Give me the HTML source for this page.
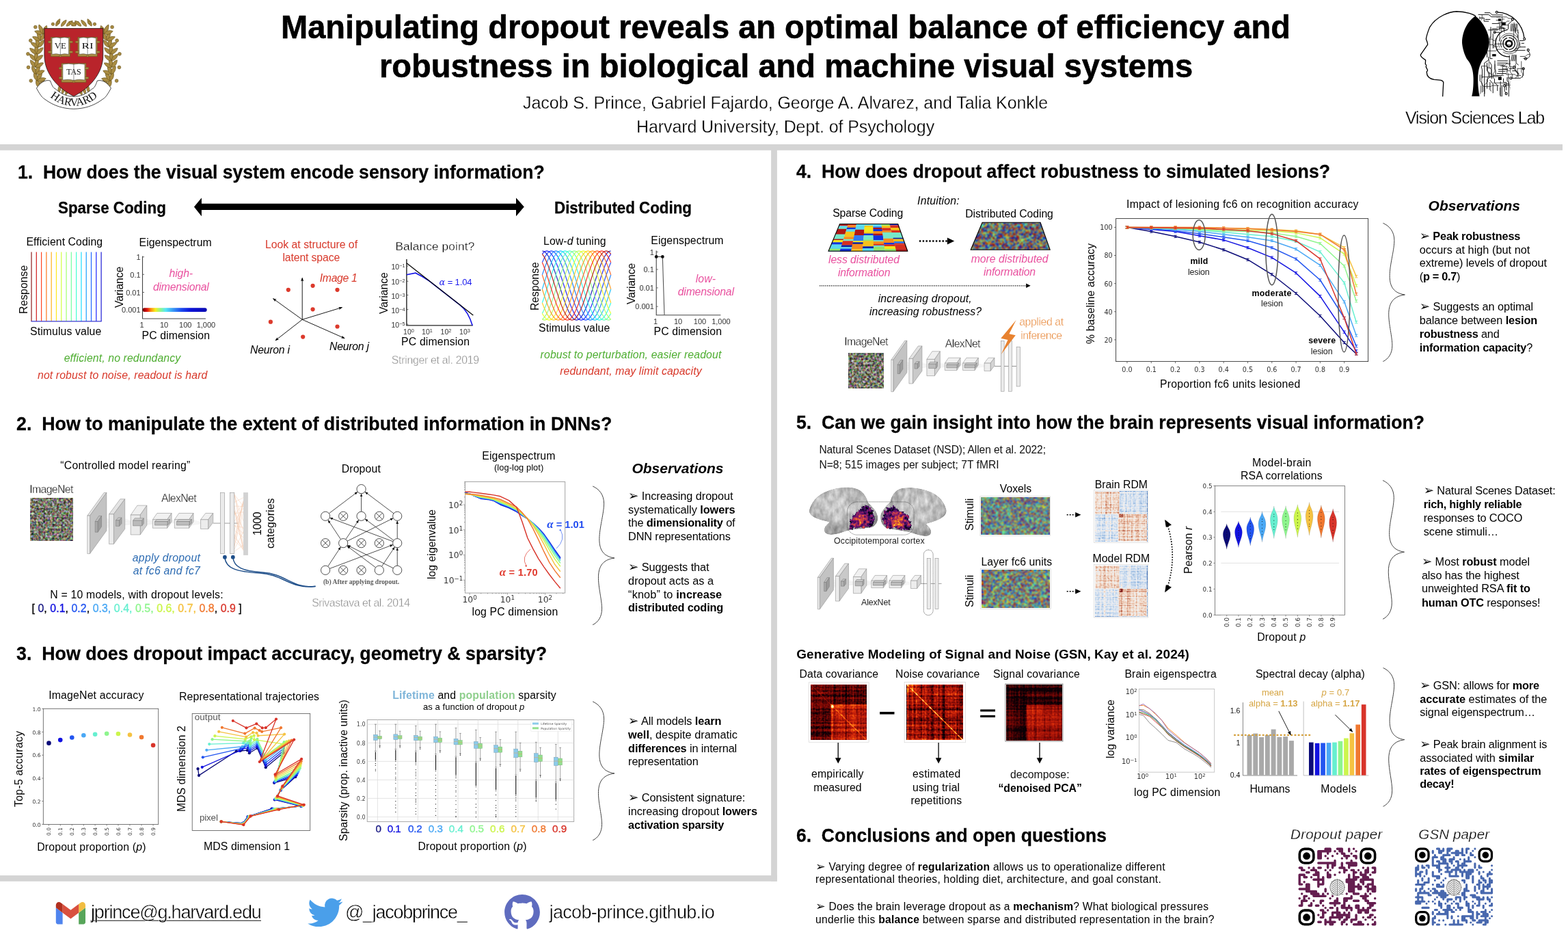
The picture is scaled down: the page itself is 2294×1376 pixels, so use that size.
<!DOCTYPE html>
<html lang="en"><head><meta charset="utf-8"><title>Manipulating dropout reveals an optimal balance of efficiency and robustness in biological and machine visual systems</title>
<style>
*{margin:0;padding:0;box-sizing:border-box}
html,body{width:2294px;height:1376px;background:#fff;overflow:hidden}
body{position:relative;font-family:"Liberation Sans",sans-serif;color:#000}
#gfx{position:absolute;left:0;top:0;width:2294px;height:1376px}
.t{position:absolute;white-space:nowrap;line-height:1em;transform-origin:0 0}
.d{font-family:"DejaVu Sans","Liberation Sans",sans-serif}
b{font-weight:700}
.lt{-webkit-text-stroke:0.45px #fff}
.lt2{-webkit-text-stroke:0.3px #fff}
.hv{-webkit-text-stroke:0.6px #000}
.hv2{-webkit-text-stroke:0.3px #000}
.md{-webkit-text-stroke:0.35px currentColor}
.md span{-webkit-text-stroke:0.35px currentColor}
.ar{font-family:"DejaVu Sans",sans-serif;font-size:1.12em;line-height:0}
sup{font-size:.7em;vertical-align:baseline;position:relative;top:-.45em}
</style></head><body>
<svg id="gfx" width="2294" height="1376" viewBox="0 0 2294 1376">
<defs><clipPath id="vslc"><path d="M905 170 L1000 125 L1190 112 L1400 170 L1520 300 L1570 480 L1585 600 L1640 690 L1580 770 L1560 880 L1540 1000 L1380 1012 L1362 1245 L962 1245 L940 1000 L1000 760 L1092 520 L1060 360 L1010 250Z"/></clipPath>
<linearGradient id="jetbar" x1="0" x2="1" y1="0" y2="0"><stop offset="0" stop-color="#6b0000"/><stop offset="0.07" stop-color="#e01010"/><stop offset="0.13" stop-color="#ff8a10"/><stop offset="0.2" stop-color="#f4f01c"/><stop offset="0.28" stop-color="#8ef58e"/><stop offset="0.36" stop-color="#55e6f5"/><stop offset="0.47" stop-color="#3a9bf5"/><stop offset="0.6" stop-color="#1c4cf0"/><stop offset="0.75" stop-color="#0c12d8"/><stop offset="1" stop-color="#0a0ab0"/></linearGradient>
<marker id="ah" viewBox="0 0 10 10" refX="9" refY="5" markerWidth="5.5" markerHeight="5.5" orient="auto-start-reverse" markerUnits="userSpaceOnUse"><path d="M0 1.2 L10 5 L0 8.8 L2 5 Z" fill="#000"/></marker>
<filter id="mos3" x="0" y="0" width="1" height="1" color-interpolation-filters="sRGB"><feTurbulence type="fractalNoise" baseFrequency="0.3" numOctaves="2" seed="3" result="n"/><feColorMatrix in="n" type="matrix" values="0.68 0 0 0.95 -0.34  0 0.68 0 0.95 -0.34  0 0 0.68 0.95 -0.39  0 0 0 0 1"/><feGaussianBlur stdDeviation="0.45"/><feComponentTransfer><feFuncA type="linear" slope="0" intercept="1"/></feComponentTransfer></filter>
<marker id="ah2" viewBox="0 0 10 10" refX="9.5" refY="5" markerWidth="4.6" markerHeight="4.6" orient="auto" markerUnits="userSpaceOnUse"><path d="M0 1 L10 5 L0 9 Z" fill="#111"/></marker>
<filter id="jn1" x="0" y="0" width="1" height="1" color-interpolation-filters="sRGB"><feTurbulence type="fractalNoise" baseFrequency="0.36" numOctaves="2" seed="4"/><feColorMatrix type="matrix" values="4.2 0 0 0 -1.6  4.2 0 0 0 -1.6  4.2 0 0 0 -1.6  0 0 0 0 1"/><feComponentTransfer><feFuncR type="table" tableValues="0.00 0.00 0.00 0.00 0.00 0.00 0.00 0.00 0.03 0.17 0.30 0.43 0.57 0.70 0.83 0.97 1.00 1.00 1.00 1.00 1.00 0.97 0.78 0.59"/><feFuncG type="table" tableValues="0.00 0.00 0.00 0.12 0.28 0.45 0.61 0.78 0.94 1.00 1.00 1.00 1.00 1.00 1.00 0.96 0.81 0.66 0.51 0.35 0.20 0.05 0.00 0.00"/><feFuncB type="table" tableValues="0.64 0.82 1.00 1.00 1.00 1.00 1.00 1.00 0.93 0.80 0.67 0.53 0.40 0.27 0.13 0.00 0.00 0.00 0.00 0.00 0.00 0.00 0.00 0.00"/></feComponentTransfer><feGaussianBlur stdDeviation="0.8"/><feComponentTransfer><feFuncA type="linear" slope="0" intercept="1"/></feComponentTransfer></filter>
<clipPath id="cpT2"><path d="M1437.1 325.2 L1522.1 325.2 L1536.2 365.3 L1420.2 365.3Z"/></clipPath>
<radialGradient id="brg" cx="0.42" cy="0.38" r="0.7"><stop offset="0" stop-color="#cfcfcf"/><stop offset="0.5" stop-color="#b9b9b9"/><stop offset="0.85" stop-color="#9a9a9a"/><stop offset="1" stop-color="#7a7a7a"/></radialGradient>
<radialGradient id="brg2" cx="0.58" cy="0.38" r="0.7"><stop offset="0" stop-color="#cfcfcf"/><stop offset="0.5" stop-color="#b9b9b9"/><stop offset="0.85" stop-color="#9a9a9a"/><stop offset="1" stop-color="#7a7a7a"/></radialGradient>
<filter id="brtex" x="-0.05" y="-0.05" width="1.1" height="1.1" color-interpolation-filters="sRGB"><feTurbulence type="fractalNoise" baseFrequency="0.022 0.012" numOctaves="3" seed="8" result="n"/><feColorMatrix in="n" type="matrix" values="1 0 0 0 0  1 0 0 0 0  1 0 0 0 0  0 0 0 0 1" result="g"/><feComposite in="SourceGraphic" in2="g" operator="arithmetic" k1="0" k2="1" k3="0.4" k4="-0.2" result="c"/><feGaussianBlur in="SourceAlpha" stdDeviation="6" result="sa"/><feComposite in="c" in2="SourceAlpha" operator="in"/></filter>
<radialGradient id="pgl" cx="0.42" cy="0.62" r="0.6"><stop offset="0" stop-color="#c8c8c8"/><stop offset="0.25" stop-color="#8a8a8a"/><stop offset="0.6" stop-color="#4a4a4a"/><stop offset="1" stop-color="#2c2c2c"/></radialGradient>
<radialGradient id="pgr" cx="0.5" cy="0.6" r="0.6"><stop offset="0" stop-color="#d4d4d4"/><stop offset="0.3" stop-color="#969696"/><stop offset="0.65" stop-color="#4c4c4c"/><stop offset="1" stop-color="#2c2c2c"/></radialGradient>
<filter id="infn" x="-0.15" y="-0.15" width="1.3" height="1.3" color-interpolation-filters="sRGB"><feTurbulence type="fractalNoise" baseFrequency="0.035" numOctaves="3" seed="5" result="n"/><feDisplacementMap in="SourceGraphic" in2="n" scale="55" xChannelSelector="R" yChannelSelector="G" result="d"/><feColorMatrix in="n" type="matrix" values="0 0 1 0 0  0 0 1 0 0  0 0 1 0 0  0 0 0 0 1" result="g"/><feComposite in="d" in2="g" operator="arithmetic" k1="0" k2="1" k3="1.1" k4="-0.55" result="c"/><feComponentTransfer in="c" result="m"><feFuncR type="table" tableValues="0 0.1 0.2 0.3 0.42 0.55 0.68 0.8 0.9 0.96 0.98 0.98"/><feFuncG type="table" tableValues="0 0.03 0.05 0.06 0.08 0.12 0.18 0.26 0.38 0.55 0.75 0.92"/><feFuncB type="table" tableValues="0.02 0.18 0.33 0.4 0.42 0.4 0.35 0.27 0.18 0.1 0.18 0.5"/></feComponentTransfer><feComposite in="m" in2="d" operator="in"/></filter>
<filter id="jn2" x="0" y="0" width="1" height="1" color-interpolation-filters="sRGB"><feTurbulence type="fractalNoise" baseFrequency="0.55" numOctaves="2" seed="7"/><feColorMatrix type="matrix" values="3.4 0 0 0 -1.25  3.4 0 0 0 -1.25  3.4 0 0 0 -1.25  0 0 0 0 1"/><feComponentTransfer><feFuncR type="table" tableValues="0.00 0.00 0.00 0.00 0.00 0.00 0.00 0.00 0.13 0.25 0.38 0.50 0.63 0.75 0.88 1.00 1.00 1.00 1.00 1.00 1.00 0.99 0.81 0.64"/><feFuncG type="table" tableValues="0.00 0.00 0.13 0.28 0.44 0.59 0.75 0.90 1.00 1.00 1.00 1.00 1.00 1.00 1.00 0.92 0.78 0.64 0.49 0.35 0.21 0.06 0.00 0.00"/><feFuncB type="table" tableValues="0.86 1.00 1.00 1.00 1.00 1.00 1.00 0.96 0.84 0.72 0.59 0.47 0.34 0.22 0.09 0.00 0.00 0.00 0.00 0.00 0.00 0.00 0.00 0.00"/></feComponentTransfer><feGaussianBlur stdDeviation="0.85"/><feComponentTransfer><feFuncA type="linear" slope="0" intercept="1"/></feComponentTransfer></filter>
<filter id="jn3" x="0" y="0" width="1" height="1" color-interpolation-filters="sRGB"><feTurbulence type="fractalNoise" baseFrequency="0.3 0.85" numOctaves="2" seed="9"/><feColorMatrix type="matrix" values="3.4 0 0 0 -1.22  3.4 0 0 0 -1.22  3.4 0 0 0 -1.22  0 0 0 0 1"/><feComponentTransfer><feFuncR type="table" tableValues="0.00 0.00 0.00 0.00 0.00 0.00 0.00 0.00 0.13 0.25 0.38 0.50 0.63 0.75 0.88 1.00 1.00 1.00 1.00 1.00 1.00 0.99 0.81 0.64"/><feFuncG type="table" tableValues="0.00 0.00 0.13 0.28 0.44 0.59 0.75 0.90 1.00 1.00 1.00 1.00 1.00 1.00 1.00 0.92 0.78 0.64 0.49 0.35 0.21 0.06 0.00 0.00"/><feFuncB type="table" tableValues="0.86 1.00 1.00 1.00 1.00 1.00 1.00 0.96 0.84 0.72 0.59 0.47 0.34 0.22 0.09 0.00 0.00 0.00 0.00 0.00 0.00 0.00 0.00 0.00"/></feComponentTransfer><feGaussianBlur stdDeviation="1.0 0.8"/><feComponentTransfer><feFuncA type="linear" slope="0" intercept="1"/></feComponentTransfer></filter>
<filter id="rdmf" x="0" y="0" width="1" height="1" color-interpolation-filters="sRGB"><feTurbulence type="fractalNoise" baseFrequency="0.45 0.003" numOctaves="2" seed="3"/><feColorMatrix type="matrix" values="1 0 0 0 0  1 0 0 0 0  1 0 0 0 0  0 0 0 0 1" result="nx"/><feTurbulence type="fractalNoise" baseFrequency="0.003 0.45" numOctaves="2" seed="8"/><feColorMatrix type="matrix" values="1 0 0 0 0  1 0 0 0 0  1 0 0 0 0  0 0 0 0 1" result="ny"/><feTurbulence type="fractalNoise" baseFrequency="0.4" numOctaves="1" seed="12"/><feColorMatrix type="matrix" values="1 0 0 0 0  1 0 0 0 0  1 0 0 0 0  0 0 0 0 1" result="nf"/><feComposite in="nx" in2="ny" operator="arithmetic" k1="0" k2="0.5" k3="0.5" k4="0" result="nxy"/><feComposite in="nxy" in2="nf" operator="arithmetic" k1="0" k2="0.85" k3="0.35" k4="-0.1" result="nn"/><feComposite in="SourceGraphic" in2="nn" operator="arithmetic" k1="0" k2="1" k3="1" k4="-0.5" result="sum"/><feGaussianBlur in="sum" stdDeviation="0.4" result="sum"/><feComponentTransfer in="sum"><feFuncR type="table" tableValues="0.25 0.42 0.6 0.76 0.88 0.95 0.95 0.9 0.8 0.66 0.5"/><feFuncG type="table" tableValues="0.42 0.58 0.73 0.84 0.91 0.94 0.86 0.72 0.52 0.3 0.12"/><feFuncB type="table" tableValues="0.7 0.8 0.88 0.93 0.95 0.93 0.8 0.62 0.42 0.24 0.12"/><feFuncA type="linear" slope="0" intercept="1"/></feComponentTransfer></filter>
<filter id="rdmf2" x="0" y="0" width="1" height="1" color-interpolation-filters="sRGB"><feTurbulence type="fractalNoise" baseFrequency="0.45 0.003" numOctaves="2" seed="6"/><feColorMatrix type="matrix" values="1 0 0 0 0  1 0 0 0 0  1 0 0 0 0  0 0 0 0 1" result="nx"/><feTurbulence type="fractalNoise" baseFrequency="0.003 0.45" numOctaves="2" seed="11"/><feColorMatrix type="matrix" values="1 0 0 0 0  1 0 0 0 0  1 0 0 0 0  0 0 0 0 1" result="ny"/><feTurbulence type="fractalNoise" baseFrequency="0.4" numOctaves="1" seed="15"/><feColorMatrix type="matrix" values="1 0 0 0 0  1 0 0 0 0  1 0 0 0 0  0 0 0 0 1" result="nf"/><feComposite in="nx" in2="ny" operator="arithmetic" k1="0" k2="0.5" k3="0.5" k4="0" result="nxy"/><feComposite in="nxy" in2="nf" operator="arithmetic" k1="0" k2="0.85" k3="0.35" k4="-0.1" result="nn"/><feComposite in="SourceGraphic" in2="nn" operator="arithmetic" k1="0" k2="1" k3="1" k4="-0.5" result="sum"/><feGaussianBlur in="sum" stdDeviation="0.4" result="sum"/><feComponentTransfer in="sum"><feFuncR type="table" tableValues="0.25 0.42 0.6 0.76 0.88 0.95 0.95 0.9 0.8 0.66 0.5"/><feFuncG type="table" tableValues="0.42 0.58 0.73 0.84 0.91 0.94 0.86 0.72 0.52 0.3 0.12"/><feFuncB type="table" tableValues="0.7 0.8 0.88 0.93 0.95 0.93 0.8 0.62 0.42 0.24 0.12"/><feFuncA type="linear" slope="0" intercept="1"/></feComponentTransfer></filter>
<filter id="hot1" x="0" y="0" width="1" height="1" color-interpolation-filters="sRGB"><feTurbulence type="fractalNoise" baseFrequency="0.3 0.003" numOctaves="2" seed="2"/><feColorMatrix type="matrix" values="1 0 0 0 0  1 0 0 0 0  1 0 0 0 0  0 0 0 0 1" result="nx"/><feTurbulence type="fractalNoise" baseFrequency="0.003 0.3" numOctaves="2" seed="7"/><feColorMatrix type="matrix" values="1 0 0 0 0  1 0 0 0 0  1 0 0 0 0  0 0 0 0 1" result="ny"/><feTurbulence type="fractalNoise" baseFrequency="0.4" numOctaves="1" seed="11"/><feColorMatrix type="matrix" values="1 0 0 0 0  1 0 0 0 0  1 0 0 0 0  0 0 0 0 1" result="nf"/><feComposite in="nx" in2="ny" operator="arithmetic" k1="0" k2="0.5" k3="0.5" k4="0" result="nxy"/><feComposite in="nxy" in2="nf" operator="arithmetic" k1="0" k2="1.05" k3="0.35" k4="-0.2" result="nn"/><feComposite in="SourceGraphic" in2="nn" operator="arithmetic" k1="0" k2="1" k3="1" k4="-0.5" result="sum"/><feGaussianBlur in="sum" stdDeviation="0.4" result="sum"/><feComponentTransfer in="sum"><feFuncR type="table" tableValues="0.04 0.25 0.45 0.62 0.78 0.9 0.98 1 1 1"/><feFuncG type="table" tableValues="0 0.01 0.03 0.07 0.13 0.25 0.45 0.7 0.88 1"/><feFuncB type="table" tableValues="0.02 0.02 0.02 0.03 0.04 0.05 0.08 0.15 0.4 0.8"/><feFuncA type="linear" slope="0" intercept="1"/></feComponentTransfer></filter>
<filter id="hot2" x="0" y="0" width="1" height="1" color-interpolation-filters="sRGB"><feTurbulence type="fractalNoise" baseFrequency="0.3 0.003" numOctaves="2" seed="12"/><feColorMatrix type="matrix" values="1 0 0 0 0  1 0 0 0 0  1 0 0 0 0  0 0 0 0 1" result="nx"/><feTurbulence type="fractalNoise" baseFrequency="0.003 0.3" numOctaves="2" seed="17"/><feColorMatrix type="matrix" values="1 0 0 0 0  1 0 0 0 0  1 0 0 0 0  0 0 0 0 1" result="ny"/><feTurbulence type="fractalNoise" baseFrequency="0.4" numOctaves="1" seed="21"/><feColorMatrix type="matrix" values="1 0 0 0 0  1 0 0 0 0  1 0 0 0 0  0 0 0 0 1" result="nf"/><feComposite in="nx" in2="ny" operator="arithmetic" k1="0" k2="0.5" k3="0.5" k4="0" result="nxy"/><feComposite in="nxy" in2="nf" operator="arithmetic" k1="0" k2="1.3" k3="0.45" k4="-0.38" result="nn"/><feComposite in="SourceGraphic" in2="nn" operator="arithmetic" k1="0" k2="1" k3="1" k4="-0.5" result="sum"/><feGaussianBlur in="sum" stdDeviation="0.4" result="sum"/><feComponentTransfer in="sum"><feFuncR type="table" tableValues="0.04 0.25 0.45 0.62 0.78 0.9 0.98 1 1 1"/><feFuncG type="table" tableValues="0 0.01 0.03 0.07 0.13 0.25 0.45 0.7 0.88 1"/><feFuncB type="table" tableValues="0.02 0.02 0.02 0.03 0.04 0.05 0.08 0.15 0.4 0.8"/><feFuncA type="linear" slope="0" intercept="1"/></feComponentTransfer></filter>
<filter id="hot3" x="0" y="0" width="1" height="1" color-interpolation-filters="sRGB"><feTurbulence type="fractalNoise" baseFrequency="0.3 0.003" numOctaves="2" seed="21"/><feColorMatrix type="matrix" values="1 0 0 0 0  1 0 0 0 0  1 0 0 0 0  0 0 0 0 1" result="nx"/><feTurbulence type="fractalNoise" baseFrequency="0.003 0.3" numOctaves="2" seed="26"/><feColorMatrix type="matrix" values="1 0 0 0 0  1 0 0 0 0  1 0 0 0 0  0 0 0 0 1" result="ny"/><feTurbulence type="fractalNoise" baseFrequency="0.4" numOctaves="1" seed="30"/><feColorMatrix type="matrix" values="1 0 0 0 0  1 0 0 0 0  1 0 0 0 0  0 0 0 0 1" result="nf"/><feComposite in="nx" in2="ny" operator="arithmetic" k1="0" k2="0.5" k3="0.5" k4="0" result="nxy"/><feComposite in="nxy" in2="nf" operator="arithmetic" k1="0" k2="0.7" k3="0.25" k4="0.03" result="nn"/><feComposite in="SourceGraphic" in2="nn" operator="arithmetic" k1="0" k2="1" k3="1" k4="-0.5" result="sum"/><feGaussianBlur in="sum" stdDeviation="0.4" result="sum"/><feComponentTransfer in="sum"><feFuncR type="table" tableValues="0.04 0.25 0.45 0.62 0.78 0.9 0.98 1 1 1"/><feFuncG type="table" tableValues="0 0.01 0.03 0.07 0.13 0.25 0.45 0.7 0.88 1"/><feFuncB type="table" tableValues="0.02 0.02 0.02 0.03 0.04 0.05 0.08 0.15 0.4 0.8"/><feFuncA type="linear" slope="0" intercept="1"/></feComponentTransfer></filter>
<marker id="ah3" viewBox="0 0 10 10" refX="9" refY="5" markerWidth="6" markerHeight="6" orient="auto" markerUnits="userSpaceOnUse"><path d="M0 1 L10 5 L0 9 Z" fill="#000"/></marker></defs>
<rect x="0" y="211" width="2286" height="8.8" fill="#d4d4d4"/>
<rect x="1128.1" y="219" width="8.8" height="1069.8" fill="#d4d4d4"/>
<rect x="0" y="1280.1" width="1136.9" height="8.7" fill="#d4d4d4"/>
<g transform="translate(30 20) scale(0.109)"><path transform="translate(245 990) rotate(-103)" d="M0 0 C36 -40 96 -24 120 0 C96 20 36 40 0 0Z" fill="#a98c42" stroke="#6b5620" stroke-width="6"/><path transform="translate(245 990) rotate(-55)" d="M0 0 C40.5 -40 108 -24 135 0 C108 20 40.5 40 0 0Z" fill="#a98c42" stroke="#6b5620" stroke-width="6"/><path transform="translate(245 990) rotate(-7)" d="M0 0 C36 -40 96 -24 120 0 C96 20 36 40 0 0Z" fill="#a98c42" stroke="#6b5620" stroke-width="6"/><circle cx="140" cy="900" r="22" fill="#a98c42" stroke="#6b5620" stroke-width="6"/><path transform="translate(225.71 900) rotate(-110.5)" d="M0 0 C36 -40 96 -24 120 0 C96 20 36 40 0 0Z" fill="#a98c42" stroke="#6b5620" stroke-width="6"/><path transform="translate(225.71 900) rotate(-62.5)" d="M0 0 C40.5 -40 108 -24 135 0 C108 20 40.5 40 0 0Z" fill="#a98c42" stroke="#6b5620" stroke-width="6"/><path transform="translate(225.71 900) rotate(-14.5)" d="M0 0 C36 -40 96 -24 120 0 C96 20 36 40 0 0Z" fill="#a98c42" stroke="#6b5620" stroke-width="6"/><path transform="translate(210.5 810) rotate(-118)" d="M0 0 C36 -40 96 -24 120 0 C96 20 36 40 0 0Z" fill="#a98c42" stroke="#6b5620" stroke-width="6"/><path transform="translate(210.5 810) rotate(-70)" d="M0 0 C40.5 -40 108 -24 135 0 C108 20 40.5 40 0 0Z" fill="#a98c42" stroke="#6b5620" stroke-width="6"/><path transform="translate(210.5 810) rotate(-22)" d="M0 0 C36 -40 96 -24 120 0 C96 20 36 40 0 0Z" fill="#a98c42" stroke="#6b5620" stroke-width="6"/><circle cx="105.5" cy="720" r="22" fill="#a98c42" stroke="#6b5620" stroke-width="6"/><path transform="translate(202.83 720) rotate(-125.5)" d="M0 0 C36 -40 96 -24 120 0 C96 20 36 40 0 0Z" fill="#a98c42" stroke="#6b5620" stroke-width="6"/><path transform="translate(202.83 720) rotate(-77.5)" d="M0 0 C40.5 -40 108 -24 135 0 C108 20 40.5 40 0 0Z" fill="#a98c42" stroke="#6b5620" stroke-width="6"/><path transform="translate(202.83 720) rotate(-29.5)" d="M0 0 C36 -40 96 -24 120 0 C96 20 36 40 0 0Z" fill="#a98c42" stroke="#6b5620" stroke-width="6"/><path transform="translate(205 630) rotate(-133)" d="M0 0 C36 -40 96 -24 120 0 C96 20 36 40 0 0Z" fill="#a98c42" stroke="#6b5620" stroke-width="6"/><path transform="translate(205 630) rotate(-85)" d="M0 0 C40.5 -40 108 -24 135 0 C108 20 40.5 40 0 0Z" fill="#a98c42" stroke="#6b5620" stroke-width="6"/><path transform="translate(205 630) rotate(-37)" d="M0 0 C36 -40 96 -24 120 0 C96 20 36 40 0 0Z" fill="#a98c42" stroke="#6b5620" stroke-width="6"/><circle cx="100" cy="540" r="22" fill="#a98c42" stroke="#6b5620" stroke-width="6"/><path transform="translate(217.83 540) rotate(-140.5)" d="M0 0 C36 -40 96 -24 120 0 C96 20 36 40 0 0Z" fill="#a98c42" stroke="#6b5620" stroke-width="6"/><path transform="translate(217.83 540) rotate(-92.5)" d="M0 0 C40.5 -40 108 -24 135 0 C108 20 40.5 40 0 0Z" fill="#a98c42" stroke="#6b5620" stroke-width="6"/><path transform="translate(217.83 540) rotate(-44.5)" d="M0 0 C36 -40 96 -24 120 0 C96 20 36 40 0 0Z" fill="#a98c42" stroke="#6b5620" stroke-width="6"/><path transform="translate(240.5 450) rotate(-148)" d="M0 0 C36 -40 96 -24 120 0 C96 20 36 40 0 0Z" fill="#a98c42" stroke="#6b5620" stroke-width="6"/><path transform="translate(240.5 450) rotate(-100)" d="M0 0 C40.5 -40 108 -24 135 0 C108 20 40.5 40 0 0Z" fill="#a98c42" stroke="#6b5620" stroke-width="6"/><path transform="translate(240.5 450) rotate(-52)" d="M0 0 C36 -40 96 -24 120 0 C96 20 36 40 0 0Z" fill="#a98c42" stroke="#6b5620" stroke-width="6"/><circle cx="135.5" cy="360" r="22" fill="#a98c42" stroke="#6b5620" stroke-width="6"/><path transform="translate(270.71 360) rotate(-155.5)" d="M0 0 C36 -40 96 -24 120 0 C96 20 36 40 0 0Z" fill="#a98c42" stroke="#6b5620" stroke-width="6"/><path transform="translate(270.71 360) rotate(-107.5)" d="M0 0 C40.5 -40 108 -24 135 0 C108 20 40.5 40 0 0Z" fill="#a98c42" stroke="#6b5620" stroke-width="6"/><path transform="translate(270.71 360) rotate(-59.5)" d="M0 0 C36 -40 96 -24 120 0 C96 20 36 40 0 0Z" fill="#a98c42" stroke="#6b5620" stroke-width="6"/><path transform="translate(305 270) rotate(-163)" d="M0 0 C36 -40 96 -24 120 0 C96 20 36 40 0 0Z" fill="#a98c42" stroke="#6b5620" stroke-width="6"/><path transform="translate(305 270) rotate(-115)" d="M0 0 C40.5 -40 108 -24 135 0 C108 20 40.5 40 0 0Z" fill="#a98c42" stroke="#6b5620" stroke-width="6"/><path transform="translate(305 270) rotate(-67)" d="M0 0 C36 -40 96 -24 120 0 C96 20 36 40 0 0Z" fill="#a98c42" stroke="#6b5620" stroke-width="6"/><circle cx="200" cy="180" r="22" fill="#a98c42" stroke="#6b5620" stroke-width="6"/><path transform="translate(1185 990) rotate(-173)" d="M0 0 C36 -40 96 -24 120 0 C96 20 36 40 0 0Z" fill="#a98c42" stroke="#6b5620" stroke-width="6"/><path transform="translate(1185 990) rotate(-125)" d="M0 0 C40.5 -40 108 -24 135 0 C108 20 40.5 40 0 0Z" fill="#a98c42" stroke="#6b5620" stroke-width="6"/><path transform="translate(1185 990) rotate(-77)" d="M0 0 C36 -40 96 -24 120 0 C96 20 36 40 0 0Z" fill="#a98c42" stroke="#6b5620" stroke-width="6"/><circle cx="1290" cy="900" r="22" fill="#a98c42" stroke="#6b5620" stroke-width="6"/><path transform="translate(1204.29 900) rotate(-165.5)" d="M0 0 C36 -40 96 -24 120 0 C96 20 36 40 0 0Z" fill="#a98c42" stroke="#6b5620" stroke-width="6"/><path transform="translate(1204.29 900) rotate(-117.5)" d="M0 0 C40.5 -40 108 -24 135 0 C108 20 40.5 40 0 0Z" fill="#a98c42" stroke="#6b5620" stroke-width="6"/><path transform="translate(1204.29 900) rotate(-69.5)" d="M0 0 C36 -40 96 -24 120 0 C96 20 36 40 0 0Z" fill="#a98c42" stroke="#6b5620" stroke-width="6"/><path transform="translate(1219.5 810) rotate(-158)" d="M0 0 C36 -40 96 -24 120 0 C96 20 36 40 0 0Z" fill="#a98c42" stroke="#6b5620" stroke-width="6"/><path transform="translate(1219.5 810) rotate(-110)" d="M0 0 C40.5 -40 108 -24 135 0 C108 20 40.5 40 0 0Z" fill="#a98c42" stroke="#6b5620" stroke-width="6"/><path transform="translate(1219.5 810) rotate(-62)" d="M0 0 C36 -40 96 -24 120 0 C96 20 36 40 0 0Z" fill="#a98c42" stroke="#6b5620" stroke-width="6"/><circle cx="1324.5" cy="720" r="22" fill="#a98c42" stroke="#6b5620" stroke-width="6"/><path transform="translate(1227.17 720) rotate(-150.5)" d="M0 0 C36 -40 96 -24 120 0 C96 20 36 40 0 0Z" fill="#a98c42" stroke="#6b5620" stroke-width="6"/><path transform="translate(1227.17 720) rotate(-102.5)" d="M0 0 C40.5 -40 108 -24 135 0 C108 20 40.5 40 0 0Z" fill="#a98c42" stroke="#6b5620" stroke-width="6"/><path transform="translate(1227.17 720) rotate(-54.5)" d="M0 0 C36 -40 96 -24 120 0 C96 20 36 40 0 0Z" fill="#a98c42" stroke="#6b5620" stroke-width="6"/><path transform="translate(1225 630) rotate(-143)" d="M0 0 C36 -40 96 -24 120 0 C96 20 36 40 0 0Z" fill="#a98c42" stroke="#6b5620" stroke-width="6"/><path transform="translate(1225 630) rotate(-95)" d="M0 0 C40.5 -40 108 -24 135 0 C108 20 40.5 40 0 0Z" fill="#a98c42" stroke="#6b5620" stroke-width="6"/><path transform="translate(1225 630) rotate(-47)" d="M0 0 C36 -40 96 -24 120 0 C96 20 36 40 0 0Z" fill="#a98c42" stroke="#6b5620" stroke-width="6"/><circle cx="1330" cy="540" r="22" fill="#a98c42" stroke="#6b5620" stroke-width="6"/><path transform="translate(1212.17 540) rotate(-135.5)" d="M0 0 C36 -40 96 -24 120 0 C96 20 36 40 0 0Z" fill="#a98c42" stroke="#6b5620" stroke-width="6"/><path transform="translate(1212.17 540) rotate(-87.5)" d="M0 0 C40.5 -40 108 -24 135 0 C108 20 40.5 40 0 0Z" fill="#a98c42" stroke="#6b5620" stroke-width="6"/><path transform="translate(1212.17 540) rotate(-39.5)" d="M0 0 C36 -40 96 -24 120 0 C96 20 36 40 0 0Z" fill="#a98c42" stroke="#6b5620" stroke-width="6"/><path transform="translate(1189.5 450) rotate(-128)" d="M0 0 C36 -40 96 -24 120 0 C96 20 36 40 0 0Z" fill="#a98c42" stroke="#6b5620" stroke-width="6"/><path transform="translate(1189.5 450) rotate(-80)" d="M0 0 C40.5 -40 108 -24 135 0 C108 20 40.5 40 0 0Z" fill="#a98c42" stroke="#6b5620" stroke-width="6"/><path transform="translate(1189.5 450) rotate(-32)" d="M0 0 C36 -40 96 -24 120 0 C96 20 36 40 0 0Z" fill="#a98c42" stroke="#6b5620" stroke-width="6"/><circle cx="1294.5" cy="360" r="22" fill="#a98c42" stroke="#6b5620" stroke-width="6"/><path transform="translate(1159.29 360) rotate(-120.5)" d="M0 0 C36 -40 96 -24 120 0 C96 20 36 40 0 0Z" fill="#a98c42" stroke="#6b5620" stroke-width="6"/><path transform="translate(1159.29 360) rotate(-72.5)" d="M0 0 C40.5 -40 108 -24 135 0 C108 20 40.5 40 0 0Z" fill="#a98c42" stroke="#6b5620" stroke-width="6"/><path transform="translate(1159.29 360) rotate(-24.5)" d="M0 0 C36 -40 96 -24 120 0 C96 20 36 40 0 0Z" fill="#a98c42" stroke="#6b5620" stroke-width="6"/><path transform="translate(1125 270) rotate(-113)" d="M0 0 C36 -40 96 -24 120 0 C96 20 36 40 0 0Z" fill="#a98c42" stroke="#6b5620" stroke-width="6"/><path transform="translate(1125 270) rotate(-65)" d="M0 0 C40.5 -40 108 -24 135 0 C108 20 40.5 40 0 0Z" fill="#a98c42" stroke="#6b5620" stroke-width="6"/><path transform="translate(1125 270) rotate(-17)" d="M0 0 C36 -40 96 -24 120 0 C96 20 36 40 0 0Z" fill="#a98c42" stroke="#6b5620" stroke-width="6"/><circle cx="1230" cy="180" r="22" fill="#a98c42" stroke="#6b5620" stroke-width="6"/><path transform="translate(685 162) rotate(-30)" d="M0 0 C33 -34 88 -20.4 110 0 C88 17 33 34 0 0Z" fill="#a98c42" stroke="#6b5620" stroke-width="6"/><path transform="translate(615 166) rotate(-40)" d="M0 0 C33 -34 88 -20.4 110 0 C88 17 33 34 0 0Z" fill="#a98c42" stroke="#6b5620" stroke-width="6"/><path transform="translate(545 170) rotate(-50)" d="M0 0 C33 -34 88 -20.4 110 0 C88 17 33 34 0 0Z" fill="#a98c42" stroke="#6b5620" stroke-width="6"/><path transform="translate(475 166) rotate(-60)" d="M0 0 C33 -34 88 -20.4 110 0 C88 17 33 34 0 0Z" fill="#a98c42" stroke="#6b5620" stroke-width="6"/><circle cx="435" cy="140" r="20" fill="#a98c42" stroke="#6b5620" stroke-width="6"/><circle cx="510" cy="118" r="18" fill="#a98c42" stroke="#6b5620" stroke-width="6"/><path transform="translate(745 162) rotate(-150)" d="M0 0 C33 -34 88 -20.4 110 0 C88 17 33 34 0 0Z" fill="#a98c42" stroke="#6b5620" stroke-width="6"/><path transform="translate(815 166) rotate(-140)" d="M0 0 C33 -34 88 -20.4 110 0 C88 17 33 34 0 0Z" fill="#a98c42" stroke="#6b5620" stroke-width="6"/><path transform="translate(885 170) rotate(-130)" d="M0 0 C33 -34 88 -20.4 110 0 C88 17 33 34 0 0Z" fill="#a98c42" stroke="#6b5620" stroke-width="6"/><path transform="translate(955 166) rotate(-120)" d="M0 0 C33 -34 88 -20.4 110 0 C88 17 33 34 0 0Z" fill="#a98c42" stroke="#6b5620" stroke-width="6"/><circle cx="995" cy="140" r="20" fill="#a98c42" stroke="#6b5620" stroke-width="6"/><circle cx="920" cy="118" r="18" fill="#a98c42" stroke="#6b5620" stroke-width="6"/><path transform="translate(605 1090) rotate(-65)" d="M0 0 C33 -30 88 -18 110 0 C88 15 33 30 0 0Z" fill="#a98c42" stroke="#6b5620" stroke-width="6"/><path transform="translate(560 1075) rotate(-73)" d="M0 0 C33 -30 88 -18 110 0 C88 15 33 30 0 0Z" fill="#a98c42" stroke="#6b5620" stroke-width="6"/><path transform="translate(515 1060) rotate(-81)" d="M0 0 C33 -30 88 -18 110 0 C88 15 33 30 0 0Z" fill="#a98c42" stroke="#6b5620" stroke-width="6"/><path transform="translate(825 1090) rotate(-115)" d="M0 0 C33 -30 88 -18 110 0 C88 15 33 30 0 0Z" fill="#a98c42" stroke="#6b5620" stroke-width="6"/><path transform="translate(870 1075) rotate(-107)" d="M0 0 C33 -30 88 -18 110 0 C88 15 33 30 0 0Z" fill="#a98c42" stroke="#6b5620" stroke-width="6"/><path transform="translate(915 1060) rotate(-99)" d="M0 0 C33 -30 88 -18 110 0 C88 15 33 30 0 0Z" fill="#a98c42" stroke="#6b5620" stroke-width="6"/><path d="M320 198 H1108 V560 C1108 800 930 1000 714 1108 C498 1000 320 800 320 560 Z" fill="#b9242b" stroke="#111" stroke-width="7"/><rect x="405" y="315" width="260" height="260" fill="#a98c42" stroke="#6b5620" stroke-width="6"/><rect x="371" y="367" width="328" height="26" fill="#a98c42" stroke="#6b5620" stroke-width="5"/><rect x="371" y="502.2" width="328" height="26" fill="#a98c42" stroke="#6b5620" stroke-width="5"/><path d="M423 327 Q483 309 535 327 Q587 309 647 327 V545 Q587 529 535 549 Q483 529 423 545 Z" fill="#fff" stroke="#444" stroke-width="5"/><line x1="535" y1="325" x2="535" y2="549" stroke="#333" stroke-width="5"/><circle cx="535" cy="567" r="14" fill="#a98c42" stroke="#6b5620" stroke-width="5"/><text x="535" y="471" font-family="'Liberation Serif',serif" font-size="118" text-anchor="middle" textLength="156" lengthAdjust="spacingAndGlyphs" fill="#111">VE</text><rect x="770" y="315" width="260" height="260" fill="#a98c42" stroke="#6b5620" stroke-width="6"/><rect x="736" y="367" width="328" height="26" fill="#a98c42" stroke="#6b5620" stroke-width="5"/><rect x="736" y="502.2" width="328" height="26" fill="#a98c42" stroke="#6b5620" stroke-width="5"/><path d="M788 327 Q848 309 900 327 Q952 309 1012 327 V545 Q952 529 900 549 Q848 529 788 545 Z" fill="#fff" stroke="#444" stroke-width="5"/><line x1="900" y1="325" x2="900" y2="549" stroke="#333" stroke-width="5"/><circle cx="900" cy="567" r="14" fill="#a98c42" stroke="#6b5620" stroke-width="5"/><text x="900" y="471" font-family="'Liberation Serif',serif" font-size="118" text-anchor="middle" textLength="156" lengthAdjust="spacingAndGlyphs" fill="#111">RI</text><rect x="550" y="668" width="330" height="252" fill="#a98c42" stroke="#6b5620" stroke-width="6"/><rect x="516" y="718.4" width="398" height="26" fill="#a98c42" stroke="#6b5620" stroke-width="5"/><rect x="516" y="849.44" width="398" height="26" fill="#a98c42" stroke="#6b5620" stroke-width="5"/><path d="M568 680 Q649 662 715 680 Q781 662 862 680 V890 Q781 874 715 894 Q649 874 568 890 Z" fill="#fff" stroke="#444" stroke-width="5"/><line x1="715" y1="678" x2="715" y2="894" stroke="#333" stroke-width="5"/><circle cx="715" cy="912" r="14" fill="#a98c42" stroke="#6b5620" stroke-width="5"/><text x="715" y="819.2" font-family="'Liberation Serif',serif" font-size="118" text-anchor="middle" textLength="198" lengthAdjust="spacingAndGlyphs" fill="#111">TAS</text><path d="M215 1000 C260 930 330 880 400 900 C420 960 440 1000 470 1010 C560 1090 640 1110 714 1112 C790 1110 870 1090 960 1010 C990 1000 1010 960 1030 900 C1100 880 1170 930 1215 1000 C1150 1120 1130 1130 1100 1150 C980 1240 850 1275 714 1278 C580 1275 450 1240 330 1150 C300 1130 280 1120 215 1000Z" fill="#fff" stroke="#111" stroke-width="7"/><path id="hvarc" d="M385 1105 C500 1210 620 1236 716 1236 C812 1236 930 1210 1048 1105" fill="none"/><text font-family="'Liberation Serif',serif" font-size="150" fill="#111"><textPath href="#hvarc" startOffset="50%" text-anchor="middle" textLength="700" lengthAdjust="spacing">HARVARD</textPath></text></g>
<g transform="translate(2060 5) scale(0.109)" fill="none" stroke="#000" stroke-linecap="round" stroke-linejoin="round"><path d="M465 1245 L475 1060 C470 1030 430 1025 350 1022 C270 1010 250 960 250 920 C250 910 265 905 262 895 L240 850 C250 835 250 830 232 812 L235 760 C170 720 165 705 168 690 L262 555 C268 540 250 500 242 478 C250 420 270 370 290 320 C380 170 560 110 650 108 C790 110 880 150 905 170" stroke-width="12"/><path d="M905 170 C1010 250 1090 400 1090 520 C1085 650 1000 760 1000 760 C960 830 940 900 938 1000 C935 1100 950 1200 960 1245 L855 1245 C870 1200 880 1100 877 1000 C875 900 850 820 800 760 C730 650 725 520 725 520 C730 350 820 220 905 170Z" fill="#000" stroke="none"/><circle cx="1355" cy="540" r="40" stroke-width="24"/><circle cx="1355" cy="540" r="80" stroke-width="12" stroke-dasharray="120 26 200 30"/><circle cx="1355" cy="540" r="112" stroke-width="10" stroke-dasharray="260 40 100 30" stroke="#333"/><circle cx="1355" cy="540" r="138" stroke-width="9" stroke-dasharray="300 80 60 30" stroke="#555"/><path d="M1330 355 C1230 370 1175 450 1175 540 C1175 650 1260 720 1360 715" stroke-width="12"/><path d="M1460 430 C1500 480 1500 600 1440 660" stroke-width="6" stroke="#333"/><path d="M1190 118 C1400 120 1540 280 1562 478" stroke-width="11"/><circle cx="1190" cy="118" r="14" stroke-width="10" fill="#fff"/><circle cx="1562" cy="478" r="14" stroke-width="10" fill="#fff"/><circle cx="1402" cy="215" r="14" stroke-width="10" fill="#fff"/><circle cx="1162" cy="388" r="14" stroke-width="10" fill="#fff"/><circle cx="1612" cy="625" r="14" stroke-width="10" fill="#fff"/><circle cx="1578" cy="742" r="14" stroke-width="10" fill="#fff"/><circle cx="1548" cy="875" r="14" stroke-width="10" fill="#fff"/><circle cx="1380" cy="1003" r="14" stroke-width="10" fill="#fff"/><circle cx="1295" cy="1105" r="14" stroke-width="10" fill="#fff"/><circle cx="1318" cy="1210" r="14" stroke-width="10" fill="#fff"/><circle cx="1425" cy="855" r="14" stroke-width="10" fill="#fff"/><path d="M945 150 H1080 L1120 180 H1240" stroke-width="9" stroke="#111"/><path d="M1030 125 H1100 L1130 155 H1270" stroke-width="9" stroke="#111"/><path d="M960 195 H1020 V240 H1080" stroke-width="9" stroke="#111"/><path d="M1040 215 H1100" stroke-width="9" stroke="#111"/><path d="M1402 228 L1345 280 V340 L1330 355" stroke-width="9" stroke="#111"/><path d="M1162 388 H1230" stroke-width="9" stroke="#111"/><path d="M1110 320 V460" stroke-width="9" stroke="#111"/><path d="M1140 410 V600" stroke-width="9" stroke="#111"/><path d="M1100 450 V740 H1130" stroke-width="9" stroke="#111"/><path d="M1060 640 V720" stroke-width="9" stroke="#111"/><path d="M1612 638 C1660 690 1630 730 1590 742" stroke-width="9" stroke="#111"/><path d="M1440 605 H1480 L1500 585 H1575" stroke-width="9" stroke="#111"/><path d="M1420 630 H1570" stroke-width="9" stroke="#111"/><path d="M1548 888 V965 L1510 1003 H1393" stroke-width="9" stroke="#111"/><path d="M1360 700 V830 C1360 850 1400 855 1412 855" stroke-width="9" stroke="#111"/><path d="M1450 700 V800 L1480 825" stroke-width="9" stroke="#111"/><path d="M1025 1245 V800 L1080 760 V720" stroke-width="9" stroke="#111"/><path d="M1060 800 V900 L1090 930 V980" stroke-width="9" stroke="#111"/><path d="M1100 790 L1120 830 V1010" stroke-width="9" stroke="#111"/><path d="M1165 770 V880 L1175 900 V950" stroke-width="9" stroke="#111"/><path d="M1195 940 H1320" stroke-width="9" stroke="#111"/><path d="M1110 980 L1060 1020 V1140" stroke-width="9" stroke="#111"/><path d="M965 960 V1040 L995 1070 V1190" stroke-width="9" stroke="#111"/><path d="M985 850 L995 890 V1000" stroke-width="9" stroke="#111"/><path d="M1100 1030 L1140 1080 V1200" stroke-width="9" stroke="#111"/><path d="M1160 1010 V1060 L1200 1100 V1170" stroke-width="9" stroke="#111"/><path d="M1100 1060 V1160 L1115 1175" stroke-width="9" stroke="#111"/><path d="M1240 1050 V1245" stroke-width="9" stroke="#111"/><path d="M1260 1245 V1100" stroke-width="9" stroke="#111"/><path d="M1295 1118 V1180 L1318 1200" stroke-width="9" stroke="#111"/><path d="M1330 995 V1040 L1352 1060 V1245" stroke-width="9" stroke="#111"/><path d="M1280 1010 V1060 H1320 V1160" stroke-width="9" stroke="#111"/><path d="M1200 770 H1335" stroke-width="9" stroke="#111"/><path d="M1200 800 H1335" stroke-width="9" stroke="#111"/><path d="M1200 825 H1290" stroke-width="9" stroke="#111"/><path d="M1215 885 H1330" stroke-width="9" stroke="#111"/><path d="M1215 910 H1300" stroke-width="9" stroke="#111"/><path d="M1280 845 H1330" stroke-width="9" stroke="#111"/><path d="M1360 875 H1420 L1480 950" stroke-width="9" stroke="#111"/><path d="M1400 905 H1440 L1490 950" stroke-width="9" stroke="#111"/><path d="M1130 270 H1220" stroke-width="9" stroke="#111"/><path d="M1130 340 H1200" stroke-width="9" stroke="#111"/><path d="M1230 260 V360" stroke-width="9" stroke="#111"/><path d="M1240 310 L1290 350" stroke-width="9" stroke="#111"/><path d="M1500 500 H1550" stroke-width="9" stroke="#111"/><path d="M1525 535 H1555" stroke-width="9" stroke="#111"/><path d="M1475 355 V395" stroke-width="9" stroke="#111"/><rect x="1210" y="205" width="38" height="32" fill="#000" stroke="none"/><rect x="1258" y="255" width="52" height="38" fill="#000" stroke="none"/><rect x="1210" y="985" width="45" height="42" fill="#000" stroke="none"/><rect x="1130" y="680" width="50" height="30" fill="#000" stroke="none"/><line x1="1385" y1="275" x2="1375" y2="370" stroke="#333" stroke-width="8"/><line x1="1399" y1="275" x2="1389" y2="370" stroke="#333" stroke-width="8"/><line x1="1413" y1="275" x2="1403" y2="370" stroke="#333" stroke-width="8"/><line x1="1427" y1="275" x2="1417" y2="370" stroke="#333" stroke-width="8"/><line x1="1441" y1="275" x2="1431" y2="370" stroke="#333" stroke-width="8"/><line x1="1455" y1="275" x2="1445" y2="370" stroke="#333" stroke-width="8"/><line x1="1469" y1="275" x2="1459" y2="370" stroke="#333" stroke-width="8"/><line x1="1395" y1="690" x2="1385" y2="770" stroke="#333" stroke-width="8"/><line x1="1409" y1="690" x2="1399" y2="770" stroke="#333" stroke-width="8"/><line x1="1423" y1="690" x2="1413" y2="770" stroke="#333" stroke-width="8"/><line x1="1437" y1="690" x2="1427" y2="770" stroke="#333" stroke-width="8"/><line x1="1451" y1="690" x2="1441" y2="770" stroke="#333" stroke-width="8"/><g clip-path="url(#vslc)"><path d="M1244 840 h45 l31 -31 h53 M1478 389 v114 l24 24 v60 M1086 755 v101 l32 32 v101 M1012 1114 h102 l13 -13 h89 M1528 268 v56 l37 37 v80 M1545 1079 v100 l-25 25 v67 M1190 182 h136 l19 19 h45 M1374 857 v68 l24 24 v81 M1419 338 v143 l-27 27 v49 M1423 257 v61 l15 15 v54 M1166 818 v95 l-23 23 v71 M1378 1048 v158 l38 38 v62 M1073 935 h30 l30 30 h76 M1067 984 v69 l-39 39 v119 M1262 175 v134 l30 30 v50 M1528 1089 v74 l-21 21 v114 M1269 880 h53 l22 22 h21 M962 178 v71 l-21 21 v69 M1547 737 h131 l27 27 h49 M1313 1096 h93 l31 31 h64 M1191 318 h47 l27 -27 h82 M1506 711 h71 l26 -26 h33 M1122 982 h84 l16 -16 h61 M1367 759 v82 l-32 32 v42 M1014 478 h113 l19 19 h22 M1067 850 v68 l17 17 v50 M1469 872 v101 l-27 27 v92 M1057 637 h122 l21 -21 h74 M989 960 v123 l28 28 v69 M991 261 v77 l-23 23 v74 M1176 472 v67 l-21 21 v34 M1521 778 v144 l18 18 v53 M979 841 h71 l24 24 h38 M1444 328 v70 l28 28 v34 M1461 1067 h69 l27 27 h80 M1146 1066 h124 l12 12 h76 M1077 356 h131 l27 -27 h58 M973 1106 v99 l-26 26 v77 M1350 990 v116 l23 23 v105 M1471 1087 v141 l-38 38 v74 M1473 874 h105 l22 22 h87 M1184 225 h68 l14 -14 h25 M993 158 v53 l-29 29 v82 M1442 810 v80 l35 35 v65 M995 986 h138 l17 -17 h84 M1320 852 v67 l25 25 v60 M1316 953 h119 l15 15 h63 M1098 554 h43 l26 26 h37 M1211 257 h99 l19 -19 h30 M1161 543 h130 l13 13 h63 M1493 1137 h97 l17 -17 h43 M1269 829 v120 l-36 36 v44 M1251 245 v135 l-22 22 v105 M1099 356 h100 l21 -21 h87 M1235 1133 v95 l21 21 v111" stroke="#1a1a1a" stroke-width="7"/></g></g>
<path d="M283.9 302.4 L294.9 289.3 L294.9 297.7 L755 297.7 L755 289.3 L766.8 302.4 L755 316.3 L755 307.1 L294.9 307.1 L294.9 316.3 Z" fill="#000"/>
<line x1="46" y1="368.6" x2="46" y2="469.9" stroke="#912424" stroke-width="1.25"/>
<line x1="53.29" y1="368.6" x2="53.29" y2="469.9" stroke="#d42424" stroke-width="1.25"/>
<line x1="60.59" y1="368.6" x2="60.59" y2="469.9" stroke="#ff4724" stroke-width="1.25"/>
<line x1="67.88" y1="368.6" x2="67.88" y2="469.9" stroke="#ff7c24" stroke-width="1.25"/>
<line x1="75.17" y1="368.6" x2="75.17" y2="469.9" stroke="#ffb224" stroke-width="1.25"/>
<line x1="82.46" y1="368.6" x2="82.46" y2="469.9" stroke="#ffe824" stroke-width="1.25"/>
<line x1="89.76" y1="368.6" x2="89.76" y2="469.9" stroke="#d6ff46" stroke-width="1.25"/>
<line x1="97.05" y1="368.6" x2="97.05" y2="469.9" stroke="#a7ff75" stroke-width="1.25"/>
<line x1="104.34" y1="368.6" x2="104.34" y2="469.9" stroke="#78ffa4" stroke-width="1.25"/>
<line x1="111.64" y1="368.6" x2="111.64" y2="469.9" stroke="#49ffd3" stroke-width="1.25"/>
<line x1="118.93" y1="368.6" x2="118.93" y2="469.9" stroke="#24ddff" stroke-width="1.25"/>
<line x1="126.22" y1="368.6" x2="126.22" y2="469.9" stroke="#24a2ff" stroke-width="1.25"/>
<line x1="133.51" y1="368.6" x2="133.51" y2="469.9" stroke="#2468ff" stroke-width="1.25"/>
<line x1="140.81" y1="368.6" x2="140.81" y2="469.9" stroke="#242eff" stroke-width="1.25"/>
<line x1="148.1" y1="368.6" x2="148.1" y2="469.9" stroke="#2424d7" stroke-width="1.25"/>
<line x1="45.5" y1="469.9" x2="148.6" y2="469.9" stroke="#3a3ad0" stroke-width="1.1"/>
<path d="M208.5 374.4 V466 H300.9" fill="none" stroke="#444" stroke-width="1.1"/>
<line x1="208.5" y1="375.7" x2="211" y2="375.7" stroke="#444" stroke-width="0.8"/>
<line x1="208.5" y1="401.3" x2="211" y2="401.3" stroke="#444" stroke-width="0.8"/>
<line x1="208.5" y1="427.5" x2="211" y2="427.5" stroke="#444" stroke-width="0.8"/>
<line x1="208.5" y1="452.9" x2="211" y2="452.9" stroke="#444" stroke-width="0.8"/>
<rect x="208.5" y="450.2" width="94.2" height="5.8" rx="2.9" fill="url(#jetbar)"/>
<line x1="442.2" y1="467.3" x2="442.2" y2="406.3" stroke="#000" stroke-width="0.9" marker-end="url(#ah)"/>
<line x1="442.2" y1="467.3" x2="399.5" y2="436.6" stroke="#000" stroke-width="0.9" marker-end="url(#ah)"/>
<line x1="442.2" y1="467.3" x2="500.5" y2="449.5" stroke="#000" stroke-width="0.9" marker-end="url(#ah)"/>
<line x1="442.2" y1="467.3" x2="402.9" y2="497.9" stroke="#000" stroke-width="0.9" marker-end="url(#ah)"/>
<line x1="442.2" y1="467.3" x2="504.2" y2="494.7" stroke="#000" stroke-width="0.9" marker-end="url(#ah)"/>
<circle cx="421.8" cy="423.8" r="3.1" fill="#dc3a2c"/>
<circle cx="457.6" cy="417.8" r="3.1" fill="#dc3a2c"/>
<circle cx="493.5" cy="423.8" r="3.1" fill="#dc3a2c"/>
<circle cx="457.6" cy="452.3" r="3.1" fill="#dc3a2c"/>
<circle cx="395.9" cy="470.7" r="3.1" fill="#dc3a2c"/>
<circle cx="493.5" cy="477.5" r="3.1" fill="#dc3a2c"/>
<circle cx="443.2" cy="492.6" r="3.1" fill="#dc3a2c"/>
<path d="M594.9 379.1 V475.9 H691.7" fill="none" stroke="#222" stroke-width="1.4"/>
<path d="M594.9 401.8 L608 399.2 L618 404.5 L626.3 409.7 L673.4 446.3 C682 453 687 462 691.2 475.9" fill="none" stroke="#1414e8" stroke-width="1.6"/>
<line x1="594.9" y1="384.8" x2="692.3" y2="461" stroke="#000" stroke-width="1.2"/>
<line x1="594.9" y1="389" x2="597.4" y2="389" stroke="#444" stroke-width="0.8"/>
<line x1="594.9" y1="411.3" x2="597.4" y2="411.3" stroke="#444" stroke-width="0.8"/>
<line x1="594.9" y1="431.5" x2="597.4" y2="431.5" stroke="#444" stroke-width="0.8"/>
<line x1="594.9" y1="452.6" x2="597.4" y2="452.6" stroke="#444" stroke-width="0.8"/>
<line x1="594.9" y1="474.1" x2="597.4" y2="474.1" stroke="#444" stroke-width="0.8"/>
<polyline points="793.3,367 794.97,367.28 796.65,368.1 798.32,369.47 799.99,371.37 801.67,373.77 803.34,376.64 805.01,379.97 806.69,383.71 808.36,387.82 810.03,392.25 811.71,396.96 813.38,401.89 815.05,407 816.73,412.22 818.4,417.5 820.07,422.78 821.75,428 823.42,433.11 825.09,438.04 826.77,442.75 828.44,447.18 830.11,451.29 831.79,455.03 833.46,458.36 835.13,461.23 836.81,463.63 838.48,465.53 840.15,466.9 841.83,467.72 843.5,468 845.17,467.72 846.85,466.9 848.52,465.53 850.19,463.63 851.87,461.23 853.54,458.36 855.21,455.03 856.89,451.29 858.56,447.18 860.23,442.75 861.91,438.04 863.58,433.11 865.25,428 866.93,422.78 868.6,417.5 870.27,412.22 871.95,407 873.62,401.89 875.29,396.96 876.97,392.25 878.64,387.82 880.31,383.71 881.99,379.97 883.66,376.64 885.33,373.77 887.01,371.37 888.68,369.47 890.35,368.1 892.03,367.28 893.7,367" fill="none" stroke="#1a1ab6" stroke-width="1.25" stroke-opacity="0.9"/>
<polyline points="793.3,371.37 794.97,369.47 796.65,368.1 798.32,367.28 799.99,367 801.67,367.28 803.34,368.1 805.01,369.47 806.69,371.37 808.36,373.77 810.03,376.64 811.71,379.97 813.38,383.71 815.05,387.82 816.73,392.25 818.4,396.96 820.07,401.89 821.75,407 823.42,412.22 825.09,417.5 826.77,422.78 828.44,428 830.11,433.11 831.79,438.04 833.46,442.75 835.13,447.18 836.81,451.29 838.48,455.03 840.15,458.36 841.83,461.23 843.5,463.63 845.17,465.53 846.85,466.9 848.52,467.72 850.19,468 851.87,467.72 853.54,466.9 855.21,465.53 856.89,463.63 858.56,461.23 860.23,458.36 861.91,455.03 863.58,451.29 865.25,447.18 866.93,442.75 868.6,438.04 870.27,433.11 871.95,428 873.62,422.78 875.29,417.5 876.97,412.22 878.64,407 880.31,401.89 881.99,396.96 883.66,392.25 885.33,387.82 887.01,383.71 888.68,379.97 890.35,376.64 892.03,373.77 893.7,371.37" fill="none" stroke="#1a1afb" stroke-width="1.25" stroke-opacity="0.9"/>
<polyline points="793.3,383.71 794.97,379.97 796.65,376.64 798.32,373.77 799.99,371.37 801.67,369.47 803.34,368.1 805.01,367.28 806.69,367 808.36,367.28 810.03,368.1 811.71,369.47 813.38,371.37 815.05,373.77 816.73,376.64 818.4,379.97 820.07,383.71 821.75,387.82 823.42,392.25 825.09,396.96 826.77,401.89 828.44,407 830.11,412.22 831.79,417.5 833.46,422.78 835.13,428 836.81,433.11 838.48,438.04 840.15,442.75 841.83,447.18 843.5,451.29 845.17,455.03 846.85,458.36 848.52,461.23 850.19,463.63 851.87,465.53 853.54,466.9 855.21,467.72 856.89,468 858.56,467.72 860.23,466.9 861.91,465.53 863.58,463.63 865.25,461.23 866.93,458.36 868.6,455.03 870.27,451.29 871.95,447.18 873.62,442.75 875.29,438.04 876.97,433.11 878.64,428 880.31,422.78 881.99,417.5 883.66,412.22 885.33,407 887.01,401.89 888.68,396.96 890.35,392.25 892.03,387.82 893.7,383.71" fill="none" stroke="#1a44ff" stroke-width="1.25" stroke-opacity="0.9"/>
<polyline points="793.3,401.89 794.97,396.96 796.65,392.25 798.32,387.82 799.99,383.71 801.67,379.97 803.34,376.64 805.01,373.77 806.69,371.37 808.36,369.47 810.03,368.1 811.71,367.28 813.38,367 815.05,367.28 816.73,368.1 818.4,369.47 820.07,371.37 821.75,373.77 823.42,376.64 825.09,379.97 826.77,383.71 828.44,387.82 830.11,392.25 831.79,396.96 833.46,401.89 835.13,407 836.81,412.22 838.48,417.5 840.15,422.78 841.83,428 843.5,433.11 845.17,438.04 846.85,442.75 848.52,447.18 850.19,451.29 851.87,455.03 853.54,458.36 855.21,461.23 856.89,463.63 858.56,465.53 860.23,466.9 861.91,467.72 863.58,468 865.25,467.72 866.93,466.9 868.6,465.53 870.27,463.63 871.95,461.23 873.62,458.36 875.29,455.03 876.97,451.29 878.64,447.18 880.31,442.75 881.99,438.04 883.66,433.11 885.33,428 887.01,422.78 888.68,417.5 890.35,412.22 892.03,407 893.7,401.89" fill="none" stroke="#1a80ff" stroke-width="1.25" stroke-opacity="0.9"/>
<polyline points="793.3,422.78 794.97,417.5 796.65,412.22 798.32,407 799.99,401.89 801.67,396.96 803.34,392.25 805.01,387.82 806.69,383.71 808.36,379.97 810.03,376.64 811.71,373.77 813.38,371.37 815.05,369.47 816.73,368.1 818.4,367.28 820.07,367 821.75,367.28 823.42,368.1 825.09,369.47 826.77,371.37 828.44,373.77 830.11,376.64 831.79,379.97 833.46,383.71 835.13,387.82 836.81,392.25 838.48,396.96 840.15,401.89 841.83,407 843.5,412.22 845.17,417.5 846.85,422.78 848.52,428 850.19,433.11 851.87,438.04 853.54,442.75 855.21,447.18 856.89,451.29 858.56,455.03 860.23,458.36 861.91,461.23 863.58,463.63 865.25,465.53 866.93,466.9 868.6,467.72 870.27,468 871.95,467.72 873.62,466.9 875.29,465.53 876.97,463.63 878.64,461.23 880.31,458.36 881.99,455.03 883.66,451.29 885.33,447.18 887.01,442.75 888.68,438.04 890.35,433.11 892.03,428 893.7,422.78" fill="none" stroke="#1abdff" stroke-width="1.25" stroke-opacity="0.9"/>
<polyline points="793.3,442.75 794.97,438.04 796.65,433.11 798.32,428 799.99,422.78 801.67,417.5 803.34,412.22 805.01,407 806.69,401.89 808.36,396.96 810.03,392.25 811.71,387.82 813.38,383.71 815.05,379.97 816.73,376.64 818.4,373.77 820.07,371.37 821.75,369.47 823.42,368.1 825.09,367.28 826.77,367 828.44,367.28 830.11,368.1 831.79,369.47 833.46,371.37 835.13,373.77 836.81,376.64 838.48,379.97 840.15,383.71 841.83,387.82 843.5,392.25 845.17,396.96 846.85,401.89 848.52,407 850.19,412.22 851.87,417.5 853.54,422.78 855.21,428 856.89,433.11 858.56,438.04 860.23,442.75 861.91,447.18 863.58,451.29 865.25,455.03 866.93,458.36 868.6,461.23 870.27,463.63 871.95,465.53 873.62,466.9 875.29,467.72 876.97,468 878.64,467.72 880.31,466.9 881.99,465.53 883.66,463.63 885.33,461.23 887.01,458.36 888.68,455.03 890.35,451.29 892.03,447.18 893.7,442.75" fill="none" stroke="#27f9ea" stroke-width="1.25" stroke-opacity="0.9"/>
<polyline points="793.3,458.36 794.97,455.03 796.65,451.29 798.32,447.18 799.99,442.75 801.67,438.04 803.34,433.11 805.01,428 806.69,422.78 808.36,417.5 810.03,412.22 811.71,407 813.38,401.89 815.05,396.96 816.73,392.25 818.4,387.82 820.07,383.71 821.75,379.97 823.42,376.64 825.09,373.77 826.77,371.37 828.44,369.47 830.11,368.1 831.79,367.28 833.46,367 835.13,367.28 836.81,368.1 838.48,369.47 840.15,371.37 841.83,373.77 843.5,376.64 845.17,379.97 846.85,383.71 848.52,387.82 850.19,392.25 851.87,396.96 853.54,401.89 855.21,407 856.89,412.22 858.56,417.5 860.23,422.78 861.91,428 863.58,433.11 865.25,438.04 866.93,442.75 868.6,447.18 870.27,451.29 871.95,455.03 873.62,458.36 875.29,461.23 876.97,463.63 878.64,465.53 880.31,466.9 881.99,467.72 883.66,468 885.33,467.72 887.01,466.9 888.68,465.53 890.35,463.63 892.03,461.23 893.7,458.36" fill="none" stroke="#58ffb9" stroke-width="1.25" stroke-opacity="0.9"/>
<polyline points="793.3,466.9 794.97,465.53 796.65,463.63 798.32,461.23 799.99,458.36 801.67,455.03 803.34,451.29 805.01,447.18 806.69,442.75 808.36,438.04 810.03,433.11 811.71,428 813.38,422.78 815.05,417.5 816.73,412.22 818.4,407 820.07,401.89 821.75,396.96 823.42,392.25 825.09,387.82 826.77,383.71 828.44,379.97 830.11,376.64 831.79,373.77 833.46,371.37 835.13,369.47 836.81,368.1 838.48,367.28 840.15,367 841.83,367.28 843.5,368.1 845.17,369.47 846.85,371.37 848.52,373.77 850.19,376.64 851.87,379.97 853.54,383.71 855.21,387.82 856.89,392.25 858.56,396.96 860.23,401.89 861.91,407 863.58,412.22 865.25,417.5 866.93,422.78 868.6,428 870.27,433.11 871.95,438.04 873.62,442.75 875.29,447.18 876.97,451.29 878.64,455.03 880.31,458.36 881.99,461.23 883.66,463.63 885.33,465.53 887.01,466.9 888.68,467.72 890.35,468 892.03,467.72 893.7,466.9" fill="none" stroke="#89ff89" stroke-width="1.25" stroke-opacity="0.9"/>
<polyline points="793.3,466.9 794.97,467.72 796.65,468 798.32,467.72 799.99,466.9 801.67,465.53 803.34,463.63 805.01,461.23 806.69,458.36 808.36,455.03 810.03,451.29 811.71,447.18 813.38,442.75 815.05,438.04 816.73,433.11 818.4,428 820.07,422.78 821.75,417.5 823.42,412.22 825.09,407 826.77,401.89 828.44,396.96 830.11,392.25 831.79,387.82 833.46,383.71 835.13,379.97 836.81,376.64 838.48,373.77 840.15,371.37 841.83,369.47 843.5,368.1 845.17,367.28 846.85,367 848.52,367.28 850.19,368.1 851.87,369.47 853.54,371.37 855.21,373.77 856.89,376.64 858.56,379.97 860.23,383.71 861.91,387.82 863.58,392.25 865.25,396.96 866.93,401.89 868.6,407 870.27,412.22 871.95,417.5 873.62,422.78 875.29,428 876.97,433.11 878.64,438.04 880.31,442.75 881.99,447.18 883.66,451.29 885.33,455.03 887.01,458.36 888.68,461.23 890.35,463.63 892.03,465.53 893.7,466.9" fill="none" stroke="#b9ff58" stroke-width="1.25" stroke-opacity="0.9"/>
<polyline points="793.3,458.36 794.97,461.23 796.65,463.63 798.32,465.53 799.99,466.9 801.67,467.72 803.34,468 805.01,467.72 806.69,466.9 808.36,465.53 810.03,463.63 811.71,461.23 813.38,458.36 815.05,455.03 816.73,451.29 818.4,447.18 820.07,442.75 821.75,438.04 823.42,433.11 825.09,428 826.77,422.78 828.44,417.5 830.11,412.22 831.79,407 833.46,401.89 835.13,396.96 836.81,392.25 838.48,387.82 840.15,383.71 841.83,379.97 843.5,376.64 845.17,373.77 846.85,371.37 848.52,369.47 850.19,368.1 851.87,367.28 853.54,367 855.21,367.28 856.89,368.1 858.56,369.47 860.23,371.37 861.91,373.77 863.58,376.64 865.25,379.97 866.93,383.71 868.6,387.82 870.27,392.25 871.95,396.96 873.62,401.89 875.29,407 876.97,412.22 878.64,417.5 880.31,422.78 881.99,428 883.66,433.11 885.33,438.04 887.01,442.75 888.68,447.18 890.35,451.29 892.03,455.03 893.7,458.36" fill="none" stroke="#eaff27" stroke-width="1.25" stroke-opacity="0.9"/>
<polyline points="793.3,442.75 794.97,447.18 796.65,451.29 798.32,455.03 799.99,458.36 801.67,461.23 803.34,463.63 805.01,465.53 806.69,466.9 808.36,467.72 810.03,468 811.71,467.72 813.38,466.9 815.05,465.53 816.73,463.63 818.4,461.23 820.07,458.36 821.75,455.03 823.42,451.29 825.09,447.18 826.77,442.75 828.44,438.04 830.11,433.11 831.79,428 833.46,422.78 835.13,417.5 836.81,412.22 838.48,407 840.15,401.89 841.83,396.96 843.5,392.25 845.17,387.82 846.85,383.71 848.52,379.97 850.19,376.64 851.87,373.77 853.54,371.37 855.21,369.47 856.89,368.1 858.56,367.28 860.23,367 861.91,367.28 863.58,368.1 865.25,369.47 866.93,371.37 868.6,373.77 870.27,376.64 871.95,379.97 873.62,383.71 875.29,387.82 876.97,392.25 878.64,396.96 880.31,401.89 881.99,407 883.66,412.22 885.33,417.5 887.01,422.78 888.68,428 890.35,433.11 892.03,438.04 893.7,442.75" fill="none" stroke="#ffce1a" stroke-width="1.25" stroke-opacity="0.9"/>
<polyline points="793.3,422.78 794.97,428 796.65,433.11 798.32,438.04 799.99,442.75 801.67,447.18 803.34,451.29 805.01,455.03 806.69,458.36 808.36,461.23 810.03,463.63 811.71,465.53 813.38,466.9 815.05,467.72 816.73,468 818.4,467.72 820.07,466.9 821.75,465.53 823.42,463.63 825.09,461.23 826.77,458.36 828.44,455.03 830.11,451.29 831.79,447.18 833.46,442.75 835.13,438.04 836.81,433.11 838.48,428 840.15,422.78 841.83,417.5 843.5,412.22 845.17,407 846.85,401.89 848.52,396.96 850.19,392.25 851.87,387.82 853.54,383.71 855.21,379.97 856.89,376.64 858.56,373.77 860.23,371.37 861.91,369.47 863.58,368.1 865.25,367.28 866.93,367 868.6,367.28 870.27,368.1 871.95,369.47 873.62,371.37 875.29,373.77 876.97,376.64 878.64,379.97 880.31,383.71 881.99,387.82 883.66,392.25 885.33,396.96 887.01,401.89 888.68,407 890.35,412.22 892.03,417.5 893.7,422.78" fill="none" stroke="#ff971a" stroke-width="1.25" stroke-opacity="0.9"/>
<polyline points="793.3,401.89 794.97,407 796.65,412.22 798.32,417.5 799.99,422.78 801.67,428 803.34,433.11 805.01,438.04 806.69,442.75 808.36,447.18 810.03,451.29 811.71,455.03 813.38,458.36 815.05,461.23 816.73,463.63 818.4,465.53 820.07,466.9 821.75,467.72 823.42,468 825.09,467.72 826.77,466.9 828.44,465.53 830.11,463.63 831.79,461.23 833.46,458.36 835.13,455.03 836.81,451.29 838.48,447.18 840.15,442.75 841.83,438.04 843.5,433.11 845.17,428 846.85,422.78 848.52,417.5 850.19,412.22 851.87,407 853.54,401.89 855.21,396.96 856.89,392.25 858.56,387.82 860.23,383.71 861.91,379.97 863.58,376.64 865.25,373.77 866.93,371.37 868.6,369.47 870.27,368.1 871.95,367.28 873.62,367 875.29,367.28 876.97,368.1 878.64,369.47 880.31,371.37 881.99,373.77 883.66,376.64 885.33,379.97 887.01,383.71 888.68,387.82 890.35,392.25 892.03,396.96 893.7,401.89" fill="none" stroke="#ff5f1a" stroke-width="1.25" stroke-opacity="0.9"/>
<polyline points="793.3,383.71 794.97,387.82 796.65,392.25 798.32,396.96 799.99,401.89 801.67,407 803.34,412.22 805.01,417.5 806.69,422.78 808.36,428 810.03,433.11 811.71,438.04 813.38,442.75 815.05,447.18 816.73,451.29 818.4,455.03 820.07,458.36 821.75,461.23 823.42,463.63 825.09,465.53 826.77,466.9 828.44,467.72 830.11,468 831.79,467.72 833.46,466.9 835.13,465.53 836.81,463.63 838.48,461.23 840.15,458.36 841.83,455.03 843.5,451.29 845.17,447.18 846.85,442.75 848.52,438.04 850.19,433.11 851.87,428 853.54,422.78 855.21,417.5 856.89,412.22 858.56,407 860.23,401.89 861.91,396.96 863.58,392.25 865.25,387.82 866.93,383.71 868.6,379.97 870.27,376.64 871.95,373.77 873.62,371.37 875.29,369.47 876.97,368.1 878.64,367.28 880.31,367 881.99,367.28 883.66,368.1 885.33,369.47 887.01,371.37 888.68,373.77 890.35,376.64 892.03,379.97 893.7,383.71" fill="none" stroke="#fb271a" stroke-width="1.25" stroke-opacity="0.9"/>
<polyline points="793.3,371.37 794.97,373.77 796.65,376.64 798.32,379.97 799.99,383.71 801.67,387.82 803.34,392.25 805.01,396.96 806.69,401.89 808.36,407 810.03,412.22 811.71,417.5 813.38,422.78 815.05,428 816.73,433.11 818.4,438.04 820.07,442.75 821.75,447.18 823.42,451.29 825.09,455.03 826.77,458.36 828.44,461.23 830.11,463.63 831.79,465.53 833.46,466.9 835.13,467.72 836.81,468 838.48,467.72 840.15,466.9 841.83,465.53 843.5,463.63 845.17,461.23 846.85,458.36 848.52,455.03 850.19,451.29 851.87,447.18 853.54,442.75 855.21,438.04 856.89,433.11 858.56,428 860.23,422.78 861.91,417.5 863.58,412.22 865.25,407 866.93,401.89 868.6,396.96 870.27,392.25 871.95,387.82 873.62,383.71 875.29,379.97 876.97,376.64 878.64,373.77 880.31,371.37 881.99,369.47 883.66,368.1 885.33,367.28 887.01,367 888.68,367.28 890.35,368.1 892.03,369.47 893.7,371.37" fill="none" stroke="#b61a1a" stroke-width="1.25" stroke-opacity="0.9"/>
<path d="M960.2 366.5 V460.7 H1054.4" fill="none" stroke="#444" stroke-width="1.1"/>
<path d="M960.2 375.4 H969.3 L972 460.7" fill="none" stroke="#555" stroke-width="1.1"/>
<circle cx="960.2" cy="375.4" r="2.4" fill="#111"/><circle cx="969.3" cy="375.4" r="2.4" fill="#111"/>
<line x1="960.2" y1="368.4" x2="962.7" y2="368.4" stroke="#444" stroke-width="0.8"/>
<line x1="960.2" y1="394" x2="962.7" y2="394" stroke="#444" stroke-width="0.8"/>
<line x1="960.2" y1="420.9" x2="962.7" y2="420.9" stroke="#444" stroke-width="0.8"/>
<line x1="960.2" y1="448.2" x2="962.7" y2="448.2" stroke="#444" stroke-width="0.8"/>
<rect x="44" y="728.1" width="62.9" height="62.9" fill="#777" filter="url(#mos3)"/>
<g transform="translate(127.8 765.1) scale(0.17001 0.17001) translate(-575 -383)"><g fill="#000" fill-opacity="0.035" stroke="#000" stroke-opacity="0.06" stroke-width="2.59"><path d="M697 320 L835 383 L697 410Z M665 368 L835 383 L665 460Z"/><path d="M870 335 L1010 383 L870 395Z M850 358 L1010 383 L850 408Z"/><path d="M1060 340 L1200 383 L1060 385Z M1045 360 L1200 383 L1045 405Z"/><path d="M1285 350 L1390 383 L1285 382Z"/><path d="M1470 350 L1585 383 L1470 400Z"/></g><path d="M575 318 L718 120 L740 120 L597 318Z" fill="#e2e2e2" stroke="#8c8c8c" stroke-width="3.2351" stroke-linejoin="round"/><path d="M597 318 L740 120 L740 447 L597 645Z" fill="#c3c3c3" stroke="#8c8c8c" stroke-width="3.2351" stroke-linejoin="round"/><rect x="575" y="318" width="22" height="327" fill="#ececec" stroke="#8c8c8c" stroke-width="3.2351" stroke-linejoin="round"/><path d="M642 368 L674 320 L697 320 L665 368Z" fill="#bdbdbd" stroke="#7a7a7a" stroke-width="3.2351" stroke-linejoin="round"/><path d="M665 368 L697 320 L697 412 L665 460Z" fill="#9c9c9c" stroke="#7a7a7a" stroke-width="3.2351" stroke-linejoin="round"/><rect x="642" y="368" width="23" height="92" fill="#a9a9a9" stroke="#7a7a7a" stroke-width="3.2351" stroke-linejoin="round"/><path d="M762 305 L858 175 L898 175 L802 305Z" fill="#e4e4e4" stroke="#8c8c8c" stroke-width="3.2351" stroke-linejoin="round"/><path d="M802 305 L898 175 L898 432 L802 562Z" fill="#c9c9c9" stroke="#8c8c8c" stroke-width="3.2351" stroke-linejoin="round"/><rect x="762" y="305" width="40" height="257" fill="#ececec" stroke="#8c8c8c" stroke-width="3.2351" stroke-linejoin="round"/><path d="M820 358 L840 335 L870 335 L850 358Z" fill="#c4c4c4" stroke="#7a7a7a" stroke-width="3.2351" stroke-linejoin="round"/><path d="M850 358 L870 335 L870 385 L850 408Z" fill="#a4a4a4" stroke="#7a7a7a" stroke-width="3.2351" stroke-linejoin="round"/><rect x="820" y="358" width="30" height="50" fill="#b0b0b0" stroke="#7a7a7a" stroke-width="3.2351" stroke-linejoin="round"/><path d="M948 312 L1005 230 L1087 230 L1030 312Z" fill="#f0f0f0" stroke="#8c8c8c" stroke-width="3.2351" stroke-linejoin="round"/><path d="M1030 312 L1087 230 L1087 400 L1030 482Z" fill="#d2d2d2" stroke="#8c8c8c" stroke-width="3.2351" stroke-linejoin="round"/><rect x="948" y="312" width="82" height="170" fill="#ebebeb" stroke="#8c8c8c" stroke-width="3.2351" stroke-linejoin="round"/><path d="M968 360 L983 340 L1060 340 L1045 360Z" fill="#cdcdcd" stroke="#7a7a7a" stroke-width="3.2351" stroke-linejoin="round"/><path d="M1045 360 L1060 340 L1060 385 L1045 405Z" fill="#adadad" stroke="#7a7a7a" stroke-width="3.2351" stroke-linejoin="round"/><rect x="968" y="360" width="77" height="45" fill="#bababa" stroke="#7a7a7a" stroke-width="3.2351" stroke-linejoin="round"/><path d="M1137 352 L1175 297 L1300 297 L1262 352Z" fill="#f1f1f1" stroke="#8c8c8c" stroke-width="3.2351" stroke-linejoin="round"/><path d="M1262 352 L1300 297 L1300 370 L1262 425Z" fill="#d6d6d6" stroke="#8c8c8c" stroke-width="3.2351" stroke-linejoin="round"/><rect x="1137" y="352" width="125" height="73" fill="#ededed" stroke="#8c8c8c" stroke-width="3.2351" stroke-linejoin="round"/><path d="M1155 368 L1175 350 L1285 350 L1265 368Z" fill="#cfcfcf" stroke="#7a7a7a" stroke-width="3.2351" stroke-linejoin="round"/><path d="M1265 368 L1285 350 L1285 382 L1265 400Z" fill="#b0b0b0" stroke="#7a7a7a" stroke-width="3.2351" stroke-linejoin="round"/><rect x="1155" y="368" width="110" height="32" fill="#bdbdbd" stroke="#7a7a7a" stroke-width="3.2351" stroke-linejoin="round"/><path d="M1325 352 L1363 297 L1488 297 L1450 352Z" fill="#f1f1f1" stroke="#8c8c8c" stroke-width="3.2351" stroke-linejoin="round"/><path d="M1450 352 L1488 297 L1488 370 L1450 425Z" fill="#d6d6d6" stroke="#8c8c8c" stroke-width="3.2351" stroke-linejoin="round"/><rect x="1325" y="352" width="125" height="73" fill="#ededed" stroke="#8c8c8c" stroke-width="3.2351" stroke-linejoin="round"/><path d="M1343 368 L1363 350 L1473 350 L1453 368Z" fill="#cfcfcf" stroke="#7a7a7a" stroke-width="3.2351" stroke-linejoin="round"/><path d="M1453 368 L1473 350 L1473 382 L1453 400Z" fill="#b0b0b0" stroke="#7a7a7a" stroke-width="3.2351" stroke-linejoin="round"/><rect x="1343" y="368" width="110" height="32" fill="#bdbdbd" stroke="#7a7a7a" stroke-width="3.2351" stroke-linejoin="round"/><path d="M1550 352 L1592 297 L1657 297 L1615 352Z" fill="#f1f1f1" stroke="#8c8c8c" stroke-width="3.2351" stroke-linejoin="round"/><path d="M1615 352 L1657 297 L1657 377 L1615 432Z" fill="#d4d4d4" stroke="#8c8c8c" stroke-width="3.2351" stroke-linejoin="round"/><rect x="1550" y="352" width="65" height="80" fill="#ededed" stroke="#8c8c8c" stroke-width="3.2351" stroke-linejoin="round"/></g>
<line x1="311.7" y1="765.1" x2="347.9" y2="765.1" stroke="#777" stroke-width="0.7"/>
<path d="M342.8 775.57 L356.1 785.79 M342.8 790.39 L356.1 803.05 M342.8 785.63 L356.1 801.32 M342.8 724.49 L356.1 762.04 M342.8 803.13 L356.1 777.81 M342.8 799.48 L356.1 731.74 M342.8 762.34 L356.1 743.21 M342.8 768.76 L356.1 771.36 M342.8 723.13 L356.1 740.64 M342.8 746.04 L356.1 800.81 M342.8 787.85 L356.1 735.73 M342.8 790.55 L356.1 733.93 M342.8 775.1 L356.1 732.9 M342.8 722.15 L356.1 796.94 M342.8 740.01 L356.1 740.53 M342.8 806.49 L356.1 797.03 M342.8 746.88 L356.1 804.69 M342.8 768.37 L356.1 780.29 M342.8 739.61 L356.1 802.92 M342.8 781.4 L356.1 805.12 M342.8 798.86 L356.1 747.7 M342.8 753.06 L356.1 736.27 M342.8 734.53 L356.1 727.6 M342.8 747.92 L356.1 773.87 M342.8 722.29 L356.1 780.3 M342.8 751.06 L356.1 748.66" fill="none" stroke="#f3c3a6" stroke-width="0.5" stroke-opacity="0.8"/>
<rect x="322.4" y="720.4" width="6.3" height="89.3" fill="#ebebeb" stroke="#8c8c8c" stroke-width="0.55"/>
<rect x="336.5" y="720.4" width="6.3" height="89.3" fill="#ebebeb" stroke="#8c8c8c" stroke-width="0.55"/>
<rect x="356.1" y="720.1" width="6.8" height="91.8" fill="#d2d2d2"/>
<circle cx="328.9" cy="814.7" r="2.9" fill="#1f4f8a"/><circle cx="340.8" cy="814.7" r="2.9" fill="#1f4f8a"/>
<path d="M328.9 814.7 C330 832 348 836 380 838 C415 840 425 862 461.6 857.2" fill="none" stroke="#1f4f8a" stroke-width="1.5"/>
<path d="M340.8 814.7 C342 830 356 835 384 837 C418 839 428 861 461.6 857.6" fill="none" stroke="#1f4f8a" stroke-width="1.5"/>
<line x1="481.37" y1="750.76" x2="523.08" y2="719.28" stroke="#222" stroke-width="0.8" marker-end="url(#ah2)"/>
<line x1="528.58" y1="748.14" x2="528.58" y2="722.03" stroke="#222" stroke-width="0.8" marker-end="url(#ah2)"/>
<line x1="575.96" y1="750.77" x2="534.1" y2="719.28" stroke="#222" stroke-width="0.8" marker-end="url(#ah2)"/>
<line x1="498.54" y1="788.68" x2="479.91" y2="760.5" stroke="#222" stroke-width="0.8" marker-end="url(#ah2)"/>
<line x1="505.85" y1="788.7" x2="524.75" y2="760.47" stroke="#222" stroke-width="0.8" marker-end="url(#ah2)"/>
<line x1="508.08" y1="791.24" x2="575.06" y2="757.82" stroke="#222" stroke-width="0.8" marker-end="url(#ah2)"/>
<line x1="575.05" y1="791.87" x2="482.56" y2="757.16" stroke="#222" stroke-width="0.8" marker-end="url(#ah2)"/>
<line x1="575.95" y1="790.23" x2="534.11" y2="758.88" stroke="#222" stroke-width="0.8" marker-end="url(#ah2)"/>
<line x1="581.23" y1="787.59" x2="581.23" y2="761.64" stroke="#222" stroke-width="0.8" marker-end="url(#ah2)"/>
<line x1="479.73" y1="828.28" x2="498.38" y2="799.95" stroke="#222" stroke-width="0.8" marker-end="url(#ah2)"/>
<line x1="482.28" y1="831.47" x2="574.78" y2="796.62" stroke="#222" stroke-width="0.8" marker-end="url(#ah2)"/>
<line x1="549.55" y1="829.83" x2="507.69" y2="798.33" stroke="#222" stroke-width="0.8" marker-end="url(#ah2)"/>
<line x1="558.49" y1="828.31" x2="577.41" y2="799.93" stroke="#222" stroke-width="0.8" marker-end="url(#ah2)"/>
<line x1="575.33" y1="830.84" x2="508.35" y2="797.28" stroke="#222" stroke-width="0.8" marker-end="url(#ah2)"/>
<line x1="581.23" y1="827.2" x2="581.23" y2="801.09" stroke="#222" stroke-width="0.8" marker-end="url(#ah2)"/>
<circle cx="528.58" cy="715.13" r="6.6" fill="#fff" stroke="#222" stroke-width="0.8"/>
<circle cx="476.1" cy="754.74" r="6.6" fill="#fff" stroke="#222" stroke-width="0.8"/>
<circle cx="502.18" cy="754.74" r="6.6" fill="#fff" stroke="#222" stroke-width="0.8"/>
<path d="M497.56 750.12 L506.8 759.36 M497.56 759.36 L506.8 750.12" stroke="#222" stroke-width="0.8"/>
<circle cx="528.58" cy="754.74" r="6.6" fill="#fff" stroke="#222" stroke-width="0.8"/>
<circle cx="554.83" cy="754.74" r="6.6" fill="#fff" stroke="#222" stroke-width="0.8"/>
<path d="M550.21 750.12 L559.45 759.36 M550.21 759.36 L559.45 750.12" stroke="#222" stroke-width="0.8"/>
<circle cx="581.23" cy="754.74" r="6.6" fill="#fff" stroke="#222" stroke-width="0.8"/>
<circle cx="476.1" cy="794.19" r="6.6" fill="#fff" stroke="#222" stroke-width="0.8"/>
<path d="M471.48 789.57 L480.72 798.81 M471.48 798.81 L480.72 789.57" stroke="#222" stroke-width="0.8"/>
<circle cx="502.18" cy="794.19" r="6.6" fill="#fff" stroke="#222" stroke-width="0.8"/>
<circle cx="528.58" cy="794.19" r="6.6" fill="#fff" stroke="#222" stroke-width="0.8"/>
<path d="M523.96 789.57 L533.2 798.81 M523.96 798.81 L533.2 789.57" stroke="#222" stroke-width="0.8"/>
<circle cx="554.83" cy="794.19" r="6.6" fill="#fff" stroke="#222" stroke-width="0.8"/>
<path d="M550.21 789.57 L559.45 798.81 M550.21 798.81 L559.45 789.57" stroke="#222" stroke-width="0.8"/>
<circle cx="581.23" cy="794.19" r="6.6" fill="#fff" stroke="#222" stroke-width="0.8"/>
<circle cx="476.1" cy="833.8" r="6.6" fill="#fff" stroke="#222" stroke-width="0.8"/>
<circle cx="502.18" cy="833.8" r="6.6" fill="#fff" stroke="#222" stroke-width="0.8"/>
<path d="M497.56 829.18 L506.8 838.42 M497.56 838.42 L506.8 829.18" stroke="#222" stroke-width="0.8"/>
<circle cx="528.58" cy="833.8" r="6.6" fill="#fff" stroke="#222" stroke-width="0.8"/>
<path d="M523.96 829.18 L533.2 838.42 M523.96 838.42 L533.2 829.18" stroke="#222" stroke-width="0.8"/>
<circle cx="554.83" cy="833.8" r="6.6" fill="#fff" stroke="#222" stroke-width="0.8"/>
<circle cx="581.23" cy="833.8" r="6.6" fill="#fff" stroke="#222" stroke-width="0.8"/>
<rect x="680.4" y="704.4" width="146.3" height="162.7" fill="#fff" stroke="#999" stroke-width="0.9"/>
<path d="M687.14 867.1 v2.6 M703.74 867.1 v1.4 M713.45 867.1 v1.4 M720.34 867.1 v1.4 M725.68 867.1 v1.4 M730.05 867.1 v1.4 M733.74 867.1 v1.4 M736.94 867.1 v1.4 M739.76 867.1 v1.4 M742.28 867.1 v2.6 M758.88 867.1 v1.4 M768.59 867.1 v1.4 M775.48 867.1 v1.4 M780.83 867.1 v1.4 M785.2 867.1 v1.4 M788.89 867.1 v1.4 M792.09 867.1 v1.4 M794.91 867.1 v1.4 M797.43 867.1 v2.6 M814.03 867.1 v1.4 M823.74 867.1 v1.4 M680.4 862.88 h-1.4 M680.4 859.32 h-1.4 M680.4 856.4 h-1.4 M680.4 853.94 h-1.4 M680.4 851.81 h-1.4 M680.4 849.93 h-1.4 M680.4 848.25 h-2.6 M680.4 837.18 h-1.4 M680.4 830.71 h-1.4 M680.4 826.11 h-1.4 M680.4 822.55 h-1.4 M680.4 819.64 h-1.4 M680.4 817.18 h-1.4 M680.4 815.05 h-1.4 M680.4 813.17 h-1.4 M680.4 811.48 h-2.6 M680.4 800.42 h-1.4 M680.4 793.94 h-1.4 M680.4 789.35 h-1.4 M680.4 785.79 h-1.4 M680.4 782.87 h-1.4 M680.4 780.41 h-1.4 M680.4 778.28 h-1.4 M680.4 776.4 h-1.4 M680.4 774.72 h-2.6 M680.4 763.65 h-1.4 M680.4 757.18 h-1.4 M680.4 752.58 h-1.4 M680.4 749.02 h-1.4 M680.4 746.11 h-1.4 M680.4 743.65 h-1.4 M680.4 741.52 h-1.4 M680.4 739.64 h-1.4 M680.4 737.95 h-2.6 M680.4 726.89 h-1.4 M680.4 720.41 h-1.4 M680.4 715.82 h-1.4 M680.4 712.26 h-1.4 M680.4 709.35 h-1.4 M680.4 706.88 h-1.4 M680.4 704.75 h-1.4" stroke="#666" stroke-width="0.6" fill="none"/>
<polyline points="680.42,720.37 687.14,721.97 691.93,724.37 703.12,729.16 715.91,730.76 722.3,732.36 731.89,737.95 744.68,742.75 755.87,748.34 763.86,753.94 771.85,758.73 779.85,765.13 787.84,772.32 795.83,781.11 803.82,792.3 811.82,804.29 819.81,815.48" fill="none" stroke="#1a3ae0" stroke-width="1.45" stroke-linejoin="round"/>
<polyline points="680.42,720.65 687.14,722.09 691.93,724.27 703.12,728.7 715.91,730.38 722.3,731.96 731.89,737.23 744.68,742.11 755.87,747.74 763.86,753.5 771.85,758.71 779.85,765.27 787.84,772.68 795.83,781.69 803.82,793.06 811.82,805.13 819.81,816.28" fill="none" stroke="#1212e0" stroke-width="1.45" stroke-linejoin="round"/>
<polyline points="680.42,720.93 687.14,722.21 691.93,724.17 703.12,728.24 715.91,730 722.3,731.56 731.89,736.52 744.68,741.47 755.87,747.15 763.86,753.06 771.85,758.68 779.85,765.43 787.84,773.11 795.83,782.39 803.82,793.96 811.82,806.13 819.81,817.24" fill="none" stroke="#2255f0" stroke-width="1.45" stroke-linejoin="round"/>
<polyline points="680.42,721.21 687.14,722.33 691.93,724.07 703.12,727.78 715.91,729.62 722.3,731.16 731.89,735.8 744.68,740.83 755.87,746.55 763.86,752.62 771.85,758.64 779.85,765.63 787.84,773.61 795.83,783.2 803.82,795.02 811.82,807.3 819.81,818.36" fill="none" stroke="#4aa8f5" stroke-width="1.45" stroke-linejoin="round"/>
<polyline points="680.42,721.49 687.14,722.45 691.93,723.97 703.12,727.32 715.91,729.24 722.3,730.76 731.89,735.08 744.68,740.19 755.87,745.95 763.86,752.18 771.85,758.58 779.85,765.96 787.84,774.47 795.83,784.59 803.82,796.83 811.82,809.31 819.81,820.27" fill="none" stroke="#66efd0" stroke-width="1.45" stroke-linejoin="round"/>
<polyline points="680.42,721.77 687.14,722.57 691.93,723.87 703.12,726.86 715.91,728.86 722.3,730.36 731.89,734.36 744.68,739.55 755.87,745.35 763.86,751.74 771.85,758.48 779.85,766.51 787.84,775.91 795.83,786.9 803.82,799.85 811.82,812.66 819.81,823.47" fill="none" stroke="#8ef58e" stroke-width="1.45" stroke-linejoin="round"/>
<polyline points="680.42,722.05 687.14,722.69 691.93,723.77 703.12,726.41 715.91,728.48 722.3,729.96 731.89,733.64 744.68,738.91 755.87,744.75 763.86,751.3 771.85,758.33 779.85,767.34 787.84,778.06 795.83,790.38 803.82,804.38 811.82,817.68 819.81,828.27" fill="none" stroke="#ccf54d" stroke-width="1.45" stroke-linejoin="round"/>
<polyline points="680.42,722.61 687.14,722.93 691.93,723.57 703.12,725.49 715.91,727.72 722.3,729.16 731.89,732.2 744.68,737.63 755.87,743.55 763.86,750.42 771.85,758.09 779.85,768.64 787.84,781.43 795.83,795.82 803.82,811.48 811.82,825.55 819.81,835.78" fill="none" stroke="#f5c242" stroke-width="1.45" stroke-linejoin="round"/>
<polyline points="680.42,721.97 687.14,722.45 691.93,722.77 703.12,724.21 715.91,726.45 722.3,727.72 731.89,730.28 744.68,736.04 755.87,741.47 763.86,749.46 771.85,759.05 779.85,773.12 787.84,789.42 795.83,806.69 803.82,822.67 811.82,834.66 819.81,844.73" fill="none" stroke="#f07830" stroke-width="1.45" stroke-linejoin="round"/>
<polyline points="680.42,719.25 687.14,719.25 691.93,719.89 703.12,721.17 715.91,722.93 722.3,723.89 731.89,725.81 744.68,731.88 755.87,741.95 763.86,762.73 771.85,786.71 779.85,802.69 787.84,817.08 795.83,829.07 803.82,840.26 811.82,850.65 819.81,860.24" fill="none" stroke="#d8342a" stroke-width="1.45" stroke-linejoin="round"/>
<path d="M814.21 801.89 Q827.8 789.1 820.13 775.04" fill="none" stroke="#3a66f0" stroke-width="0.7"/>
<path d="M819.81 773.44 l-1.8 2.2 l3 0.2Z" fill="#3a66f0"/>
<path d="M775.85 803.17 Q762.26 814.68 769.94 827.47" fill="none" stroke="#e0392d" stroke-width="0.7"/>
<path d="M770.58 829.07 l-2.6 -1.2 l2.4 -1.8Z" fill="#e0392d"/>
<path d="M867.2 711 C876.74 715.2 883.58 723.6 883.58 736.2 C883.58 763.5 860.84 810.75 899 816 C860.84 820.88 880.56 864.85 880.56 890.25 C880.56 901.98 875.15 909.79 867.2 913.7" fill="none" stroke="#444" stroke-width="1"/>
<rect x="63.3" y="1036.3" width="168.4" height="169.1" fill="#fff" stroke="#555" stroke-width="0.8"/>
<circle cx="71.46" cy="1086.66" r="3.3" fill="#0b0b78"/>
<circle cx="88.25" cy="1082.09" r="3.3" fill="#1212e0"/>
<circle cx="105.29" cy="1078.52" r="3.3" fill="#2255f0"/>
<circle cx="122.33" cy="1075.22" r="3.3" fill="#4aa8f5"/>
<circle cx="139.11" cy="1073.69" r="3.3" fill="#66efd0"/>
<circle cx="156.15" cy="1072.68" r="3.3" fill="#8ef58e"/>
<circle cx="172.94" cy="1072.93" r="3.3" fill="#ccf54d"/>
<circle cx="189.98" cy="1074.46" r="3.3" fill="#f5c242"/>
<circle cx="207.02" cy="1078.02" r="3.3" fill="#f07830"/>
<circle cx="224.06" cy="1089.72" r="3.3" fill="#d8342a"/>
<path d="M63.3 1036.31 h-2.2 M63.3 1070.39 h-2.2 M63.3 1104.21 h-2.2 M63.3 1138.04 h-2.2 M63.3 1171.61 h-2.2 M63.3 1205.43 h-2.2 M71.46 1205.4 v2.2 M88.25 1205.4 v2.2 M105.29 1205.4 v2.2 M122.33 1205.4 v2.2 M139.11 1205.4 v2.2 M156.15 1205.4 v2.2 M172.94 1205.4 v2.2 M189.98 1205.4 v2.2 M207.02 1205.4 v2.2 M224.06 1205.4 v2.2" stroke="#444" stroke-width="0.6" fill="none"/>
<rect x="281.2" y="1043.4" width="172.5" height="171.1" fill="#fff" stroke="#555" stroke-width="0.8"/>
<polyline points="323.67,1201.46 355.35,1203.64 362.61,1194.2 397.49,1182.57 440.35,1178.94 401.85,1169.49 410.56,1155.69 432.36,1136.07 401.12,1144.79 414.2,1101.2 388.77,1122.27 376.42,1093.93 364.79,1101.2 361.89,1097.13 351.71,1098 345.9,1098.29 290.98,1133.89 289.52,1124.16" fill="none" stroke="#0b0b78" stroke-width="1.3" stroke-linejoin="round"/>
<g fill="#0b0b78"><circle cx="323.67" cy="1201.46" r="2.1"/><circle cx="355.35" cy="1203.64" r="2.1"/><circle cx="362.61" cy="1194.2" r="2.1"/><circle cx="397.49" cy="1182.57" r="2.1"/><circle cx="440.35" cy="1178.94" r="2.1"/><circle cx="401.85" cy="1169.49" r="2.1"/><circle cx="410.56" cy="1155.69" r="2.1"/><circle cx="432.36" cy="1136.07" r="2.1"/><circle cx="401.12" cy="1144.79" r="2.1"/><circle cx="414.2" cy="1101.2" r="2.1"/><circle cx="388.77" cy="1122.27" r="2.1"/><circle cx="376.42" cy="1093.93" r="2.1"/><circle cx="364.79" cy="1101.2" r="2.1"/><circle cx="361.89" cy="1097.13" r="2.1"/><circle cx="351.71" cy="1098" r="2.1"/><circle cx="345.9" cy="1098.29" r="2.1"/><circle cx="290.98" cy="1133.89" r="2.1"/><circle cx="289.52" cy="1124.16" r="2.1"/></g>
<polyline points="323.67,1201.46 355.43,1203.87 363.05,1194.14 398.5,1182.69 440.93,1178.74 402.28,1169.06 410.85,1155.11 433.67,1133.46 401.7,1143.92 414.49,1098 388.62,1118.93 376.42,1091.32 365.08,1098.44 363.05,1093.59 354.33,1095.16 350.26,1098 295.77,1121.83" fill="none" stroke="#1212e0" stroke-width="1.3" stroke-linejoin="round"/>
<g fill="#1212e0"><circle cx="323.67" cy="1201.46" r="2.1"/><circle cx="355.43" cy="1203.87" r="2.1"/><circle cx="363.05" cy="1194.14" r="2.1"/><circle cx="398.5" cy="1182.69" r="2.1"/><circle cx="440.93" cy="1178.74" r="2.1"/><circle cx="402.28" cy="1169.06" r="2.1"/><circle cx="410.85" cy="1155.11" r="2.1"/><circle cx="433.67" cy="1133.46" r="2.1"/><circle cx="401.7" cy="1143.92" r="2.1"/><circle cx="414.49" cy="1098" r="2.1"/><circle cx="388.62" cy="1118.93" r="2.1"/><circle cx="376.42" cy="1091.32" r="2.1"/><circle cx="365.08" cy="1098.44" r="2.1"/><circle cx="363.05" cy="1093.59" r="2.1"/><circle cx="354.33" cy="1095.16" r="2.1"/><circle cx="350.26" cy="1098" r="2.1"/><circle cx="295.77" cy="1121.83" r="2.1"/></g>
<polyline points="323.67,1201.46 355.52,1204.11 363.48,1194.08 399.52,1182.8 441.51,1178.53 402.72,1168.62 411.15,1154.53 434.98,1130.84 402.28,1143.05 414.78,1094.81 388.48,1115.59 376.42,1088.7 365.37,1095.68 364.21,1090.04 356.95,1092.31 352.44,1094.66 296.79,1107.3" fill="none" stroke="#2255f0" stroke-width="1.3" stroke-linejoin="round"/>
<g fill="#2255f0"><circle cx="323.67" cy="1201.46" r="2.1"/><circle cx="355.52" cy="1204.11" r="2.1"/><circle cx="363.48" cy="1194.08" r="2.1"/><circle cx="399.52" cy="1182.8" r="2.1"/><circle cx="441.51" cy="1178.53" r="2.1"/><circle cx="402.72" cy="1168.62" r="2.1"/><circle cx="411.15" cy="1154.53" r="2.1"/><circle cx="434.98" cy="1130.84" r="2.1"/><circle cx="402.28" cy="1143.05" r="2.1"/><circle cx="414.78" cy="1094.81" r="2.1"/><circle cx="388.48" cy="1115.59" r="2.1"/><circle cx="376.42" cy="1088.7" r="2.1"/><circle cx="365.37" cy="1095.68" r="2.1"/><circle cx="364.21" cy="1090.04" r="2.1"/><circle cx="356.95" cy="1092.31" r="2.1"/><circle cx="352.44" cy="1094.66" r="2.1"/><circle cx="296.79" cy="1107.3" r="2.1"/></g>
<polyline points="323.67,1201.46 355.61,1204.34 363.92,1194.02 400.54,1182.92 442.1,1178.33 403.15,1168.19 411.44,1153.95 436.28,1128.23 402.86,1142.18 415.07,1091.61 388.33,1112.24 376.42,1086.09 365.66,1092.92 365.37,1086.5 359.56,1089.46 354.62,1091.76 302.31,1096.84" fill="none" stroke="#4aa8f5" stroke-width="1.3" stroke-linejoin="round"/>
<g fill="#4aa8f5"><circle cx="323.67" cy="1201.46" r="2.1"/><circle cx="355.61" cy="1204.34" r="2.1"/><circle cx="363.92" cy="1194.02" r="2.1"/><circle cx="400.54" cy="1182.92" r="2.1"/><circle cx="442.1" cy="1178.33" r="2.1"/><circle cx="403.15" cy="1168.19" r="2.1"/><circle cx="411.44" cy="1153.95" r="2.1"/><circle cx="436.28" cy="1128.23" r="2.1"/><circle cx="402.86" cy="1142.18" r="2.1"/><circle cx="415.07" cy="1091.61" r="2.1"/><circle cx="388.33" cy="1112.24" r="2.1"/><circle cx="376.42" cy="1086.09" r="2.1"/><circle cx="365.66" cy="1092.92" r="2.1"/><circle cx="365.37" cy="1086.5" r="2.1"/><circle cx="359.56" cy="1089.46" r="2.1"/><circle cx="354.62" cy="1091.76" r="2.1"/><circle cx="302.31" cy="1096.84" r="2.1"/></g>
<polyline points="323.67,1201.46 355.7,1204.57 364.36,1193.96 401.55,1183.04 442.68,1178.13 403.59,1167.75 411.73,1153.37 437.59,1125.61 403.44,1141.3 415.36,1088.41 388.19,1108.9 376.42,1083.47 365.95,1090.16 366.54,1082.95 362.18,1086.61 356.07,1086.67 306.23,1088.12" fill="none" stroke="#66efd0" stroke-width="1.3" stroke-linejoin="round"/>
<g fill="#66efd0"><circle cx="323.67" cy="1201.46" r="2.1"/><circle cx="355.7" cy="1204.57" r="2.1"/><circle cx="364.36" cy="1193.96" r="2.1"/><circle cx="401.55" cy="1183.04" r="2.1"/><circle cx="442.68" cy="1178.13" r="2.1"/><circle cx="403.59" cy="1167.75" r="2.1"/><circle cx="411.73" cy="1153.37" r="2.1"/><circle cx="437.59" cy="1125.61" r="2.1"/><circle cx="403.44" cy="1141.3" r="2.1"/><circle cx="415.36" cy="1088.41" r="2.1"/><circle cx="388.19" cy="1108.9" r="2.1"/><circle cx="376.42" cy="1083.47" r="2.1"/><circle cx="365.95" cy="1090.16" r="2.1"/><circle cx="366.54" cy="1082.95" r="2.1"/><circle cx="362.18" cy="1086.61" r="2.1"/><circle cx="356.07" cy="1086.67" r="2.1"/><circle cx="306.23" cy="1088.12" r="2.1"/></g>
<polyline points="323.67,1201.46 355.78,1204.8 364.79,1193.91 402.57,1183.15 443.26,1177.92 404.02,1167.31 412.02,1152.78 438.9,1123 404.02,1140.43 415.65,1085.22 388.04,1105.56 376.42,1080.86 366.25,1087.4 367.7,1079.4 364.79,1083.76 358.25,1083.76 310.59,1081.15" fill="none" stroke="#8ef58e" stroke-width="1.3" stroke-linejoin="round"/>
<g fill="#8ef58e"><circle cx="323.67" cy="1201.46" r="2.1"/><circle cx="355.78" cy="1204.8" r="2.1"/><circle cx="364.79" cy="1193.91" r="2.1"/><circle cx="402.57" cy="1183.15" r="2.1"/><circle cx="443.26" cy="1177.92" r="2.1"/><circle cx="404.02" cy="1167.31" r="2.1"/><circle cx="412.02" cy="1152.78" r="2.1"/><circle cx="438.9" cy="1123" r="2.1"/><circle cx="404.02" cy="1140.43" r="2.1"/><circle cx="415.65" cy="1085.22" r="2.1"/><circle cx="388.04" cy="1105.56" r="2.1"/><circle cx="376.42" cy="1080.86" r="2.1"/><circle cx="366.25" cy="1087.4" r="2.1"/><circle cx="367.7" cy="1079.4" r="2.1"/><circle cx="364.79" cy="1083.76" r="2.1"/><circle cx="358.25" cy="1083.76" r="2.1"/><circle cx="310.59" cy="1081.15" r="2.1"/></g>
<polyline points="323.67,1201.46 355.93,1205.13 365.26,1193.8 404.02,1183.3 443.62,1177.63 404.57,1166.48 412.38,1151.95 439.44,1119.73 403.66,1138.44 419.28,1084.31 385.97,1107.67 416.09,1088.12 371.88,1081.58 371.69,1075.66 367.41,1077.41 358.98,1080.86 314.37,1076.21" fill="none" stroke="#ccf54d" stroke-width="1.3" stroke-linejoin="round"/>
<g fill="#ccf54d"><circle cx="323.67" cy="1201.46" r="2.1"/><circle cx="355.93" cy="1205.13" r="2.1"/><circle cx="365.26" cy="1193.8" r="2.1"/><circle cx="404.02" cy="1183.3" r="2.1"/><circle cx="443.62" cy="1177.63" r="2.1"/><circle cx="404.57" cy="1166.48" r="2.1"/><circle cx="412.38" cy="1151.95" r="2.1"/><circle cx="439.44" cy="1119.73" r="2.1"/><circle cx="403.66" cy="1138.44" r="2.1"/><circle cx="419.28" cy="1084.31" r="2.1"/><circle cx="385.97" cy="1107.67" r="2.1"/><circle cx="416.09" cy="1088.12" r="2.1"/><circle cx="371.88" cy="1081.58" r="2.1"/><circle cx="371.69" cy="1075.66" r="2.1"/><circle cx="367.41" cy="1077.41" r="2.1"/><circle cx="358.98" cy="1080.86" r="2.1"/><circle cx="314.37" cy="1076.21" r="2.1"/></g>
<polyline points="323.67,1201.46 356.07,1205.46 365.74,1193.69 405.48,1183.44 443.98,1177.34 405.11,1165.64 412.74,1151.11 439.99,1116.46 403.3,1136.44 422.91,1083.4 383.9,1109.77 416.09,1073.59 377.51,1075.77 375.69,1071.92 370.02,1071.05 360.14,1077.66 320.18,1069.96" fill="none" stroke="#f5c242" stroke-width="1.3" stroke-linejoin="round"/>
<g fill="#f5c242"><circle cx="323.67" cy="1201.46" r="2.1"/><circle cx="356.07" cy="1205.46" r="2.1"/><circle cx="365.74" cy="1193.69" r="2.1"/><circle cx="405.48" cy="1183.44" r="2.1"/><circle cx="443.98" cy="1177.34" r="2.1"/><circle cx="405.11" cy="1165.64" r="2.1"/><circle cx="412.74" cy="1151.11" r="2.1"/><circle cx="439.99" cy="1116.46" r="2.1"/><circle cx="403.3" cy="1136.44" r="2.1"/><circle cx="422.91" cy="1083.4" r="2.1"/><circle cx="383.9" cy="1109.77" r="2.1"/><circle cx="416.09" cy="1073.59" r="2.1"/><circle cx="377.51" cy="1075.77" r="2.1"/><circle cx="375.69" cy="1071.92" r="2.1"/><circle cx="370.02" cy="1071.05" r="2.1"/><circle cx="360.14" cy="1077.66" r="2.1"/><circle cx="320.18" cy="1069.96" r="2.1"/></g>
<polyline points="323.67,1201.46 356.22,1205.78 366.21,1193.58 406.93,1183.59 444.35,1177.05 405.66,1164.81 413.11,1150.28 440.53,1113.19 402.94,1134.44 426.55,1082.49 381.83,1111.88 411,1064.15 383.14,1069.96 379.69,1068.18 372.64,1064.69 358.25,1072.57 324.83,1063.86" fill="none" stroke="#f07830" stroke-width="1.3" stroke-linejoin="round"/>
<g fill="#f07830"><circle cx="323.67" cy="1201.46" r="2.1"/><circle cx="356.22" cy="1205.78" r="2.1"/><circle cx="366.21" cy="1193.58" r="2.1"/><circle cx="406.93" cy="1183.59" r="2.1"/><circle cx="444.35" cy="1177.05" r="2.1"/><circle cx="405.66" cy="1164.81" r="2.1"/><circle cx="413.11" cy="1150.28" r="2.1"/><circle cx="440.53" cy="1113.19" r="2.1"/><circle cx="402.94" cy="1134.44" r="2.1"/><circle cx="426.55" cy="1082.49" r="2.1"/><circle cx="381.83" cy="1111.88" r="2.1"/><circle cx="411" cy="1064.15" r="2.1"/><circle cx="383.14" cy="1069.96" r="2.1"/><circle cx="379.69" cy="1068.18" r="2.1"/><circle cx="372.64" cy="1064.69" r="2.1"/><circle cx="358.25" cy="1072.57" r="2.1"/><circle cx="324.83" cy="1063.86" r="2.1"/></g>
<polyline points="323.67,1201.46 356.36,1206.11 366.68,1193.47 408.38,1183.73 444.71,1176.76 406.2,1163.97 413.47,1149.44 441.08,1109.92 402.57,1132.44 430.18,1081.58 379.76,1113.99 404.02,1051.51 388.77,1064.15 383.68,1064.44 375.25,1058.33 360.43,1064.44 340.82,1053.98" fill="none" stroke="#d8342a" stroke-width="1.3" stroke-linejoin="round"/>
<g fill="#d8342a"><circle cx="323.67" cy="1201.46" r="2.1"/><circle cx="356.36" cy="1206.11" r="2.1"/><circle cx="366.68" cy="1193.47" r="2.1"/><circle cx="408.38" cy="1183.73" r="2.1"/><circle cx="444.71" cy="1176.76" r="2.1"/><circle cx="406.2" cy="1163.97" r="2.1"/><circle cx="413.47" cy="1149.44" r="2.1"/><circle cx="441.08" cy="1109.92" r="2.1"/><circle cx="402.57" cy="1132.44" r="2.1"/><circle cx="430.18" cy="1081.58" r="2.1"/><circle cx="379.76" cy="1113.99" r="2.1"/><circle cx="404.02" cy="1051.51" r="2.1"/><circle cx="388.77" cy="1064.15" r="2.1"/><circle cx="383.68" cy="1064.44" r="2.1"/><circle cx="375.25" cy="1058.33" r="2.1"/><circle cx="360.43" cy="1064.44" r="2.1"/><circle cx="340.82" cy="1053.98" r="2.1"/></g>
<rect x="537.26" y="1052.51" width="302.36" height="149.02" fill="#fff" stroke="#aaa" stroke-width="1"/>
<path d="M537.26 1059.13 H839.62 M537.26 1086.32 H839.62 M537.26 1113.36 H839.62 M537.26 1140.4 H839.62 M537.26 1167.45 H839.62 M537.26 1194.63 H839.62 M552.36 1052.51 V1202.83 M581.85 1052.51 V1202.83 M611.34 1052.51 V1202.83 M640.54 1052.51 V1202.83 M670.03 1052.51 V1202.83 M699.37 1052.51 V1202.83 M728.57 1052.51 V1202.83 M757.77 1052.51 V1202.83 M787.26 1052.51 V1202.83 M816.32 1052.51 V1202.83" stroke="#d9d9d9" stroke-width="0.7" fill="none"/>
<path d="M549.34 1059.13 V1098.26 M555.67 1068.77 V1090.35 M547.91 1059.13 h2.88 M547.91 1098.26 h2.88 M554.23 1068.77 h2.88 M554.23 1090.35 h2.88" stroke="#666" stroke-width="0.6" fill="none"/><line x1="549.34" y1="1099.41" x2="549.34" y2="1111.2" stroke="#111" stroke-width="1.1"/><path d="M549.34 1112.64 h0.01 M549.34 1116.46 h0.01 M549.34 1119.17 h0.01 M549.34 1125.11 h0.01 M549.34 1127.03 h0.01 M555.67 1091.21 h0.01 M555.67 1092.93 h0.01" stroke="#111" stroke-width="1.2" stroke-linecap="round" fill="none"/><rect x="546.32" y="1074.23" width="6.04" height="8.2" fill="#8ccbea" stroke="#7a9aa8" stroke-width="0.4"/><rect x="552.8" y="1076.25" width="5.75" height="4.32" fill="#93e08f" stroke="#7aa87a" stroke-width="0.4"/><path d="M546.32 1077.9 h6.04 M552.8 1078.41 h5.75" stroke="#e8a05a" stroke-width="0.5"/>
<path d="M578.83 1059.13 V1095.38 M585.16 1069.2 V1090.35 M577.39 1059.13 h2.88 M577.39 1095.38 h2.88 M583.72 1069.2 h2.88 M583.72 1090.35 h2.88" stroke="#666" stroke-width="0.6" fill="none"/><line x1="578.83" y1="1096.53" x2="578.83" y2="1111.92" stroke="#111" stroke-width="1.1"/><path d="M578.83 1113.36 h0.01 M578.83 1118.56 h0.01 M578.83 1122.65 h0.01 M578.83 1124.75 h0.01 M578.83 1129.76 h0.01 M578.83 1131.73 h0.01 M578.83 1136.26 h0.01 M578.83 1138.44 h0.01 M578.83 1140.75 h0.01 M578.83 1145.23 h0.01 M578.83 1152.31 h0.01 M578.83 1154.83 h0.01 M578.83 1158 h0.01 M578.83 1163.79 h0.01 M578.83 1171.65 h0.01 M578.83 1177.11 h0.01 M578.83 1181.41 h0.01 M578.83 1187.44 h0.01 M585.16 1091.21 h0.01 M585.16 1092.93 h0.01" stroke="#111" stroke-width="1.2" stroke-linecap="round" fill="none"/><rect x="575.81" y="1073.8" width="6.04" height="7.91" fill="#8ccbea" stroke="#7a9aa8" stroke-width="0.4"/><rect x="582.28" y="1075.53" width="5.75" height="5.03" fill="#93e08f" stroke="#7aa87a" stroke-width="0.4"/><path d="M575.81 1077.33 h6.04 M582.28 1078.05 h5.75" stroke="#e8a05a" stroke-width="0.5"/>
<path d="M608.32 1061.29 V1098.26 M614.65 1069.2 V1092.93 M606.88 1061.29 h2.88 M606.88 1098.26 h2.88 M613.21 1069.2 h2.88 M613.21 1092.93 h2.88" stroke="#666" stroke-width="0.6" fill="none"/><line x1="608.32" y1="1099.41" x2="608.32" y2="1114.8" stroke="#111" stroke-width="1.1"/><path d="M608.32 1116.24 h0.01 M608.32 1118.26 h0.01 M608.32 1125.55 h0.01 M608.32 1129.15 h0.01 M608.32 1131.81 h0.01 M608.32 1134.3 h0.01 M608.32 1138.02 h0.01 M608.32 1145.03 h0.01 M608.32 1147.92 h0.01 M608.32 1153.42 h0.01 M608.32 1159.28 h0.01 M608.32 1163.41 h0.01 M608.32 1168.69 h0.01 M608.32 1170.82 h0.01 M608.32 1172.93 h0.01 M608.32 1175.99 h0.01 M608.32 1182.12 h0.01 M608.32 1186.61 h0.01 M608.32 1190.32 h0.01 M614.65 1093.8 h0.01 M614.65 1095.52 h0.01" stroke="#111" stroke-width="1.2" stroke-linecap="round" fill="none"/><rect x="605.3" y="1075.24" width="6.04" height="7.48" fill="#8ccbea" stroke="#7a9aa8" stroke-width="0.4"/><rect x="611.77" y="1077.11" width="5.75" height="5.32" fill="#93e08f" stroke="#7aa87a" stroke-width="0.4"/><path d="M605.3 1078.55 h6.04 M611.77 1079.77 h5.75" stroke="#e8a05a" stroke-width="0.5"/>
<path d="M637.52 1059.13 V1102.57 M643.85 1069.92 V1097.54 M636.08 1059.13 h2.88 M636.08 1102.57 h2.88 M642.41 1069.92 h2.88 M642.41 1097.54 h2.88" stroke="#666" stroke-width="0.6" fill="none"/><line x1="637.52" y1="1103.72" x2="637.52" y2="1126.31" stroke="#111" stroke-width="1.1"/><path d="M637.52 1127.74 h0.01 M637.52 1133.26 h0.01 M637.52 1137.92 h0.01 M637.52 1141.59 h0.01 M637.52 1148.46 h0.01 M637.52 1154.71 h0.01 M637.52 1158.01 h0.01 M637.52 1163.46 h0.01 M637.52 1168.58 h0.01 M637.52 1175.97 h0.01 M637.52 1182.42 h0.01 M637.52 1186.01 h0.01 M637.52 1192.47 h0.01 M643.85 1098.4 h0.01 M643.85 1100.13 h0.01" stroke="#111" stroke-width="1.2" stroke-linecap="round" fill="none"/><rect x="634.5" y="1077.11" width="6.04" height="8.63" fill="#8ccbea" stroke="#7a9aa8" stroke-width="0.4"/><rect x="640.97" y="1079.13" width="5.75" height="6.19" fill="#93e08f" stroke="#7aa87a" stroke-width="0.4"/><path d="M634.5 1081 h6.04 M640.97 1082.22 h5.75" stroke="#e8a05a" stroke-width="0.5"/>
<path d="M667.01 1064.45 V1106.17 M673.34 1072.36 V1101.85 M665.57 1064.45 h2.88 M665.57 1106.17 h2.88 M671.9 1072.36 h2.88 M671.9 1101.85 h2.88" stroke="#666" stroke-width="0.6" fill="none"/><line x1="667.01" y1="1107.32" x2="667.01" y2="1133.5" stroke="#111" stroke-width="1.1"/><path d="M667.01 1134.94 h0.01 M667.01 1137.43 h0.01 M667.01 1141.86 h0.01 M667.01 1148.49 h0.01 M667.01 1151.2 h0.01 M667.01 1156.09 h0.01 M667.01 1158.07 h0.01 M667.01 1164.12 h0.01 M667.01 1170.79 h0.01 M667.01 1176.23 h0.01 M667.01 1183.62 h0.01 M667.01 1187.38 h0.01 M667.01 1193.61 h0.01 M667.01 1194.63 h0.01 M673.34 1102.72 h0.01 M673.34 1104.44 h0.01" stroke="#111" stroke-width="1.2" stroke-linecap="round" fill="none"/><rect x="663.99" y="1080.28" width="6.04" height="8.63" fill="#8ccbea" stroke="#7a9aa8" stroke-width="0.4"/><rect x="670.46" y="1082.43" width="5.75" height="6.47" fill="#93e08f" stroke="#7aa87a" stroke-width="0.4"/><path d="M663.99 1084.16 h6.04 M670.46 1085.67 h5.75" stroke="#e8a05a" stroke-width="0.5"/>
<path d="M696.35 1067.33 V1114.08 M702.68 1078.55 V1109.04 M694.91 1067.33 h2.88 M694.91 1114.08 h2.88 M701.24 1078.55 h2.88 M701.24 1109.04 h2.88" stroke="#666" stroke-width="0.6" fill="none"/><line x1="696.35" y1="1115.23" x2="696.35" y2="1149.32" stroke="#111" stroke-width="1.1"/><path d="M696.35 1150.76 h0.01 M696.35 1156.24 h0.01 M696.35 1160.92 h0.01 M696.35 1168.08 h0.01 M696.35 1175.92 h0.01 M696.35 1180.72 h0.01 M696.35 1186.74 h0.01 M696.35 1188.86 h0.01 M696.35 1194.63 h0.01 M702.68 1109.91 h0.01 M702.68 1111.63 h0.01" stroke="#111" stroke-width="1.2" stroke-linecap="round" fill="none"/><rect x="693.33" y="1084.3" width="6.04" height="10.07" fill="#8ccbea" stroke="#7a9aa8" stroke-width="0.4"/><rect x="699.8" y="1087.18" width="5.75" height="7.19" fill="#93e08f" stroke="#7aa87a" stroke-width="0.4"/><path d="M693.33 1088.91 h6.04 M699.8 1090.78 h5.75" stroke="#e8a05a" stroke-width="0.5"/>
<path d="M725.55 1070.21 V1121.99 M731.88 1081.43 V1117.68 M724.11 1070.21 h2.88 M724.11 1121.99 h2.88 M730.44 1081.43 h2.88 M730.44 1117.68 h2.88" stroke="#666" stroke-width="0.6" fill="none"/><line x1="725.55" y1="1123.14" x2="725.55" y2="1155.07" stroke="#111" stroke-width="1.1"/><path d="M725.55 1156.51 h0.01 M725.55 1162.43 h0.01 M725.55 1170.58 h0.01 M725.55 1177.63 h0.01 M725.55 1181.2 h0.01 M725.55 1185.42 h0.01 M725.55 1191.47 h0.01 M725.55 1193.35 h0.01 M725.55 1194.63 h0.01 M731.88 1118.54 h0.01 M731.88 1120.26 h0.01" stroke="#111" stroke-width="1.2" stroke-linecap="round" fill="none"/><rect x="722.53" y="1089.63" width="6.04" height="10.79" fill="#8ccbea" stroke="#7a9aa8" stroke-width="0.4"/><rect x="729" y="1092.07" width="5.75" height="8.06" fill="#93e08f" stroke="#7aa87a" stroke-width="0.4"/><path d="M722.53 1094.59 h6.04 M729 1096.1 h5.75" stroke="#e8a05a" stroke-width="0.5"/>
<path d="M754.75 1070.21 V1132.78 M761.08 1086.32 V1124.87 M753.31 1070.21 h2.88 M753.31 1132.78 h2.88 M759.64 1086.32 h2.88 M759.64 1124.87 h2.88" stroke="#666" stroke-width="0.6" fill="none"/><line x1="754.75" y1="1133.93" x2="754.75" y2="1162.27" stroke="#111" stroke-width="1.1"/><path d="M754.75 1163.71 h0.01 M754.75 1166.52 h0.01 M754.75 1169 h0.01 M754.75 1171.11 h0.01 M754.75 1177.81 h0.01 M754.75 1180.37 h0.01 M754.75 1183.7 h0.01 M754.75 1187.96 h0.01 M754.75 1193.91 h0.01 M761.08 1125.73 h0.01 M761.08 1127.46 h0.01" stroke="#111" stroke-width="1.2" stroke-linecap="round" fill="none"/><rect x="751.73" y="1095.09" width="6.04" height="12.8" fill="#8ccbea" stroke="#7a9aa8" stroke-width="0.4"/><rect x="758.2" y="1098.26" width="5.75" height="8.63" fill="#93e08f" stroke="#7aa87a" stroke-width="0.4"/><path d="M751.73 1101.06 h6.04 M758.2 1102.57 h5.75" stroke="#e8a05a" stroke-width="0.5"/>
<path d="M784.24 1085.31 V1140.69 M790.57 1093.22 V1133.5 M782.8 1085.31 h2.88 M782.8 1140.69 h2.88 M789.13 1093.22 h2.88 M789.13 1133.5 h2.88" stroke="#666" stroke-width="0.6" fill="none"/><line x1="784.24" y1="1141.84" x2="784.24" y2="1166.58" stroke="#111" stroke-width="1.1"/><path d="M784.24 1168.02 h0.01 M784.24 1170.27 h0.01 M784.24 1171.62 h0.01 M790.57 1134.36 h0.01 M790.57 1136.09 h0.01" stroke="#111" stroke-width="1.2" stroke-linecap="round" fill="none"/><rect x="781.22" y="1101.57" width="6.04" height="12.95" fill="#8ccbea" stroke="#7a9aa8" stroke-width="0.4"/><rect x="787.69" y="1104.01" width="5.75" height="9.35" fill="#93e08f" stroke="#7aa87a" stroke-width="0.4"/><path d="M781.22 1107.61 h6.04 M787.69 1108.69 h5.75" stroke="#e8a05a" stroke-width="0.5"/>
<path d="M813.3 1088.48 V1143.57 M819.63 1093.22 V1138.82 M811.86 1088.48 h2.88 M811.86 1143.57 h2.88 M818.19 1093.22 h2.88 M818.19 1138.82 h2.88" stroke="#666" stroke-width="0.6" fill="none"/><line x1="813.3" y1="1144.72" x2="813.3" y2="1169.46" stroke="#111" stroke-width="1.1"/><path d="M813.3 1170.9 h0.01 M813.3 1176.18 h0.01 M813.3 1183.12 h0.01 M819.63 1139.68 h0.01 M819.63 1141.41 h0.01" stroke="#111" stroke-width="1.2" stroke-linecap="round" fill="none"/><rect x="810.28" y="1107.17" width="6.04" height="12.37" fill="#8ccbea" stroke="#7a9aa8" stroke-width="0.4"/><rect x="816.75" y="1109.04" width="5.75" height="9.78" fill="#93e08f" stroke="#7aa87a" stroke-width="0.4"/><path d="M810.28 1112.93 h6.04 M816.75 1113.94 h5.75" stroke="#e8a05a" stroke-width="0.5"/>
<rect x="776.76" y="1054.38" width="59.7" height="15.1" fill="#fff" fill-opacity="0.85" stroke="#ddd" stroke-width="0.4" rx="0.6"/>
<rect x="778.92" y="1056.54" width="9" height="3" fill="#8ccbea"/><rect x="778.92" y="1063.3" width="9" height="3" fill="#93e08f"/>
<path d="M867.2 1025.9 C876.74 1030.1 883.58 1038.5 883.58 1051.1 C883.58 1078.4 860.84 1125.65 899 1130.9 C860.84 1135.8 880.56 1179.85 880.56 1205.3 C880.56 1217.05 875.15 1224.88 867.2 1228.8" fill="none" stroke="#444" stroke-width="1"/>
<g><path d="M1228.6 327.5 L1241.06 327.5 L1240.24 330.45 L1227.49 330.45Z" fill="#b01515"/><path d="M1227.49 330.15 L1240.24 330.15 L1239.43 333.11 L1226.39 333.11Z" fill="#58d8ee"/><path d="M1226.39 332.81 L1239.43 332.81 L1238.84 335.01 L1225.59 335.01Z" fill="#77e8c9"/><path d="M1225.59 334.71 L1238.84 334.71 L1236.43 342.89 L1222.31 342.89Z" fill="#b01515"/><path d="M1222.31 342.59 L1236.43 342.59 L1234.27 349.91 L1219.38 349.91Z" fill="#77e8c9"/><path d="M1219.38 349.61 L1234.27 349.61 L1233.81 351.42 L1218.75 351.42Z" fill="#b01515"/><path d="M1218.75 351.12 L1233.81 351.12 L1232.82 354.63 L1217.41 354.63Z" fill="#f4e51c"/><path d="M1217.41 354.33 L1232.82 354.33 L1231.86 357.76 L1216.1 357.76Z" fill="#1133dd"/><path d="M1216.1 357.46 L1231.86 357.46 L1229.92 364.09 L1213.46 364.09Z" fill="#58d8ee"/><path d="M1213.46 363.79 L1229.92 363.79 L1228.98 367.16 L1212.18 367.16Z" fill="#8fe36b"/><path d="M1212.18 366.86 L1228.98 366.86 L1228.84 367.6 L1212 367.6Z" fill="#2f7bf0"/><path d="M1240.76 327.5 L1253.21 327.5 L1252.81 329.84 L1240.13 329.84Z" fill="#d7301f"/><path d="M1240.13 329.54 L1252.81 329.54 L1252.18 333.08 L1239.14 333.08Z" fill="#f58b1e"/><path d="M1239.14 332.78 L1252.18 332.78 L1251.68 335.61 L1238.36 335.61Z" fill="#1133dd"/><path d="M1238.36 335.31 L1251.68 335.31 L1251.02 338.97 L1237.33 338.97Z" fill="#58d8ee"/><path d="M1237.33 338.67 L1251.02 338.67 L1249.52 346.57 L1235 346.57Z" fill="#f6c21a"/><path d="M1235 346.27 L1249.52 346.27 L1248.83 350.1 L1233.91 350.1Z" fill="#f58b1e"/><path d="M1233.91 349.8 L1248.83 349.8 L1248.34 352.57 L1233.16 352.57Z" fill="#77e8c9"/><path d="M1233.16 352.27 L1248.34 352.27 L1247.13 358.74 L1231.26 358.74Z" fill="#d7301f"/><path d="M1231.26 358.44 L1247.13 358.44 L1246.6 361.44 L1230.43 361.44Z" fill="#0a1fa0"/><path d="M1230.43 361.14 L1246.6 361.14 L1246.09 364 L1229.65 364Z" fill="#58d8ee"/><path d="M1229.65 363.7 L1246.09 363.7 L1245.39 367.57 L1228.55 367.57Z" fill="#1133dd"/><path d="M1228.55 367.27 L1245.39 367.27 L1245.39 367.6 L1228.54 367.6Z" fill="#0a1fa0"/><path d="M1252.91 327.5 L1265.37 327.5 L1264.66 336.08 L1251.29 336.08Z" fill="#58d8ee"/><path d="M1251.29 335.78 L1264.66 335.78 L1263.95 344.22 L1249.68 344.22Z" fill="#b01515"/><path d="M1249.68 343.92 L1263.95 343.92 L1263.23 352.61 L1248.03 352.61Z" fill="#2f7bf0"/><path d="M1248.03 352.31 L1263.23 352.31 L1263.06 354.53 L1247.66 354.53Z" fill="#f4e51c"/><path d="M1247.66 354.23 L1263.06 354.23 L1262.84 357.09 L1247.15 357.09Z" fill="#0a1fa0"/><path d="M1247.15 356.79 L1262.84 356.79 L1262.2 364.43 L1245.71 364.43Z" fill="#f58b1e"/><path d="M1245.71 364.13 L1262.2 364.13 L1261.93 367.6 L1245.09 367.6Z" fill="#f6c21a"/><path d="M1265.07 327.5 L1277.53 327.5 L1277.58 330.04 L1264.88 330.04Z" fill="#58d8ee"/><path d="M1264.88 329.74 L1277.58 329.74 L1277.63 331.96 L1264.71 331.96Z" fill="#f6c21a"/><path d="M1264.71 331.66 L1277.63 331.66 L1277.82 339.91 L1264.02 339.91Z" fill="#f4e51c"/><path d="M1264.02 339.61 L1277.82 339.61 L1277.86 341.9 L1263.85 341.9Z" fill="#f6c21a"/><path d="M1263.85 341.6 L1277.86 341.6 L1277.92 344.21 L1263.65 344.21Z" fill="#1133dd"/><path d="M1263.65 343.91 L1277.92 343.91 L1278.07 350.58 L1263.1 350.58Z" fill="#77e8c9"/><path d="M1263.1 350.28 L1278.07 350.28 L1278.12 352.65 L1262.92 352.65Z" fill="#8fe36b"/><path d="M1262.92 352.35 L1278.12 352.35 L1278.3 360.56 L1262.24 360.56Z" fill="#f6c21a"/><path d="M1262.24 360.26 L1278.3 360.26 L1278.37 363.3 L1262 363.3Z" fill="#0a1fa0"/><path d="M1262 363 L1278.37 363 L1278.47 367.6 L1261.63 367.6Z" fill="#58d8ee"/><path d="M1277.23 327.5 L1289.69 327.5 L1290.18 331.47 L1277.32 331.47Z" fill="#58d8ee"/><path d="M1277.32 331.17 L1290.18 331.17 L1290.42 333.31 L1277.36 333.31Z" fill="#2f7bf0"/><path d="M1277.36 333.01 L1290.42 333.01 L1290.68 335.25 L1277.4 335.25Z" fill="#b01515"/><path d="M1277.4 334.95 L1290.68 334.95 L1291.09 338.32 L1277.48 338.32Z" fill="#1133dd"/><path d="M1277.48 338.02 L1291.09 338.02 L1291.32 340.02 L1277.52 340.02Z" fill="#f58b1e"/><path d="M1277.52 339.72 L1291.32 339.72 L1291.6 342.08 L1277.57 342.08Z" fill="#f58b1e"/><path d="M1277.57 341.78 L1291.6 341.78 L1291.94 344.64 L1277.63 344.64Z" fill="#b01515"/><path d="M1277.63 344.34 L1291.94 344.34 L1292.88 351.63 L1277.79 351.63Z" fill="#1133dd"/><path d="M1277.79 351.33 L1292.88 351.33 L1293.11 353.37 L1277.83 353.37Z" fill="#77e8c9"/><path d="M1277.83 353.07 L1293.11 353.07 L1293.61 357.14 L1277.92 357.14Z" fill="#f58b1e"/><path d="M1277.92 356.84 L1293.61 356.84 L1293.88 359.12 L1277.97 359.12Z" fill="#d7301f"/><path d="M1277.97 358.82 L1293.88 358.82 L1294.09 360.71 L1278.01 360.71Z" fill="#58d8ee"/><path d="M1278.01 360.41 L1294.09 360.41 L1294.94 367.05 L1278.16 367.05Z" fill="#8fe36b"/><path d="M1278.16 366.75 L1294.94 366.75 L1295.01 367.6 L1278.17 367.6Z" fill="#1133dd"/><path d="M1289.39 327.5 L1301.84 327.5 L1302.43 330.2 L1289.71 330.2Z" fill="#8fe36b"/><path d="M1289.71 329.9 L1302.43 329.9 L1303.22 333.43 L1290.14 333.43Z" fill="#f6c21a"/><path d="M1290.14 333.13 L1303.22 333.13 L1304.2 337.46 L1290.68 337.46Z" fill="#d7301f"/><path d="M1290.68 337.16 L1304.2 337.16 L1304.86 340.17 L1291.04 340.17Z" fill="#f58b1e"/><path d="M1291.04 339.87 L1304.86 339.87 L1307.02 349.02 L1292.23 349.02Z" fill="#77e8c9"/><path d="M1292.23 348.72 L1307.02 348.72 L1308.58 355.4 L1293.08 355.4Z" fill="#f58b1e"/><path d="M1293.08 355.1 L1308.58 355.1 L1309.14 357.68 L1293.39 357.68Z" fill="#1133dd"/><path d="M1293.39 357.38 L1309.14 357.38 L1309.78 360.34 L1293.74 360.34Z" fill="#d7301f"/><path d="M1293.74 360.04 L1309.78 360.04 L1310.74 364.24 L1294.26 364.24Z" fill="#f4e51c"/><path d="M1294.26 363.94 L1310.74 363.94 L1311.56 367.6 L1294.71 367.6Z" fill="#8fe36b"/><path d="M1301.54 327.5 L1314 327.5 L1314.58 329.43 L1301.94 329.43Z" fill="#1133dd"/><path d="M1301.94 329.13 L1314.58 329.13 L1315.93 333.25 L1302.87 333.25Z" fill="#d7301f"/><path d="M1302.87 332.95 L1315.93 332.95 L1317.28 337.05 L1303.8 337.05Z" fill="#f6c21a"/><path d="M1303.8 336.75 L1317.28 336.75 L1318.42 340.29 L1304.59 340.29Z" fill="#d7301f"/><path d="M1304.59 339.99 L1318.42 339.99 L1321.21 348.15 L1306.51 348.15Z" fill="#77e8c9"/><path d="M1306.51 347.85 L1321.21 347.85 L1321.82 349.87 L1306.93 349.87Z" fill="#0a1fa0"/><path d="M1306.93 349.57 L1321.82 349.57 L1323.03 353.29 L1307.76 353.29Z" fill="#f6c21a"/><path d="M1307.76 352.99 L1323.03 352.99 L1323.98 355.96 L1308.42 355.96Z" fill="#2f7bf0"/><path d="M1308.42 355.66 L1323.98 355.66 L1324.55 357.58 L1308.81 357.58Z" fill="#d7301f"/><path d="M1308.81 357.28 L1324.55 357.28 L1327.04 364.62 L1310.53 364.62Z" fill="#d7301f"/><path d="M1310.53 364.32 L1327.04 364.32 L1327.76 366.65 L1311.03 366.65Z" fill="#b01515"/><path d="M1311.03 366.35 L1327.76 366.35 L1328.1 367.6 L1311.26 367.6Z" fill="#b01515"/></g>
<path d="M1228.6 327.5 L1313.7 327.5 L1327.8 367.3 L1212 367.3Z" fill="none" stroke="#000" stroke-width="1.1" stroke-linejoin="miter"/>
<g clip-path="url(#cpT2)"><rect x="1419" y="324" width="119" height="43" filter="url(#jn1)"/></g>
<path d="M1437.1 325.2 L1522.1 325.2 L1536.2 365.3 L1420.2 365.3Z" fill="none" stroke="#000" stroke-width="1.1"/>
<line x1="1344.9" y1="352.4" x2="1385.9" y2="352.4" stroke="#000" stroke-width="2.5" stroke-dasharray="2.4 2.4"/>
<path d="M1396.2 352.4 L1385.9 357.4 L1385.9 347.4Z" fill="#000"/>
<line x1="1199.1" y1="417.8" x2="1501.1" y2="417.8" stroke="#000" stroke-width="1.2" stroke-dasharray="1.3 1.45"/>
<path d="M1507.7 417.8 L1501.1 421.1 L1501.1 414.5Z" fill="#000"/>
<rect x="1241.1" y="516.3" width="51.9" height="51.4" fill="#777" filter="url(#mos3)"/>
<g transform="translate(1303.8 535.5) scale(0.13970 0.14213) translate(-575 -383)"><g fill="#000" fill-opacity="0.035" stroke="#000" stroke-opacity="0.06" stroke-width="3.15"><path d="M697 320 L835 383 L697 410Z M665 368 L835 383 L665 460Z"/><path d="M870 335 L1010 383 L870 395Z M850 358 L1010 383 L850 408Z"/><path d="M1060 340 L1200 383 L1060 385Z M1045 360 L1200 383 L1045 405Z"/><path d="M1285 350 L1390 383 L1285 382Z"/><path d="M1470 350 L1585 383 L1470 400Z"/></g><path d="M575 318 L718 120 L740 120 L597 318Z" fill="#e2e2e2" stroke="#8c8c8c" stroke-width="3.9370816599732263" stroke-linejoin="round"/><path d="M597 318 L740 120 L740 447 L597 645Z" fill="#c3c3c3" stroke="#8c8c8c" stroke-width="3.9370816599732263" stroke-linejoin="round"/><rect x="575" y="318" width="22" height="327" fill="#ececec" stroke="#8c8c8c" stroke-width="3.9370816599732263" stroke-linejoin="round"/><path d="M642 368 L674 320 L697 320 L665 368Z" fill="#bdbdbd" stroke="#7a7a7a" stroke-width="3.9370816599732263" stroke-linejoin="round"/><path d="M665 368 L697 320 L697 412 L665 460Z" fill="#9c9c9c" stroke="#7a7a7a" stroke-width="3.9370816599732263" stroke-linejoin="round"/><rect x="642" y="368" width="23" height="92" fill="#a9a9a9" stroke="#7a7a7a" stroke-width="3.9370816599732263" stroke-linejoin="round"/><path d="M762 305 L858 175 L898 175 L802 305Z" fill="#e4e4e4" stroke="#8c8c8c" stroke-width="3.9370816599732263" stroke-linejoin="round"/><path d="M802 305 L898 175 L898 432 L802 562Z" fill="#c9c9c9" stroke="#8c8c8c" stroke-width="3.9370816599732263" stroke-linejoin="round"/><rect x="762" y="305" width="40" height="257" fill="#ececec" stroke="#8c8c8c" stroke-width="3.9370816599732263" stroke-linejoin="round"/><path d="M820 358 L840 335 L870 335 L850 358Z" fill="#c4c4c4" stroke="#7a7a7a" stroke-width="3.9370816599732263" stroke-linejoin="round"/><path d="M850 358 L870 335 L870 385 L850 408Z" fill="#a4a4a4" stroke="#7a7a7a" stroke-width="3.9370816599732263" stroke-linejoin="round"/><rect x="820" y="358" width="30" height="50" fill="#b0b0b0" stroke="#7a7a7a" stroke-width="3.9370816599732263" stroke-linejoin="round"/><path d="M948 312 L1005 230 L1087 230 L1030 312Z" fill="#f0f0f0" stroke="#8c8c8c" stroke-width="3.9370816599732263" stroke-linejoin="round"/><path d="M1030 312 L1087 230 L1087 400 L1030 482Z" fill="#d2d2d2" stroke="#8c8c8c" stroke-width="3.9370816599732263" stroke-linejoin="round"/><rect x="948" y="312" width="82" height="170" fill="#ebebeb" stroke="#8c8c8c" stroke-width="3.9370816599732263" stroke-linejoin="round"/><path d="M968 360 L983 340 L1060 340 L1045 360Z" fill="#cdcdcd" stroke="#7a7a7a" stroke-width="3.9370816599732263" stroke-linejoin="round"/><path d="M1045 360 L1060 340 L1060 385 L1045 405Z" fill="#adadad" stroke="#7a7a7a" stroke-width="3.9370816599732263" stroke-linejoin="round"/><rect x="968" y="360" width="77" height="45" fill="#bababa" stroke="#7a7a7a" stroke-width="3.9370816599732263" stroke-linejoin="round"/><path d="M1137 352 L1175 297 L1300 297 L1262 352Z" fill="#f1f1f1" stroke="#8c8c8c" stroke-width="3.9370816599732263" stroke-linejoin="round"/><path d="M1262 352 L1300 297 L1300 370 L1262 425Z" fill="#d6d6d6" stroke="#8c8c8c" stroke-width="3.9370816599732263" stroke-linejoin="round"/><rect x="1137" y="352" width="125" height="73" fill="#ededed" stroke="#8c8c8c" stroke-width="3.9370816599732263" stroke-linejoin="round"/><path d="M1155 368 L1175 350 L1285 350 L1265 368Z" fill="#cfcfcf" stroke="#7a7a7a" stroke-width="3.9370816599732263" stroke-linejoin="round"/><path d="M1265 368 L1285 350 L1285 382 L1265 400Z" fill="#b0b0b0" stroke="#7a7a7a" stroke-width="3.9370816599732263" stroke-linejoin="round"/><rect x="1155" y="368" width="110" height="32" fill="#bdbdbd" stroke="#7a7a7a" stroke-width="3.9370816599732263" stroke-linejoin="round"/><path d="M1325 352 L1363 297 L1488 297 L1450 352Z" fill="#f1f1f1" stroke="#8c8c8c" stroke-width="3.9370816599732263" stroke-linejoin="round"/><path d="M1450 352 L1488 297 L1488 370 L1450 425Z" fill="#d6d6d6" stroke="#8c8c8c" stroke-width="3.9370816599732263" stroke-linejoin="round"/><rect x="1325" y="352" width="125" height="73" fill="#ededed" stroke="#8c8c8c" stroke-width="3.9370816599732263" stroke-linejoin="round"/><path d="M1343 368 L1363 350 L1473 350 L1453 368Z" fill="#cfcfcf" stroke="#7a7a7a" stroke-width="3.9370816599732263" stroke-linejoin="round"/><path d="M1453 368 L1473 350 L1473 382 L1453 400Z" fill="#b0b0b0" stroke="#7a7a7a" stroke-width="3.9370816599732263" stroke-linejoin="round"/><rect x="1343" y="368" width="110" height="32" fill="#bdbdbd" stroke="#7a7a7a" stroke-width="3.9370816599732263" stroke-linejoin="round"/><path d="M1550 352 L1592 297 L1657 297 L1615 352Z" fill="#f1f1f1" stroke="#8c8c8c" stroke-width="3.9370816599732263" stroke-linejoin="round"/><path d="M1615 352 L1657 297 L1657 377 L1615 432Z" fill="#d4d4d4" stroke="#8c8c8c" stroke-width="3.9370816599732263" stroke-linejoin="round"/><rect x="1550" y="352" width="65" height="80" fill="#ededed" stroke="#8c8c8c" stroke-width="3.9370816599732263" stroke-linejoin="round"/></g>
<line x1="1454.9" y1="535.5" x2="1487.1" y2="535.5" stroke="#666" stroke-width="0.7"/>
<rect x="1464.3" y="498.3" width="4.8" height="73.9" fill="#ebebeb" stroke="#8c8c8c" stroke-width="0.55"/>
<rect x="1475.6" y="498.3" width="4.8" height="73.9" fill="#ebebeb" stroke="#8c8c8c" stroke-width="0.55"/>
<rect x="1487.1" y="507.2" width="5.4" height="57.8" fill="#ebebeb" stroke="#8c8c8c" stroke-width="0.55"/>
<path d="M1486.6 467.9 L1464.3 494.8 L1474.5 497 L1464.8 517.9 L1485.8 490.2 L1476.4 488.3Z" fill="#e8822f"/>
<rect x="1632.6" y="319.6" width="369" height="209" fill="#fff" stroke="#333" stroke-width="0.9"/>
<path d="M1648.96 528.6 v2.6 M1684.27 528.6 v2.6 M1719.57 528.6 v2.6 M1754.88 528.6 v2.6 M1790.18 528.6 v2.6 M1825.49 528.6 v2.6 M1860.79 528.6 v2.6 M1896.1 528.6 v2.6 M1931.4 528.6 v2.6 M1966.71 528.6 v2.6 M1632.6 332.4 h-2.6 M1632.6 373.52 h-2.6 M1632.6 414.64 h-2.6 M1632.6 455.76 h-2.6 M1632.6 496.88 h-2.6" stroke="#333" stroke-width="0.7" fill="none"/>
<polyline points="1648.96,332.4 1684.27,338.57 1719.57,345.76 1754.88,353.99 1790.18,365.3 1825.49,379.69 1860.79,401.28 1896.1,429.03 1931.4,461.93 1966.71,500.99 1984.32,517.44" fill="none" stroke="#0b0b78" stroke-width="1.5" stroke-linejoin="round"/><path d="M1648.96 330.8 v3.2 M1646.76 330.8 h4.4 M1646.76 334 h4.4 M1684.27 336.97 v3.2 M1682.07 336.97 h4.4 M1682.07 340.17 h4.4 M1719.57 344.16 v3.2 M1717.37 344.16 h4.4 M1717.37 347.36 h4.4 M1754.88 352.39 v3.2 M1752.68 352.39 h4.4 M1752.68 355.59 h4.4 M1790.18 363.7 v3.2 M1787.98 363.7 h4.4 M1787.98 366.9 h4.4 M1825.49 378.09 v3.2 M1823.29 378.09 h4.4 M1823.29 381.29 h4.4 M1860.79 399.68 v3.2 M1858.59 399.68 h4.4 M1858.59 402.88 h4.4 M1896.1 427.43 v3.2 M1893.9 427.43 h4.4 M1893.9 430.63 h4.4 M1931.4 460.33 v3.2 M1929.2 460.33 h4.4 M1929.2 463.53 h4.4 M1966.71 499.39 v3.2 M1964.51 499.39 h4.4 M1964.51 502.59 h4.4 M1984.32 515.84 v3.2 M1982.12 515.84 h4.4 M1982.12 519.04 h4.4" stroke="#0b0b78" stroke-width="0.9" fill="none"/>
<polyline points="1648.96,332.4 1684.27,335.48 1719.57,338.57 1754.88,344.74 1790.18,350.9 1825.49,362.21 1860.79,376.6 1896.1,399.22 1931.4,433.14 1966.71,485.57 1984.32,513.33" fill="none" stroke="#1212e0" stroke-width="1.5" stroke-linejoin="round"/><path d="M1648.96 330.8 v3.2 M1646.76 330.8 h4.4 M1646.76 334 h4.4 M1684.27 333.88 v3.2 M1682.07 333.88 h4.4 M1682.07 337.08 h4.4 M1719.57 336.97 v3.2 M1717.37 336.97 h4.4 M1717.37 340.17 h4.4 M1754.88 343.14 v3.2 M1752.68 343.14 h4.4 M1752.68 346.34 h4.4 M1790.18 349.3 v3.2 M1787.98 349.3 h4.4 M1787.98 352.5 h4.4 M1825.49 360.61 v3.2 M1823.29 360.61 h4.4 M1823.29 363.81 h4.4 M1860.79 375 v3.2 M1858.59 375 h4.4 M1858.59 378.2 h4.4 M1896.1 397.62 v3.2 M1893.9 397.62 h4.4 M1893.9 400.82 h4.4 M1931.4 431.54 v3.2 M1929.2 431.54 h4.4 M1929.2 434.74 h4.4 M1966.71 483.97 v3.2 M1964.51 483.97 h4.4 M1964.51 487.17 h4.4 M1984.32 511.73 v3.2 M1982.12 511.73 h4.4 M1982.12 514.93 h4.4" stroke="#1212e0" stroke-width="0.9" fill="none"/>
<polyline points="1648.96,332.4 1684.27,334.46 1719.57,337.54 1754.88,341.65 1790.18,346.79 1825.49,351.93 1860.79,362.21 1896.1,378.66 1931.4,409.5 1966.71,465.01 1984.32,506.13" fill="none" stroke="#2255f0" stroke-width="1.5" stroke-linejoin="round"/><path d="M1648.96 330.8 v3.2 M1646.76 330.8 h4.4 M1646.76 334 h4.4 M1684.27 332.86 v3.2 M1682.07 332.86 h4.4 M1682.07 336.06 h4.4 M1719.57 335.94 v3.2 M1717.37 335.94 h4.4 M1717.37 339.14 h4.4 M1754.88 340.05 v3.2 M1752.68 340.05 h4.4 M1752.68 343.25 h4.4 M1790.18 345.19 v3.2 M1787.98 345.19 h4.4 M1787.98 348.39 h4.4 M1825.49 350.33 v3.2 M1823.29 350.33 h4.4 M1823.29 353.53 h4.4 M1860.79 360.61 v3.2 M1858.59 360.61 h4.4 M1858.59 363.81 h4.4 M1896.1 377.06 v3.2 M1893.9 377.06 h4.4 M1893.9 380.26 h4.4 M1931.4 407.9 v3.2 M1929.2 407.9 h4.4 M1929.2 411.1 h4.4 M1966.71 463.41 v3.2 M1964.51 463.41 h4.4 M1964.51 466.61 h4.4 M1984.32 504.53 v3.2 M1982.12 504.53 h4.4 M1982.12 507.73 h4.4" stroke="#2255f0" stroke-width="0.9" fill="none"/>
<polyline points="1648.96,332.4 1684.27,333.84 1719.57,335.48 1754.88,338.57 1790.18,342.68 1825.49,346.79 1860.79,351.93 1896.1,364.27 1931.4,387.91 1966.71,441.37 1984.32,490.71" fill="none" stroke="#4aa8f5" stroke-width="1.5" stroke-linejoin="round"/><path d="M1648.96 330.8 v3.2 M1646.76 330.8 h4.4 M1646.76 334 h4.4 M1684.27 332.24 v3.2 M1682.07 332.24 h4.4 M1682.07 335.44 h4.4 M1719.57 333.88 v3.2 M1717.37 333.88 h4.4 M1717.37 337.08 h4.4 M1754.88 336.97 v3.2 M1752.68 336.97 h4.4 M1752.68 340.17 h4.4 M1790.18 341.08 v3.2 M1787.98 341.08 h4.4 M1787.98 344.28 h4.4 M1825.49 345.19 v3.2 M1823.29 345.19 h4.4 M1823.29 348.39 h4.4 M1860.79 350.33 v3.2 M1858.59 350.33 h4.4 M1858.59 353.53 h4.4 M1896.1 362.67 v3.2 M1893.9 362.67 h4.4 M1893.9 365.87 h4.4 M1931.4 386.31 v3.2 M1929.2 386.31 h4.4 M1929.2 389.51 h4.4 M1966.71 439.77 v3.2 M1964.51 439.77 h4.4 M1964.51 442.97 h4.4 M1984.32 489.11 v3.2 M1982.12 489.11 h4.4 M1982.12 492.31 h4.4" stroke="#4aa8f5" stroke-width="0.9" fill="none"/>
<polyline points="1648.96,332.4 1684.27,333.43 1719.57,334.46 1754.88,336.51 1790.18,339.6 1825.49,342.68 1860.79,345.76 1896.1,352.96 1931.4,368.38 1966.71,413.61 1984.32,471.18" fill="none" stroke="#66efd0" stroke-width="1.5" stroke-linejoin="round"/><path d="M1648.96 330.8 v3.2 M1646.76 330.8 h4.4 M1646.76 334 h4.4 M1684.27 331.83 v3.2 M1682.07 331.83 h4.4 M1682.07 335.03 h4.4 M1719.57 332.86 v3.2 M1717.37 332.86 h4.4 M1717.37 336.06 h4.4 M1754.88 334.91 v3.2 M1752.68 334.91 h4.4 M1752.68 338.11 h4.4 M1790.18 338 v3.2 M1787.98 338 h4.4 M1787.98 341.2 h4.4 M1825.49 341.08 v3.2 M1823.29 341.08 h4.4 M1823.29 344.28 h4.4 M1860.79 344.16 v3.2 M1858.59 344.16 h4.4 M1858.59 347.36 h4.4 M1896.1 351.36 v3.2 M1893.9 351.36 h4.4 M1893.9 354.56 h4.4 M1931.4 366.78 v3.2 M1929.2 366.78 h4.4 M1929.2 369.98 h4.4 M1966.71 412.01 v3.2 M1964.51 412.01 h4.4 M1964.51 415.21 h4.4 M1984.32 469.58 v3.2 M1982.12 469.58 h4.4 M1982.12 472.78 h4.4" stroke="#66efd0" stroke-width="0.9" fill="none"/>
<polyline points="1648.96,332.4 1684.27,333.22 1719.57,333.84 1754.88,335.48 1790.18,337.54 1825.49,338.57 1860.79,340.62 1896.1,345.76 1931.4,356.04 1966.71,388.94 1984.32,440.34" fill="none" stroke="#8ef58e" stroke-width="1.5" stroke-linejoin="round"/><path d="M1648.96 330.8 v3.2 M1646.76 330.8 h4.4 M1646.76 334 h4.4 M1684.27 331.62 v3.2 M1682.07 331.62 h4.4 M1682.07 334.82 h4.4 M1719.57 332.24 v3.2 M1717.37 332.24 h4.4 M1717.37 335.44 h4.4 M1754.88 333.88 v3.2 M1752.68 333.88 h4.4 M1752.68 337.08 h4.4 M1790.18 335.94 v3.2 M1787.98 335.94 h4.4 M1787.98 339.14 h4.4 M1825.49 336.97 v3.2 M1823.29 336.97 h4.4 M1823.29 340.17 h4.4 M1860.79 339.02 v3.2 M1858.59 339.02 h4.4 M1858.59 342.22 h4.4 M1896.1 344.16 v3.2 M1893.9 344.16 h4.4 M1893.9 347.36 h4.4 M1931.4 354.44 v3.2 M1929.2 354.44 h4.4 M1929.2 357.64 h4.4 M1966.71 387.34 v3.2 M1964.51 387.34 h4.4 M1964.51 390.54 h4.4 M1984.32 438.74 v3.2 M1982.12 438.74 h4.4 M1982.12 441.94 h4.4" stroke="#8ef58e" stroke-width="0.9" fill="none"/>
<polyline points="1648.96,332.4 1684.27,332.81 1719.57,333.43 1754.88,334.46 1790.18,335.48 1825.49,336.51 1860.79,337.54 1896.1,340.62 1931.4,347.82 1966.71,371.46 1984.32,417.72" fill="none" stroke="#ccf54d" stroke-width="1.5" stroke-linejoin="round"/><path d="M1648.96 330.8 v3.2 M1646.76 330.8 h4.4 M1646.76 334 h4.4 M1684.27 331.21 v3.2 M1682.07 331.21 h4.4 M1682.07 334.41 h4.4 M1719.57 331.83 v3.2 M1717.37 331.83 h4.4 M1717.37 335.03 h4.4 M1754.88 332.86 v3.2 M1752.68 332.86 h4.4 M1752.68 336.06 h4.4 M1790.18 333.88 v3.2 M1787.98 333.88 h4.4 M1787.98 337.08 h4.4 M1825.49 334.91 v3.2 M1823.29 334.91 h4.4 M1823.29 338.11 h4.4 M1860.79 335.94 v3.2 M1858.59 335.94 h4.4 M1858.59 339.14 h4.4 M1896.1 339.02 v3.2 M1893.9 339.02 h4.4 M1893.9 342.22 h4.4 M1931.4 346.22 v3.2 M1929.2 346.22 h4.4 M1929.2 349.42 h4.4 M1966.71 369.86 v3.2 M1964.51 369.86 h4.4 M1964.51 373.06 h4.4 M1984.32 416.12 v3.2 M1982.12 416.12 h4.4 M1982.12 419.32 h4.4" stroke="#ccf54d" stroke-width="0.9" fill="none"/>
<polyline points="1648.96,332.4 1684.27,332.4 1719.57,332.4 1754.88,332.81 1790.18,333.43 1825.49,334.04 1860.79,335.48 1896.1,337.54 1931.4,342.68 1966.71,362.21 1984.32,404.36" fill="none" stroke="#f5c242" stroke-width="1.5" stroke-linejoin="round"/><path d="M1648.96 330.8 v3.2 M1646.76 330.8 h4.4 M1646.76 334 h4.4 M1684.27 330.8 v3.2 M1682.07 330.8 h4.4 M1682.07 334 h4.4 M1719.57 330.8 v3.2 M1717.37 330.8 h4.4 M1717.37 334 h4.4 M1754.88 331.21 v3.2 M1752.68 331.21 h4.4 M1752.68 334.41 h4.4 M1790.18 331.83 v3.2 M1787.98 331.83 h4.4 M1787.98 335.03 h4.4 M1825.49 332.44 v3.2 M1823.29 332.44 h4.4 M1823.29 335.64 h4.4 M1860.79 333.88 v3.2 M1858.59 333.88 h4.4 M1858.59 337.08 h4.4 M1896.1 335.94 v3.2 M1893.9 335.94 h4.4 M1893.9 339.14 h4.4 M1931.4 341.08 v3.2 M1929.2 341.08 h4.4 M1929.2 344.28 h4.4 M1966.71 360.61 v3.2 M1964.51 360.61 h4.4 M1964.51 363.81 h4.4 M1984.32 402.76 v3.2 M1982.12 402.76 h4.4 M1982.12 405.96 h4.4" stroke="#f5c242" stroke-width="0.9" fill="none"/>
<polyline points="1648.96,332.4 1684.27,332.4 1719.57,332.4 1754.88,332.4 1790.18,333.43 1825.49,334.46 1860.79,336.1 1896.1,338.57 1931.4,342.68 1966.71,365.3 1984.32,430.06" fill="none" stroke="#f07830" stroke-width="1.5" stroke-linejoin="round"/><path d="M1648.96 330.8 v3.2 M1646.76 330.8 h4.4 M1646.76 334 h4.4 M1684.27 330.8 v3.2 M1682.07 330.8 h4.4 M1682.07 334 h4.4 M1719.57 330.8 v3.2 M1717.37 330.8 h4.4 M1717.37 334 h4.4 M1754.88 330.8 v3.2 M1752.68 330.8 h4.4 M1752.68 334 h4.4 M1790.18 331.83 v3.2 M1787.98 331.83 h4.4 M1787.98 335.03 h4.4 M1825.49 332.86 v3.2 M1823.29 332.86 h4.4 M1823.29 336.06 h4.4 M1860.79 334.5 v3.2 M1858.59 334.5 h4.4 M1858.59 337.7 h4.4 M1896.1 336.97 v3.2 M1893.9 336.97 h4.4 M1893.9 340.17 h4.4 M1931.4 341.08 v3.2 M1929.2 341.08 h4.4 M1929.2 344.28 h4.4 M1966.71 363.7 v3.2 M1964.51 363.7 h4.4 M1964.51 366.9 h4.4 M1984.32 428.46 v3.2 M1982.12 428.46 h4.4 M1982.12 431.66 h4.4" stroke="#f07830" stroke-width="0.9" fill="none"/>
<polyline points="1648.96,332.4 1684.27,332.81 1719.57,333.43 1754.88,333.84 1790.18,335.48 1825.49,337.54 1860.79,341.65 1896.1,351.93 1931.4,378.66 1966.71,465.01 1984.32,517.44" fill="none" stroke="#d8342a" stroke-width="1.5" stroke-linejoin="round"/><path d="M1648.96 330.8 v3.2 M1646.76 330.8 h4.4 M1646.76 334 h4.4 M1684.27 331.21 v3.2 M1682.07 331.21 h4.4 M1682.07 334.41 h4.4 M1719.57 331.83 v3.2 M1717.37 331.83 h4.4 M1717.37 335.03 h4.4 M1754.88 332.24 v3.2 M1752.68 332.24 h4.4 M1752.68 335.44 h4.4 M1790.18 333.88 v3.2 M1787.98 333.88 h4.4 M1787.98 337.08 h4.4 M1825.49 335.94 v3.2 M1823.29 335.94 h4.4 M1823.29 339.14 h4.4 M1860.79 340.05 v3.2 M1858.59 340.05 h4.4 M1858.59 343.25 h4.4 M1896.1 350.33 v3.2 M1893.9 350.33 h4.4 M1893.9 353.53 h4.4 M1931.4 377.06 v3.2 M1929.2 377.06 h4.4 M1929.2 380.26 h4.4 M1966.71 463.41 v3.2 M1964.51 463.41 h4.4 M1964.51 466.61 h4.4 M1984.32 515.84 v3.2 M1982.12 515.84 h4.4 M1982.12 519.04 h4.4" stroke="#d8342a" stroke-width="0.9" fill="none"/>
<ellipse cx="1754.2" cy="343.6" rx="9" ry="21.8" fill="none" stroke="#555" stroke-width="1.5"/>
<ellipse cx="1860.8" cy="365" rx="9" ry="51.8" fill="none" stroke="#555" stroke-width="1.5"/>
<ellipse cx="1966.4" cy="429.4" rx="8.6" ry="85.4" fill="none" stroke="#555" stroke-width="1.5"/>
<path d="M2023.4 326.3 C2033 330.49 2039.88 338.86 2039.88 351.43 C2039.88 378.65 2017 425.76 2055.4 431 C2017 435.88 2036.84 479.8 2036.84 505.18 C2036.84 516.89 2031.4 524.7 2023.4 528.6" fill="none" stroke="#444" stroke-width="1"/>
<g transform="translate(1170 700) scale(0.15263)"><g filter="url(#brtex)"><path d="M90 310 C110 230 160 170 230 135 C330 85 450 75 520 90 C600 105 640 170 655 230 C700 270 745 320 748 370 C750 420 720 455 690 465 C620 480 520 480 450 500 C400 515 360 535 300 535 C250 535 225 510 240 470 C250 440 290 425 280 415 C230 400 100 380 90 310Z" fill="url(#brg)"/><path d="M1405 300 C1390 230 1340 170 1270 135 C1170 88 1060 80 985 92 C910 105 880 165 868 225 C820 270 775 320 775 365 C773 420 800 455 830 470 C900 490 990 495 1060 515 C1110 530 1160 550 1210 550 C1255 548 1270 515 1250 480 C1238 455 1205 440 1215 430 C1270 415 1415 380 1405 300Z" fill="url(#brg2)"/></g><g filter="url(#infn)"><path d="M620 250 C650 255 690 280 700 320 C720 360 715 420 700 455 C640 470 560 475 480 485 C465 470 470 440 485 420 C470 400 480 370 510 360 C520 330 560 310 590 300 C600 280 605 260 620 250Z" fill="url(#pgl)"/><path d="M880 260 C910 280 950 300 990 320 C1030 340 1050 380 1060 420 C1075 450 1070 480 1050 500 C990 490 900 475 830 465 C800 440 795 400 800 360 C805 320 830 270 880 260Z" fill="url(#pgr)"/></g><rect x="455" y="222" width="640" height="316" rx="95" fill="none" stroke="#333" stroke-width="5" stroke-dasharray="7 7"/></g>
<g transform="translate(1196.3 853.6) scale(0.13970 0.14213) translate(-575 -383)"><g fill="#000" fill-opacity="0.035" stroke="#000" stroke-opacity="0.06" stroke-width="3.15"><path d="M697 320 L835 383 L697 410Z M665 368 L835 383 L665 460Z"/><path d="M870 335 L1010 383 L870 395Z M850 358 L1010 383 L850 408Z"/><path d="M1060 340 L1200 383 L1060 385Z M1045 360 L1200 383 L1045 405Z"/><path d="M1285 350 L1390 383 L1285 382Z"/><path d="M1470 350 L1585 383 L1470 400Z"/></g><path d="M575 318 L718 120 L740 120 L597 318Z" fill="#e2e2e2" stroke="#8c8c8c" stroke-width="3.9370816599732263" stroke-linejoin="round"/><path d="M597 318 L740 120 L740 447 L597 645Z" fill="#c3c3c3" stroke="#8c8c8c" stroke-width="3.9370816599732263" stroke-linejoin="round"/><rect x="575" y="318" width="22" height="327" fill="#ececec" stroke="#8c8c8c" stroke-width="3.9370816599732263" stroke-linejoin="round"/><path d="M642 368 L674 320 L697 320 L665 368Z" fill="#bdbdbd" stroke="#7a7a7a" stroke-width="3.9370816599732263" stroke-linejoin="round"/><path d="M665 368 L697 320 L697 412 L665 460Z" fill="#9c9c9c" stroke="#7a7a7a" stroke-width="3.9370816599732263" stroke-linejoin="round"/><rect x="642" y="368" width="23" height="92" fill="#a9a9a9" stroke="#7a7a7a" stroke-width="3.9370816599732263" stroke-linejoin="round"/><path d="M762 305 L858 175 L898 175 L802 305Z" fill="#e4e4e4" stroke="#8c8c8c" stroke-width="3.9370816599732263" stroke-linejoin="round"/><path d="M802 305 L898 175 L898 432 L802 562Z" fill="#c9c9c9" stroke="#8c8c8c" stroke-width="3.9370816599732263" stroke-linejoin="round"/><rect x="762" y="305" width="40" height="257" fill="#ececec" stroke="#8c8c8c" stroke-width="3.9370816599732263" stroke-linejoin="round"/><path d="M820 358 L840 335 L870 335 L850 358Z" fill="#c4c4c4" stroke="#7a7a7a" stroke-width="3.9370816599732263" stroke-linejoin="round"/><path d="M850 358 L870 335 L870 385 L850 408Z" fill="#a4a4a4" stroke="#7a7a7a" stroke-width="3.9370816599732263" stroke-linejoin="round"/><rect x="820" y="358" width="30" height="50" fill="#b0b0b0" stroke="#7a7a7a" stroke-width="3.9370816599732263" stroke-linejoin="round"/><path d="M948 312 L1005 230 L1087 230 L1030 312Z" fill="#f0f0f0" stroke="#8c8c8c" stroke-width="3.9370816599732263" stroke-linejoin="round"/><path d="M1030 312 L1087 230 L1087 400 L1030 482Z" fill="#d2d2d2" stroke="#8c8c8c" stroke-width="3.9370816599732263" stroke-linejoin="round"/><rect x="948" y="312" width="82" height="170" fill="#ebebeb" stroke="#8c8c8c" stroke-width="3.9370816599732263" stroke-linejoin="round"/><path d="M968 360 L983 340 L1060 340 L1045 360Z" fill="#cdcdcd" stroke="#7a7a7a" stroke-width="3.9370816599732263" stroke-linejoin="round"/><path d="M1045 360 L1060 340 L1060 385 L1045 405Z" fill="#adadad" stroke="#7a7a7a" stroke-width="3.9370816599732263" stroke-linejoin="round"/><rect x="968" y="360" width="77" height="45" fill="#bababa" stroke="#7a7a7a" stroke-width="3.9370816599732263" stroke-linejoin="round"/><path d="M1137 352 L1175 297 L1300 297 L1262 352Z" fill="#f1f1f1" stroke="#8c8c8c" stroke-width="3.9370816599732263" stroke-linejoin="round"/><path d="M1262 352 L1300 297 L1300 370 L1262 425Z" fill="#d6d6d6" stroke="#8c8c8c" stroke-width="3.9370816599732263" stroke-linejoin="round"/><rect x="1137" y="352" width="125" height="73" fill="#ededed" stroke="#8c8c8c" stroke-width="3.9370816599732263" stroke-linejoin="round"/><path d="M1155 368 L1175 350 L1285 350 L1265 368Z" fill="#cfcfcf" stroke="#7a7a7a" stroke-width="3.9370816599732263" stroke-linejoin="round"/><path d="M1265 368 L1285 350 L1285 382 L1265 400Z" fill="#b0b0b0" stroke="#7a7a7a" stroke-width="3.9370816599732263" stroke-linejoin="round"/><rect x="1155" y="368" width="110" height="32" fill="#bdbdbd" stroke="#7a7a7a" stroke-width="3.9370816599732263" stroke-linejoin="round"/><path d="M1325 352 L1363 297 L1488 297 L1450 352Z" fill="#f1f1f1" stroke="#8c8c8c" stroke-width="3.9370816599732263" stroke-linejoin="round"/><path d="M1450 352 L1488 297 L1488 370 L1450 425Z" fill="#d6d6d6" stroke="#8c8c8c" stroke-width="3.9370816599732263" stroke-linejoin="round"/><rect x="1325" y="352" width="125" height="73" fill="#ededed" stroke="#8c8c8c" stroke-width="3.9370816599732263" stroke-linejoin="round"/><path d="M1343 368 L1363 350 L1473 350 L1453 368Z" fill="#cfcfcf" stroke="#7a7a7a" stroke-width="3.9370816599732263" stroke-linejoin="round"/><path d="M1453 368 L1473 350 L1473 382 L1453 400Z" fill="#b0b0b0" stroke="#7a7a7a" stroke-width="3.9370816599732263" stroke-linejoin="round"/><rect x="1343" y="368" width="110" height="32" fill="#bdbdbd" stroke="#7a7a7a" stroke-width="3.9370816599732263" stroke-linejoin="round"/><path d="M1550 352 L1592 297 L1657 297 L1615 352Z" fill="#f1f1f1" stroke="#8c8c8c" stroke-width="3.9370816599732263" stroke-linejoin="round"/><path d="M1615 352 L1657 297 L1657 377 L1615 432Z" fill="#d4d4d4" stroke="#8c8c8c" stroke-width="3.9370816599732263" stroke-linejoin="round"/><rect x="1550" y="352" width="65" height="80" fill="#ededed" stroke="#8c8c8c" stroke-width="3.9370816599732263" stroke-linejoin="round"/></g>
<line x1="1347" y1="853.4" x2="1377.6" y2="853.4" stroke="#777" stroke-width="0.7"/>
<rect x="1356.2" y="816.3" width="5.3" height="74.2" fill="#ebebeb" stroke="#8c8c8c" stroke-width="0.55"/>
<rect x="1368" y="816.3" width="5" height="74.2" fill="#ebebeb" stroke="#8c8c8c" stroke-width="0.55"/>
<rect x="1351.3" y="804.1" width="13.8" height="95.5" rx="6.9" fill="none" stroke="#222" stroke-width="0.8" stroke-dasharray="1 1.1"/>
<rect x="1433.8" y="725.7" width="102.7" height="57.6" fill="#fff" stroke="#d0d0d0" stroke-width="0.6"/>
<rect x="1435.2" y="727.1" width="99.9" height="54.8" filter="url(#jn2)"/>
<rect x="1434.6" y="831.7" width="102.7" height="58.7" fill="#fff" stroke="#d0d0d0" stroke-width="0.6"/>
<rect x="1436" y="833.1" width="99.9" height="55.9" filter="url(#jn3)"/>
<line x1="1560.7" y1="752.8" x2="1573.2" y2="752.8" stroke="#000" stroke-width="1.6" stroke-dasharray="2 2"/>
<path d="M1581.5 752.8 L1573.2 756.6 L1573.2 749Z" fill="#000"/>
<line x1="1560.7" y1="864.8" x2="1573.2" y2="864.8" stroke="#000" stroke-width="1.6" stroke-dasharray="2 2"/>
<path d="M1581.5 864.8 L1573.2 868.6 L1573.2 861Z" fill="#000"/>
<rect x="1600.7" y="716.7" width="79.1" height="76.7" fill="#fff" stroke="#d0d0d0" stroke-width="0.6"/>
<g filter="url(#rdmf)"><rect x="1602.3" y="718.3" width="75.9" height="73.5" fill="#5c5c5c"/><rect x="1602.3" y="718.3" width="35.45" height="34.03" fill="#999999"/><rect x="1637.75" y="752.33" width="40.45" height="39.47" fill="#9c9c9c"/><rect x="1602.3" y="752.33" width="35.45" height="39.47" fill="#616161"/><rect x="1637.75" y="751.33" width="40.45" height="4.5" fill="#adadad"/><rect x="1636.75" y="752.33" width="4.5" height="39.47" fill="#a8a8a8"/><rect x="1637.75" y="751.33" width="5" height="5" fill="#ebebeb"/><line x1="1602.3" y1="718.3" x2="1678.2" y2="791.8" stroke="#b8b8b8" stroke-width="0.7"/></g>
<rect x="1600.7" y="825.6" width="79.1" height="77.4" fill="#fff" stroke="#d0d0d0" stroke-width="0.6"/>
<g filter="url(#rdmf2)"><rect x="1602.3" y="827.2" width="75.9" height="74.2" fill="#5c5c5c"/><rect x="1602.3" y="827.2" width="35.45" height="34.35" fill="#999999"/><rect x="1637.75" y="861.55" width="40.45" height="39.85" fill="#9c9c9c"/><rect x="1602.3" y="861.55" width="35.45" height="39.85" fill="#616161"/><rect x="1637.75" y="860.55" width="40.45" height="4.5" fill="#adadad"/><rect x="1636.75" y="861.55" width="4.5" height="39.85" fill="#a8a8a8"/><rect x="1637.75" y="860.55" width="5" height="5" fill="#ebebeb"/><line x1="1602.3" y1="827.2" x2="1678.2" y2="901.4" stroke="#b8b8b8" stroke-width="0.7"/></g>
<path d="M1708.5 769 Q1722 813 1708.5 857" fill="none" stroke="#000" stroke-width="1.6" stroke-dasharray="1.8 2"/>
<path d="M1704.6 760.6 L1713.4 767.4 L1706.2 770.6Z M1704.6 865.6 L1713.4 858.8 L1706.2 855.6Z" fill="#000" stroke="#000" stroke-width="0.8" stroke-linejoin="round"/>
<rect x="1777.45" y="710.36" width="189.95" height="188.91" fill="#fff" stroke="#666" stroke-width="0.8"/>
<path d="M1786.34 748.29 H1959.03 M1786.34 823.39 H1959.03 M1786.34 899.26 H1959.03" stroke="#cfcfcf" stroke-width="0.6"/>
<path d="M1794.71 765.82 C1795.31 771.44 1800.11 774.06 1800.11 781.54 C1800.11 789.02 1795.51 795.76 1794.71 803.24 C1793.91 795.76 1789.31 789.02 1789.31 781.54 C1789.31 774.06 1794.11 771.44 1794.71 765.82Z" fill="#0b0b78" stroke="#00000055" stroke-width="0.3"/>
<path d="M1794.71 774.41 h0.01 M1794.71 777.95 h0.01 M1794.71 782.13 h0.01 M1794.71 785.51 h0.01 M1794.71 789.12 h0.01 M1794.71 793.36 h0.01" stroke="#111" stroke-width="1.1" stroke-linecap="round"/>
<path d="M1811.98 761.9 C1812.58 767.71 1817.38 770.42 1817.38 778.16 C1817.38 785.91 1812.78 792.88 1811.98 800.62 C1811.18 792.88 1806.58 785.91 1806.58 778.16 C1806.58 770.42 1811.38 767.71 1811.98 761.9Z" fill="#1212e0" stroke="#00000055" stroke-width="0.3"/>
<path d="M1811.98 771.84 h0.01 M1811.98 775.53 h0.01 M1811.98 779.35 h0.01 M1811.98 782.38 h0.01 M1811.98 786.74 h0.01 M1811.98 790.21 h0.01" stroke="#111" stroke-width="1.1" stroke-linecap="round"/>
<path d="M1829.25 756.14 C1829.85 762.42 1834.65 765.35 1834.65 773.73 C1834.65 782.1 1830.05 789.63 1829.25 798.01 C1828.45 789.63 1823.85 782.1 1823.85 773.73 C1823.85 765.35 1828.65 762.42 1829.25 756.14Z" fill="#2255f0" stroke="#00000055" stroke-width="0.3"/>
<path d="M1829.25 765.64 h0.01 M1829.25 769.72 h0.01 M1829.25 774.08 h0.01 M1829.25 779.47 h0.01 M1829.25 783.49 h0.01 M1829.25 787.64 h0.01" stroke="#111" stroke-width="1.1" stroke-linecap="round"/>
<path d="M1846.52 747.77 C1847.12 754.52 1851.92 757.67 1851.92 766.67 C1851.92 775.67 1847.32 783.77 1846.52 792.77 C1845.72 783.77 1841.12 775.67 1841.12 766.67 C1841.12 757.67 1845.92 754.52 1846.52 747.77Z" fill="#4aa8f5" stroke="#00000055" stroke-width="0.3"/>
<path d="M1846.52 759.11 h0.01 M1846.52 762.52 h0.01 M1846.52 767.23 h0.01 M1846.52 772.3 h0.01 M1846.52 776.99 h0.01 M1846.52 781.71 h0.01" stroke="#111" stroke-width="1.1" stroke-linecap="round"/>
<path d="M1863.79 739.92 C1864.39 747.06 1869.19 750.4 1869.19 759.92 C1869.19 769.45 1864.59 778.02 1863.79 787.54 C1862.99 778.02 1858.39 769.45 1858.39 759.92 C1858.39 750.4 1863.19 747.06 1863.79 739.92Z" fill="#66efd0" stroke="#00000055" stroke-width="0.3"/>
<path d="M1863.79 752.07 h0.01 M1863.79 755.32 h0.01 M1863.79 761.08 h0.01 M1863.79 765.96 h0.01 M1863.79 770.41 h0.01 M1863.79 774.55 h0.01" stroke="#111" stroke-width="1.1" stroke-linecap="round"/>
<path d="M1881.06 739.66 C1881.66 746.84 1886.46 750.19 1886.46 759.77 C1886.46 769.35 1881.86 777.96 1881.06 787.54 C1880.26 777.96 1875.66 769.35 1875.66 759.77 C1875.66 750.19 1880.46 746.84 1881.06 739.66Z" fill="#8ef58e" stroke="#00000055" stroke-width="0.3"/>
<path d="M1881.06 751.1 h0.01 M1881.06 755.15 h0.01 M1881.06 761.56 h0.01 M1881.06 766.22 h0.01 M1881.06 770.39 h0.01 M1881.06 774.71 h0.01" stroke="#111" stroke-width="1.1" stroke-linecap="round"/>
<path d="M1898.33 737.83 C1898.93 745.01 1903.73 748.36 1903.73 757.94 C1903.73 767.51 1899.13 776.13 1898.33 785.71 C1897.53 776.13 1892.93 767.51 1892.93 757.94 C1892.93 748.36 1897.73 745.01 1898.33 737.83Z" fill="#ccf54d" stroke="#00000055" stroke-width="0.3"/>
<path d="M1898.33 750.1 h0.01 M1898.33 754.25 h0.01 M1898.33 759.63 h0.01 M1898.33 764.35 h0.01 M1898.33 768.49 h0.01 M1898.33 773.1 h0.01" stroke="#111" stroke-width="1.1" stroke-linecap="round"/>
<path d="M1915.59 734.43 C1916.19 741.73 1920.99 745.13 1920.99 754.87 C1920.99 764.6 1916.39 773.36 1915.59 783.09 C1914.79 773.36 1910.19 764.6 1910.19 754.87 C1910.19 745.13 1914.99 741.73 1915.59 734.43Z" fill="#f5c242" stroke="#00000055" stroke-width="0.3"/>
<path d="M1915.59 746.3 h0.01 M1915.59 750.84 h0.01 M1915.59 755.18 h0.01 M1915.59 760.33 h0.01 M1915.59 766.18 h0.01 M1915.59 769.55 h0.01" stroke="#111" stroke-width="1.1" stroke-linecap="round"/>
<path d="M1932.86 738.61 C1933.46 745.83 1938.26 749.2 1938.26 758.83 C1938.26 768.46 1933.66 777.13 1932.86 786.76 C1932.06 777.13 1927.46 768.46 1927.46 758.83 C1927.46 749.2 1932.26 745.83 1932.86 738.61Z" fill="#f07830" stroke="#00000055" stroke-width="0.3"/>
<path d="M1932.86 749.29 h0.01 M1932.86 755.22 h0.01 M1932.86 759.37 h0.01 M1932.86 764.68 h0.01 M1932.86 769.37 h0.01 M1932.86 773.94 h0.01" stroke="#111" stroke-width="1.1" stroke-linecap="round"/>
<path d="M1950.13 743.85 C1950.73 751.19 1955.53 754.61 1955.53 764.4 C1955.53 774.18 1950.93 782.99 1950.13 792.77 C1949.33 782.99 1944.73 774.18 1944.73 764.4 C1944.73 754.61 1949.53 751.19 1950.13 743.85Z" fill="#d8342a" stroke="#00000055" stroke-width="0.3"/>
<path d="M1950.13 756.56 h0.01 M1950.13 759.89 h0.01 M1950.13 765.2 h0.01 M1950.13 769.68 h0.01 M1950.13 775.42 h0.01 M1950.13 779.61 h0.01" stroke="#111" stroke-width="1.1" stroke-linecap="round"/>
<path d="M1777.45 710.36 h-2.2 M1777.45 748.29 h-2.2 M1777.45 785.71 h-2.2 M1777.45 823.39 h-2.2 M1777.45 861.32 h-2.2 M1777.45 899.26 h-2.2 M1794.71 899.26 v2.2 M1811.98 899.26 v2.2 M1829.25 899.26 v2.2 M1846.52 899.26 v2.2 M1863.79 899.26 v2.2 M1881.06 899.26 v2.2 M1898.33 899.26 v2.2 M1915.59 899.26 v2.2 M1932.86 899.26 v2.2 M1950.13 899.26 v2.2" stroke="#444" stroke-width="0.6" fill="none"/>
<path d="M2023.1 702.5 C2032.52 706.69 2039.27 715.06 2039.27 727.63 C2039.27 754.85 2016.82 801.97 2054.5 807.2 C2016.82 812.11 2036.29 856.25 2036.29 881.76 C2036.29 893.53 2030.95 901.38 2023.1 905.3" fill="none" stroke="#444" stroke-width="1"/>
<rect x="1183.2" y="997.9" width="87.9" height="87.3" fill="#fff" stroke="#d0d0d0" stroke-width="0.6"/>
<g filter="url(#hot1)"><rect x="1186.4" y="1001.1" width="81.5" height="80.9" fill="#2b2b2b"/><rect x="1186.4" y="1001.1" width="29.1" height="29.12" fill="#383838"/><rect x="1215.5" y="1030.22" width="52.4" height="51.78" fill="#6b6b6b"/><rect x="1215.5" y="1030.22" width="17.93" height="16.18" fill="#808080"/><line x1="1186.4" y1="1001.1" x2="1215.5" y2="1030.22" stroke="#6b6b6b" stroke-width="1"/><line x1="1215.5" y1="1030.22" x2="1267.9" y2="1082" stroke="#adadad" stroke-width="1.2"/><circle cx="1218" cy="1033.22" r="2.2" fill="#cccccc"/></g>
<rect x="1323.1" y="997.3" width="89.3" height="88.5" fill="#fff" stroke="#d0d0d0" stroke-width="0.6"/>
<g filter="url(#hot2)"><rect x="1326.9" y="1001.1" width="81.7" height="80.9" fill="#5c5c5c"/><rect x="1326.9" y="1033.46" width="81.7" height="5.66" fill="#333333"/><rect x="1326.9" y="1049.64" width="81.7" height="4.85" fill="#2e2e2e"/><rect x="1326.9" y="1064.2" width="81.7" height="3.24" fill="#424242"/><rect x="1359.58" y="1001.1" width="4.9" height="80.9" fill="#333333"/><rect x="1377.55" y="1001.1" width="4.08" height="80.9" fill="#2e2e2e"/><rect x="1404.51" y="1001.1" width="4.08" height="80.9" fill="#333333"/><rect x="1326.9" y="1001.1" width="13.07" height="11.33" fill="#8c8c8c"/><line x1="1326.9" y1="1001.1" x2="1408.6" y2="1082" stroke="#cccccc" stroke-width="1.4"/></g>
<rect x="1470.8" y="1000" width="84.2" height="84" fill="#fff" stroke="#777" stroke-width="0.8"/>
<g filter="url(#hot3)"><rect x="1472" y="1001.1" width="81.7" height="81.5" fill="#0f0f0f"/><rect x="1472" y="1030.85" width="29.41" height="51.75" fill="#1c1c1c"/><rect x="1501.41" y="1014.14" width="52.29" height="5.7" fill="#242424"/><rect x="1501.41" y="1030.85" width="52.29" height="51.75" fill="#545454"/><rect x="1501.41" y="1030.85" width="24.51" height="13.04" fill="#666666"/><rect x="1489.97" y="1001.1" width="11.44" height="81.5" fill="#0a0a0a"/></g>
<rect x="1287.1" y="1040.9" width="21.4" height="3.6" fill="#000"/>
<rect x="1434.2" y="1037.4" width="21.8" height="3.1" fill="#000"/><rect x="1434.2" y="1045.8" width="21.8" height="3.2" fill="#000"/>
<path d="M1226.2 1086.1 V1109.4" stroke="#000" stroke-width="1.3" fill="none"/><path d="M1226.2 1116.4 l-4.3 -8.2 h8.6Z" fill="#000"/>
<path d="M1373.1 1086.1 V1109.4" stroke="#000" stroke-width="1.3" fill="none"/><path d="M1373.1 1116.4 l-4.3 -8.2 h8.6Z" fill="#000"/>
<path d="M1521 1086.1 V1109.4" stroke="#000" stroke-width="1.3" fill="none"/><path d="M1521 1116.4 l-4.3 -8.2 h8.6Z" fill="#000"/>
<rect x="1666.57" y="1007.49" width="110.14" height="121.63" fill="#fff" stroke="#bbb" stroke-width="0.8"/>
<polyline points="1666.57,1044.68 1672.62,1045.98 1681.69,1056.81 1690.77,1064.92 1699.85,1073.44 1708.93,1082.56 1721.03,1085.85 1733.13,1095.29 1745.23,1101.85 1754.31,1107.55 1761.88,1113.59 1767.93,1118.49 1771.86,1122.47" fill="none" stroke="#7f7f7f" stroke-width="0.9" stroke-linejoin="round"/>
<polyline points="1666.57,1039.81 1672.62,1040.75 1681.69,1044.39 1690.77,1053.17 1699.85,1062.23 1708.93,1071.83 1721.03,1082.25 1733.13,1090.85 1745.23,1097.58 1754.31,1103.89 1761.88,1109.58 1767.93,1114.73 1771.86,1118.84" fill="none" stroke="#e377c2" stroke-width="0.9" stroke-linejoin="round"/>
<polyline points="1666.57,1038.03 1672.62,1037.7 1681.69,1043.13 1690.77,1051.69 1699.85,1060.6 1708.93,1071.63 1721.03,1081.69 1733.13,1091.37 1745.23,1098.72 1754.31,1105.19 1761.88,1111.25 1767.93,1116.56 1771.86,1120.95" fill="none" stroke="#8c564b" stroke-width="0.9" stroke-linejoin="round"/>
<polyline points="1666.57,1041.9 1672.62,1044.19 1681.69,1047.58 1690.77,1055.63 1699.85,1063.62 1708.93,1073.92 1721.03,1083.74 1733.13,1092.27 1745.23,1099.61 1754.31,1105.29 1761.88,1111.1 1767.93,1116.1 1771.86,1120.05" fill="none" stroke="#d62728" stroke-width="0.9" stroke-linejoin="round"/>
<polyline points="1666.57,1041.63 1672.62,1042.44 1681.69,1046.32 1690.77,1053.17 1699.85,1063.05 1708.93,1073.24 1721.03,1083.2 1733.13,1091.46 1745.23,1098.79 1754.31,1104.23 1761.88,1110.32 1767.93,1115.41 1771.86,1119.44" fill="none" stroke="#2ca02c" stroke-width="0.9" stroke-linejoin="round"/>
<polyline points="1666.57,1037.6 1672.62,1040.02 1681.69,1044.91 1690.77,1051.07 1699.85,1061.08 1708.93,1070.71 1721.03,1080.65 1733.13,1089.64 1745.23,1097.38 1754.31,1103.24 1761.88,1108.68 1767.93,1114.16 1771.86,1118.23" fill="none" stroke="#1f77b4" stroke-width="0.9" stroke-linejoin="round"/>
<polyline points="1666.57,1031.62 1672.62,1031.35 1681.69,1036.03 1690.77,1044.67 1699.85,1053.28 1708.93,1065.03 1721.03,1075.15 1733.13,1085.95 1745.23,1094.35 1754.31,1100.31 1761.88,1106.79 1767.93,1112.58 1771.86,1117.02" fill="none" stroke="#ff7f0e" stroke-width="0.9" stroke-linejoin="round"/>
<polyline points="1666.57,1032.07 1672.62,1029.48 1681.69,1036.15 1690.77,1043.36 1699.85,1053.65 1708.93,1067.24 1721.03,1077.27 1733.13,1086.59 1745.23,1094.33 1754.31,1100.54 1761.88,1106.63 1767.93,1112.13 1771.86,1116.41" fill="none" stroke="#9467bd" stroke-width="0.9" stroke-linejoin="round"/>
<path d="M1818.46 1027.16 V1133.96 H1898.03" fill="none" stroke="#555" stroke-width="0.7"/>
<path d="M1907.11 1025.64 V1133.96 H2002.42" fill="none" stroke="#bbb" stroke-width="0.9"/>
<rect x="1824.51" y="1074.96" width="6.96" height="58.7" fill="#a9a9a9"/>
<rect x="1833.28" y="1072.54" width="6.96" height="61.12" fill="#a9a9a9"/>
<rect x="1842.06" y="1077.99" width="6.96" height="55.67" fill="#a9a9a9"/>
<rect x="1850.83" y="1074.96" width="6.96" height="58.7" fill="#a9a9a9"/>
<rect x="1859.61" y="1066.49" width="6.96" height="67.17" fill="#a9a9a9"/>
<rect x="1868.38" y="1077.69" width="6.96" height="55.98" fill="#a9a9a9"/>
<rect x="1877.16" y="1077.08" width="6.96" height="56.58" fill="#a9a9a9"/>
<rect x="1885.93" y="1083.13" width="6.96" height="50.53" fill="#a9a9a9"/>
<rect x="1914.98" y="1085.55" width="6.66" height="48.11" fill="#0b0b78"/>
<rect x="1923.75" y="1086.76" width="6.66" height="46.9" fill="#1212e0"/>
<rect x="1932.22" y="1086.46" width="6.66" height="47.2" fill="#2255f0"/>
<rect x="1940.7" y="1086.16" width="6.66" height="47.5" fill="#4aa8f5"/>
<rect x="1949.17" y="1085.55" width="6.66" height="48.11" fill="#66efd0"/>
<rect x="1957.64" y="1083.74" width="6.66" height="49.92" fill="#8ef58e"/>
<rect x="1966.11" y="1079.5" width="6.66" height="54.16" fill="#ccf54d"/>
<rect x="1974.58" y="1072.24" width="6.66" height="61.42" fill="#f5c242"/>
<rect x="1983.36" y="1059.53" width="6.66" height="74.13" fill="#f07830"/>
<rect x="1991.83" y="1030.18" width="6.66" height="103.48" fill="#d8342a"/>
<line x1="1805.14" y1="1074.96" x2="1919.21" y2="1074.96" stroke="#d4a03c" stroke-width="2.2" stroke-dasharray="2.8 2.4"/>
<line x1="1870.8" y1="1039.86" x2="1888.35" y2="1074.66" stroke="#000" stroke-width="0.9" marker-end="url(#ah3)"/>
<line x1="1953.4" y1="1045.31" x2="1978.82" y2="1070.12" stroke="#000" stroke-width="0.9" marker-end="url(#ah3)"/>
<path d="M2023.6 976.6 C2032.96 980.8 2039.67 989.2 2039.67 1001.8 C2039.67 1029.1 2017.36 1076.35 2054.8 1081.6 C2017.36 1086.48 2036.7 1130.45 2036.7 1155.85 C2036.7 1167.58 2031.4 1175.39 2023.6 1179.3" fill="none" stroke="#444" stroke-width="1"/>
<path d="M1939.19 1241.33h6.91M1956.45 1241.33h6.91M1973.71 1241.33h0.01M1980.61 1241.33h0.01M1928.84 1244.78h17.27M1953 1244.78h0.01M1959.9 1244.78h3.46M1973.71 1244.78h0.01M1984.06 1244.78h0.01M1928.84 1248.23h3.46M1942.64 1248.23h0.01M1956.45 1248.23h0.01M1963.35 1248.23h3.46M1977.16 1248.23h0.01M1928.84 1251.68h3.46M1939.19 1251.68h0.01M1949.55 1251.68h0.01M1966.8 1251.68h6.91M1980.61 1251.68h3.46M1928.84 1255.13h3.46M1942.64 1255.13h0.01M1963.35 1255.13h0.01M1970.26 1255.13h0.01M1984.06 1255.13h0.01M1953 1258.58h0.01M1977.16 1258.58h0.01M1928.84 1262.03h24.17M1963.35 1262.03h0.01M1970.26 1262.03h13.82M1942.64 1265.49h0.01M1949.55 1265.49h3.46M1963.35 1265.49h0.01M1973.71 1265.49h10.36M1901.23 1268.94h3.46M1915.03 1268.94h0.01M1921.93 1268.94h0.01M1928.84 1268.94h3.46M1942.64 1268.94h0.01M1949.55 1268.94h0.01M1959.9 1268.94h6.91M1973.71 1268.94h0.01M1994.42 1268.94h0.01M2001.32 1268.94h0.01M2008.22 1268.94h3.46M1904.68 1272.39h3.46M1918.48 1272.39h6.91M1939.19 1272.39h0.01M1946.1 1272.39h0.01M1966.8 1272.39h3.46M1977.16 1272.39h3.46M1987.51 1272.39h0.01M1997.87 1272.39h3.46M2011.67 1272.39h0.01M1911.58 1275.84h3.46M1925.39 1275.84h3.46M1942.64 1275.84h0.01M1959.9 1275.84h0.01M1966.8 1275.84h0.01M1980.61 1275.84h3.46M1990.97 1275.84h0.01M1997.87 1275.84h3.46M2008.22 1275.84h3.46M1901.23 1279.29h6.91M1921.93 1279.29h6.91M1942.64 1279.29h3.46M1953 1279.29h0.01M1973.71 1279.29h0.01M1980.61 1279.29h0.01M1990.97 1279.29h6.91M2004.77 1279.29h0.01M1901.23 1282.74h0.01M1908.13 1282.74h3.46M1918.48 1282.74h0.01M1928.84 1282.74h0.01M1935.74 1282.74h0.01M1942.64 1282.74h3.46M1973.71 1282.74h0.01M1980.61 1282.74h6.91M1994.42 1282.74h6.91M1901.23 1286.2h0.01M1921.93 1286.2h13.82M1970.26 1286.2h13.82M1990.97 1286.2h17.27M1901.23 1289.65h0.01M1908.13 1289.65h0.01M1928.84 1289.65h0.01M1935.74 1289.65h0.01M1970.26 1289.65h10.36M1990.97 1289.65h3.46M2008.22 1289.65h0.01M1901.23 1293.1h3.46M1911.58 1293.1h3.46M1928.84 1293.1h6.91M1973.71 1293.1h6.91M1987.51 1293.1h0.01M1994.42 1293.1h0.01M2001.32 1293.1h6.91M1911.58 1296.55h3.46M1928.84 1296.55h0.01M1973.71 1296.55h17.27M1997.87 1296.55h3.46M2008.22 1296.55h3.46M1901.23 1300h13.82M1939.19 1300h0.01M1973.71 1300h6.91M1987.51 1300h3.46M2001.32 1300h10.36M1911.58 1303.45h13.82M1939.19 1303.45h0.01M1973.71 1303.45h6.91M2001.32 1303.45h0.01M2008.22 1303.45h3.46M1904.68 1306.9h0.01M1918.48 1306.9h10.36M1935.74 1306.9h0.01M1942.64 1306.9h0.01M1970.26 1306.9h0.01M1980.61 1306.9h6.91M1997.87 1306.9h0.01M2004.77 1306.9h0.01M1908.13 1310.36h3.46M1921.93 1310.36h17.27M1949.55 1310.36h0.01M1977.16 1310.36h0.01M1990.97 1310.36h10.36M1901.23 1313.81h0.01M1908.13 1313.81h0.01M1915.03 1313.81h0.01M1946.1 1313.81h0.01M1956.45 1313.81h0.01M1966.8 1313.81h10.36M1994.42 1313.81h3.46M2011.67 1313.81h0.01M1904.68 1317.26h6.91M1921.93 1317.26h0.01M1932.29 1317.26h3.46M1953 1317.26h3.46M1966.8 1317.26h3.46M1980.61 1317.26h6.91M1997.87 1317.26h3.46M1904.68 1320.71h0.01M1918.48 1320.71h0.01M1932.29 1320.71h0.01M1946.1 1320.71h13.82M1966.8 1320.71h0.01M2001.32 1320.71h10.36M1901.23 1324.16h3.46M1915.03 1324.16h3.46M1925.39 1324.16h3.46M1935.74 1324.16h0.01M1953 1324.16h0.01M1963.35 1324.16h3.46M1973.71 1324.16h0.01M1984.06 1324.16h3.46M2004.77 1324.16h3.46M1939.19 1327.61h0.01M1946.1 1327.61h3.46M1956.45 1327.61h0.01M1963.35 1327.61h13.82M1984.06 1327.61h3.46M1994.42 1327.61h0.01M2001.32 1327.61h3.46M1932.29 1331.07h3.46M1942.64 1331.07h0.01M1956.45 1331.07h0.01M1970.26 1331.07h0.01M1977.16 1331.07h0.01M1987.51 1331.07h13.82M2008.22 1331.07h3.46M1935.74 1334.52h3.46M1949.55 1334.52h10.36M1966.8 1334.52h0.01M1973.71 1334.52h0.01M1987.51 1334.52h3.46M1997.87 1334.52h3.46M1928.84 1337.97h0.01M1935.74 1337.97h0.01M1949.55 1337.97h0.01M1956.45 1337.97h17.27M1984.06 1337.97h0.01M2004.77 1337.97h3.46M1932.29 1341.42h3.46M1946.1 1341.42h17.27M1970.26 1341.42h3.46M1984.06 1341.42h0.01M1994.42 1341.42h0.01M2001.32 1341.42h3.46M2011.67 1341.42h0.01M1939.19 1344.87h0.01M1946.1 1344.87h0.01M1959.9 1344.87h0.01M1966.8 1344.87h3.46M1977.16 1344.87h6.91M1997.87 1344.87h0.01M2008.22 1344.87h0.01M1928.84 1348.32h3.46M1939.19 1348.32h13.82M1963.35 1348.32h3.46M1977.16 1348.32h0.01M1987.51 1348.32h3.46M2011.67 1348.32h0.01M1939.19 1351.77h0.01M1946.1 1351.77h3.46M1963.35 1351.77h0.01M1970.26 1351.77h0.01M1980.61 1351.77h13.82M2001.32 1351.77h0.01M2008.22 1351.77h3.46M1901.23 1279.29v13.81M1904.68 1268.94v3.45M1904.68 1317.26v6.9M1908.13 1279.29v3.45M1908.13 1310.36v6.9M1911.58 1293.1v10.35M1915.03 1293.1v10.35M1918.48 1303.45v3.45M1918.48 1320.71v3.45M1921.93 1268.94v3.45M1921.93 1303.45v6.9M1925.39 1272.39v6.9M1925.39 1303.45v6.9M1928.84 1244.78v10.35M1928.84 1275.84v20.71M1928.84 1306.9v3.45M1932.29 1244.78v10.35M1932.29 1317.26v3.45M1935.74 1282.74v10.35M1935.74 1306.9v3.45M1935.74 1331.07v10.35M1939.19 1241.33v3.45M1939.19 1300v3.45M1939.19 1344.87v6.9M1942.64 1241.33v6.9M1942.64 1262.03v6.9M1942.64 1275.84v6.9M1946.1 1241.33v3.45M1946.1 1279.29v3.45M1946.1 1341.42v10.35M1949.55 1262.03v6.9M1949.55 1334.52v6.9M1949.55 1348.32v3.45M1953 1258.58v6.9M1953 1317.26v6.9M1956.45 1313.81v6.9M1956.45 1327.61v13.81M1959.9 1241.33v3.45M1959.9 1334.52v10.35M1963.35 1241.33v6.9M1963.35 1262.03v6.9M1963.35 1324.16v3.45M1963.35 1337.97v3.45M1963.35 1348.32v3.45M1966.8 1248.23v3.45M1966.8 1268.94v6.9M1966.8 1313.81v13.81M1966.8 1334.52v3.45M1966.8 1344.87v3.45M1970.26 1251.68v3.45M1970.26 1286.2v3.45M1970.26 1313.81v3.45M1970.26 1327.61v3.45M1970.26 1337.97v6.9M1973.71 1241.33v3.45M1973.71 1262.03v6.9M1973.71 1279.29v24.16M1973.71 1324.16v3.45M1973.71 1334.52v6.9M1977.16 1258.58v6.9M1977.16 1286.2v17.26M1977.16 1310.36v3.45M1977.16 1327.61v3.45M1977.16 1344.87v3.45M1980.61 1262.03v3.45M1980.61 1272.39v34.52M1984.06 1251.68v3.45M1984.06 1262.03v3.45M1984.06 1282.74v3.45M1984.06 1324.16v3.45M1984.06 1337.97v6.9M1987.51 1293.1v6.9M1987.51 1324.16v10.35M1987.51 1348.32v3.45M1990.97 1275.84v3.45M1990.97 1286.2v3.45M1990.97 1296.55v3.45M1990.97 1331.07v3.45M1990.97 1348.32v3.45M1994.42 1279.29v13.81M1994.42 1310.36v3.45M1994.42 1327.61v3.45M1997.87 1272.39v13.81M1997.87 1306.9v10.35M1997.87 1331.07v3.45M2001.32 1268.94v6.9M2001.32 1282.74v3.45M2001.32 1293.1v10.35M2001.32 1317.26v3.45M2001.32 1327.61v6.9M2004.77 1320.71v6.9M2004.77 1337.97v3.45M2008.22 1286.2v17.26M2008.22 1320.71v3.45M2011.67 1268.94v6.9M2011.67 1296.55v6.9M2011.67 1348.32v3.45" stroke="#651f50" stroke-width="3.45" stroke-linecap="round" fill="none"/>
<path d="M1939.19 1241.33h3.45v3.45h-3.45zM1942.64 1241.33h3.45v3.45h-3.45zM1959.9 1241.33h3.45v3.45h-3.45zM1928.84 1244.78h3.45v3.45h-3.45zM1928.84 1248.23h3.45v3.45h-3.45zM1928.84 1251.68h3.45v3.45h-3.45zM1949.55 1262.03h3.45v3.45h-3.45zM1973.71 1262.03h3.45v3.45h-3.45zM1977.16 1262.03h3.45v3.45h-3.45zM1980.61 1262.03h3.45v3.45h-3.45zM1997.87 1272.39h3.45v3.45h-3.45zM1925.39 1275.84h3.45v3.45h-3.45zM1942.64 1279.29h3.45v3.45h-3.45zM1994.42 1279.29h3.45v3.45h-3.45zM1980.61 1282.74h3.45v3.45h-3.45zM1994.42 1282.74h3.45v3.45h-3.45zM1997.87 1282.74h3.45v3.45h-3.45zM1970.26 1286.2h3.45v3.45h-3.45zM1973.71 1286.2h3.45v3.45h-3.45zM1977.16 1286.2h3.45v3.45h-3.45zM1990.97 1286.2h3.45v3.45h-3.45zM1973.71 1289.65h3.45v3.45h-3.45zM1977.16 1289.65h3.45v3.45h-3.45zM1911.58 1293.1h3.45v3.45h-3.45zM1973.71 1293.1h3.45v3.45h-3.45zM1977.16 1293.1h3.45v3.45h-3.45zM1911.58 1296.55h3.45v3.45h-3.45zM1973.71 1296.55h3.45v3.45h-3.45zM1977.16 1296.55h3.45v3.45h-3.45zM1987.51 1296.55h3.45v3.45h-3.45zM2008.22 1296.55h3.45v3.45h-3.45zM1911.58 1300h3.45v3.45h-3.45zM1973.71 1300h3.45v3.45h-3.45zM1977.16 1300h3.45v3.45h-3.45zM2008.22 1300h3.45v3.45h-3.45zM1918.48 1303.45h3.45v3.45h-3.45zM1921.93 1303.45h3.45v3.45h-3.45zM1921.93 1306.9h3.45v3.45h-3.45zM1925.39 1306.9h3.45v3.45h-3.45zM1994.42 1310.36h3.45v3.45h-3.45zM1966.8 1313.81h3.45v3.45h-3.45zM1953 1317.26h3.45v3.45h-3.45zM2004.77 1320.71h3.45v3.45h-3.45zM1963.35 1324.16h3.45v3.45h-3.45zM1984.06 1324.16h3.45v3.45h-3.45zM1987.51 1331.07h3.45v3.45h-3.45zM1997.87 1331.07h3.45v3.45h-3.45zM1956.45 1334.52h3.45v3.45h-3.45zM1956.45 1337.97h3.45v3.45h-3.45zM1959.9 1337.97h3.45v3.45h-3.45zM1970.26 1337.97h3.45v3.45h-3.45zM1946.1 1348.32h3.45v3.45h-3.45zM1987.51 1348.32h3.45v3.45h-3.45z" fill="#651f50"/>
<rect x="1901.31" y="1241.41" width="20.54" height="20.54" rx="7.25" fill="#fff" stroke="#000" stroke-width="3.62"/><circle cx="1911.58" cy="1251.68" r="5.35" fill="#000"/>
<rect x="1991.05" y="1241.41" width="20.54" height="20.54" rx="7.25" fill="#fff" stroke="#000" stroke-width="3.62"/><circle cx="2001.32" cy="1251.68" r="5.35" fill="#000"/>
<rect x="1901.31" y="1331.15" width="20.54" height="20.54" rx="7.25" fill="#fff" stroke="#000" stroke-width="3.62"/><circle cx="1911.58" cy="1341.42" r="5.35" fill="#000"/>
<g fill="none" stroke="#444" stroke-width="0.7" stroke-linecap="round"><ellipse cx="1956.45" cy="1297.55" rx="10.59" ry="11.65" fill="#f4f4f4"/><path d="M1956.45 1285.9 V1309.2"/><path d="M1954.86 1288.55 q-2.12 -2.12 -3.71 0.21 t-3.18 1.06"/><path d="M1954.86 1291.51 q-2.12 -2.12 -3.71 0.21 t-3.18 1.06"/><path d="M1954.86 1294.48 q-2.12 -2.12 -3.71 0.21 t-3.18 1.06"/><path d="M1954.86 1297.44 q-2.12 -2.12 -3.71 0.21 t-3.18 1.06"/><path d="M1954.86 1300.41 q-2.12 -2.12 -3.71 0.21 t-3.18 1.06"/><path d="M1954.86 1303.38 q-2.12 -2.12 -3.71 0.21 t-3.18 1.06"/><path d="M1954.86 1306.34 q-2.12 -2.12 -3.71 0.21 t-3.18 1.06"/><path d="M1958.04 1288.55 q2.12 -2.12 3.71 0.21 t3.18 1.06"/><path d="M1958.04 1291.51 q2.12 -2.12 3.71 0.21 t3.18 1.06"/><path d="M1958.04 1294.48 q2.12 -2.12 3.71 0.21 t3.18 1.06"/><path d="M1958.04 1297.44 q2.12 -2.12 3.71 0.21 t3.18 1.06"/><path d="M1958.04 1300.41 q2.12 -2.12 3.71 0.21 t3.18 1.06"/><path d="M1958.04 1303.38 q2.12 -2.12 3.71 0.21 t3.18 1.06"/><path d="M1958.04 1306.34 q2.12 -2.12 3.71 0.21 t3.18 1.06"/></g>
<path d="M2102.45 1241.14h3.09M2111.69 1241.14h0.01M2117.86 1241.14h6.17M2139.42 1241.14h0.01M2145.59 1241.14h3.09M2157.91 1241.14h0.01M2096.29 1244.22h0.01M2105.53 1244.22h6.17M2117.86 1244.22h3.09M2130.18 1244.22h3.09M2139.42 1244.22h0.01M2145.59 1244.22h0.01M2154.83 1244.22h0.01M2096.29 1247.3h0.01M2105.53 1247.3h3.09M2117.86 1247.3h0.01M2124.02 1247.3h15.42M2145.59 1247.3h0.01M2151.75 1247.3h0.01M2099.37 1250.38h0.01M2111.69 1250.38h9.25M2130.18 1250.38h3.09M2139.42 1250.38h3.09M2151.75 1250.38h3.09M2096.29 1253.46h6.17M2108.61 1253.46h3.09M2127.1 1253.46h0.01M2148.67 1253.46h0.01M2157.91 1253.46h0.01M2096.29 1256.55h0.01M2108.61 1256.55h6.17M2120.94 1256.55h6.17M2136.34 1256.55h0.01M2142.51 1256.55h0.01M2148.67 1256.55h0.01M2096.29 1259.63h0.01M2102.45 1259.63h3.09M2111.69 1259.63h3.09M2120.94 1259.63h3.09M2130.18 1259.63h3.09M2142.51 1259.63h9.25M2096.29 1262.71h0.01M2105.53 1262.71h12.33M2124.02 1262.71h0.01M2133.26 1262.71h0.01M2139.42 1262.71h3.09M2157.91 1262.71h0.01M2074.72 1265.79h0.01M2080.88 1265.79h0.01M2087.05 1265.79h3.09M2096.29 1265.79h9.25M2117.86 1265.79h0.01M2127.1 1265.79h0.01M2133.26 1265.79h12.33M2157.91 1265.79h0.01M2164.07 1265.79h0.01M2182.56 1265.79h0.01M2071.64 1268.87h3.09M2080.88 1268.87h3.09M2090.13 1268.87h0.01M2102.45 1268.87h3.09M2114.78 1268.87h6.17M2130.18 1268.87h3.09M2139.42 1268.87h0.01M2157.91 1268.87h0.01M2164.07 1268.87h3.09M2071.64 1271.95h3.09M2087.05 1271.95h0.01M2105.53 1271.95h3.09M2117.86 1271.95h0.01M2124.02 1271.95h12.33M2142.51 1271.95h0.01M2148.67 1271.95h6.17M2160.99 1271.95h0.01M2182.56 1271.95h0.01M2071.64 1275.03h0.01M2077.8 1275.03h3.09M2087.05 1275.03h0.01M2096.29 1275.03h0.01M2105.53 1275.03h0.01M2114.78 1275.03h9.25M2130.18 1275.03h0.01M2136.34 1275.03h18.5M2164.07 1275.03h0.01M2170.24 1275.03h0.01M2179.48 1275.03h0.01M2071.64 1278.11h6.17M2087.05 1278.11h0.01M2096.29 1278.11h0.01M2108.61 1278.11h0.01M2120.94 1278.11h0.01M2130.18 1278.11h0.01M2139.42 1278.11h0.01M2145.59 1278.11h6.17M2164.07 1278.11h0.01M2176.4 1278.11h6.17M2071.64 1281.19h0.01M2077.8 1281.19h0.01M2083.96 1281.19h0.01M2096.29 1281.19h9.25M2120.94 1281.19h12.33M2139.42 1281.19h0.01M2145.59 1281.19h3.09M2154.83 1281.19h0.01M2167.15 1281.19h0.01M2176.4 1281.19h0.01M2080.88 1284.28h0.01M2090.13 1284.28h0.01M2102.45 1284.28h3.09M2114.78 1284.28h0.01M2145.59 1284.28h3.09M2154.83 1284.28h0.01M2167.15 1284.28h3.09M2179.48 1284.28h0.01M2074.72 1287.36h0.01M2080.88 1287.36h0.01M2090.13 1287.36h0.01M2099.37 1287.36h0.01M2111.69 1287.36h0.01M2139.42 1287.36h3.09M2154.83 1287.36h0.01M2164.07 1287.36h0.01M2170.24 1287.36h3.09M2179.48 1287.36h3.09M2074.72 1290.44h0.01M2083.96 1290.44h6.17M2108.61 1290.44h0.01M2142.51 1290.44h0.01M2154.83 1290.44h0.01M2164.07 1290.44h3.09M2173.32 1290.44h0.01M2179.48 1290.44h3.09M2071.64 1293.52h12.33M2096.29 1293.52h0.01M2102.45 1293.52h3.09M2111.69 1293.52h0.01M2145.59 1293.52h0.01M2160.99 1293.52h3.09M2170.24 1293.52h0.01M2176.4 1293.52h3.09M2080.88 1296.6h0.01M2102.45 1296.6h9.25M2145.59 1296.6h0.01M2157.91 1296.6h0.01M2164.07 1296.6h0.01M2170.24 1296.6h9.25M2071.64 1299.68h0.01M2077.8 1299.68h3.09M2090.13 1299.68h0.01M2096.29 1299.68h3.09M2142.51 1299.68h3.09M2157.91 1299.68h0.01M2164.07 1299.68h0.01M2170.24 1299.68h0.01M2176.4 1299.68h0.01M2182.56 1299.68h0.01M2071.64 1302.76h0.01M2077.8 1302.76h0.01M2083.96 1302.76h0.01M2093.21 1302.76h0.01M2099.37 1302.76h3.09M2108.61 1302.76h3.09M2142.51 1302.76h6.17M2157.91 1302.76h0.01M2167.15 1302.76h3.09M2182.56 1302.76h0.01M2074.72 1305.84h15.42M2096.29 1305.84h18.5M2139.42 1305.84h3.09M2160.99 1305.84h0.01M2167.15 1305.84h15.42M2074.72 1308.92h0.01M2090.13 1308.92h3.09M2105.53 1308.92h12.33M2139.42 1308.92h3.09M2151.75 1308.92h6.17M2071.64 1312.01h9.25M2102.45 1312.01h0.01M2108.61 1312.01h6.17M2130.18 1312.01h6.17M2142.51 1312.01h3.09M2154.83 1312.01h9.25M2170.24 1312.01h0.01M2176.4 1312.01h0.01M2182.56 1312.01h0.01M2074.72 1315.09h0.01M2080.88 1315.09h0.01M2099.37 1315.09h0.01M2111.69 1315.09h0.01M2117.86 1315.09h6.17M2130.18 1315.09h0.01M2136.34 1315.09h0.01M2142.51 1315.09h0.01M2160.99 1315.09h9.25M2176.4 1315.09h3.09M2071.64 1318.17h12.33M2090.13 1318.17h0.01M2096.29 1318.17h0.01M2105.53 1318.17h0.01M2117.86 1318.17h0.01M2127.1 1318.17h0.01M2136.34 1318.17h0.01M2145.59 1318.17h0.01M2154.83 1318.17h0.01M2164.07 1318.17h0.01M2179.48 1318.17h0.01M2071.64 1321.25h6.17M2087.05 1321.25h0.01M2099.37 1321.25h0.01M2105.53 1321.25h3.09M2114.78 1321.25h0.01M2124.02 1321.25h0.01M2130.18 1321.25h3.09M2145.59 1321.25h3.09M2157.91 1321.25h0.01M2164.07 1321.25h0.01M2173.32 1321.25h0.01M2182.56 1321.25h0.01M2105.53 1324.33h3.09M2117.86 1324.33h3.09M2133.26 1324.33h0.01M2145.59 1324.33h3.09M2154.83 1324.33h0.01M2160.99 1324.33h3.09M2170.24 1324.33h0.01M2179.48 1324.33h3.09M2080.88 1327.41h9.25M2108.61 1327.41h0.01M2117.86 1327.41h3.09M2127.1 1327.41h0.01M2133.26 1327.41h6.17M2148.67 1327.41h0.01M2154.83 1327.41h0.01M2170.24 1327.41h0.01M2099.37 1330.49h3.09M2111.69 1330.49h12.33M2130.18 1330.49h0.01M2136.34 1330.49h0.01M2148.67 1330.49h3.09M2173.32 1330.49h0.01M2182.56 1330.49h0.01M2096.29 1333.57h0.01M2105.53 1333.57h0.01M2114.78 1333.57h3.09M2124.02 1333.57h3.09M2148.67 1333.57h6.17M2160.99 1333.57h0.01M2167.15 1333.57h6.17M2179.48 1333.57h0.01M2096.29 1336.65h0.01M2102.45 1336.65h15.42M2154.83 1336.65h0.01M2160.99 1336.65h3.09M2170.24 1336.65h6.17M2099.37 1339.74h0.01M2117.86 1339.74h0.01M2124.02 1339.74h0.01M2133.26 1339.74h0.01M2139.42 1339.74h15.42M2160.99 1339.74h0.01M2167.15 1339.74h9.25M2182.56 1339.74h0.01M2096.29 1342.82h3.09M2117.86 1342.82h0.01M2124.02 1342.82h0.01M2139.42 1342.82h3.09M2151.75 1342.82h3.09M2160.99 1342.82h0.01M2173.32 1342.82h0.01M2179.48 1342.82h0.01M2096.29 1345.9h0.01M2105.53 1345.9h0.01M2111.69 1345.9h0.01M2127.1 1345.9h0.01M2133.26 1345.9h0.01M2139.42 1345.9h6.17M2154.83 1345.9h3.09M2164.07 1345.9h12.33M2096.29 1348.98h3.09M2127.1 1348.98h0.01M2133.26 1348.98h0.01M2145.59 1348.98h0.01M2151.75 1348.98h0.01M2160.99 1348.98h6.17M2173.32 1348.98h3.09M2096.29 1352.06h0.01M2102.45 1352.06h3.09M2114.78 1352.06h0.01M2120.94 1352.06h18.5M2154.83 1352.06h0.01M2170.24 1352.06h3.09M2071.64 1268.87v12.32M2071.64 1299.68v3.08M2071.64 1318.17v3.08M2074.72 1265.79v6.16M2074.72 1287.36v6.16M2074.72 1305.84v15.41M2077.8 1275.03v6.16M2077.8 1299.68v6.16M2077.8 1318.17v3.08M2080.88 1265.79v3.08M2080.88 1284.28v3.08M2080.88 1293.52v6.16M2080.88 1312.01v6.16M2083.96 1290.44v3.08M2083.96 1302.76v3.08M2087.05 1271.95v6.16M2090.13 1265.79v3.08M2090.13 1284.28v6.16M2090.13 1305.84v3.08M2096.29 1244.22v3.08M2096.29 1253.46v12.32M2096.29 1275.03v6.16M2096.29 1333.57v3.08M2096.29 1342.82v9.24M2099.37 1250.38v3.08M2099.37 1299.68v6.16M2099.37 1339.74v3.08M2102.45 1265.79v3.08M2102.45 1281.19v3.08M2102.45 1293.52v3.08M2102.45 1302.76v3.08M2105.53 1241.14v6.16M2105.53 1259.63v15.41M2105.53 1281.19v3.08M2105.53 1293.52v3.08M2105.53 1305.84v3.08M2105.53 1318.17v6.16M2105.53 1333.57v3.08M2108.61 1244.22v3.08M2108.61 1253.46v3.08M2108.61 1302.76v9.24M2108.61 1321.25v6.16M2111.69 1241.14v3.08M2111.69 1250.38v12.32M2111.69 1293.52v3.08M2111.69 1302.76v12.32M2114.78 1256.55v6.16M2114.78 1305.84v6.16M2114.78 1330.49v6.16M2117.86 1241.14v9.24M2117.86 1262.71v12.32M2117.86 1315.09v3.08M2117.86 1324.33v18.49M2120.94 1241.14v3.08M2120.94 1256.55v3.08M2120.94 1275.03v6.16M2120.94 1324.33v6.16M2124.02 1256.55v6.16M2124.02 1271.95v3.08M2124.02 1330.49v3.08M2124.02 1339.74v3.08M2127.1 1253.46v3.08M2127.1 1345.9v6.16M2130.18 1244.22v6.16M2130.18 1268.87v12.32M2130.18 1312.01v3.08M2133.26 1244.22v6.16M2133.26 1259.63v12.32M2133.26 1321.25v6.16M2133.26 1345.9v6.16M2136.34 1271.95v3.08M2136.34 1312.01v6.16M2136.34 1327.41v3.08M2139.42 1241.14v9.24M2139.42 1262.71v6.16M2139.42 1275.03v6.16M2139.42 1305.84v3.08M2139.42 1339.74v6.16M2142.51 1256.55v9.24M2142.51 1271.95v3.08M2142.51 1287.36v3.08M2142.51 1299.68v15.41M2142.51 1339.74v6.16M2145.59 1241.14v6.16M2145.59 1275.03v9.24M2145.59 1293.52v9.24M2145.59 1318.17v6.16M2145.59 1345.9v3.08M2148.67 1253.46v6.16M2148.67 1271.95v12.32M2148.67 1321.25v12.32M2151.75 1247.3v3.08M2151.75 1271.95v6.16M2151.75 1330.49v3.08M2151.75 1339.74v3.08M2154.83 1271.95v3.08M2154.83 1281.19v9.24M2154.83 1308.92v3.08M2154.83 1324.33v3.08M2154.83 1333.57v12.32M2157.91 1262.71v6.16M2157.91 1296.6v6.16M2157.91 1308.92v3.08M2160.99 1312.01v3.08M2160.99 1333.57v9.24M2164.07 1265.79v3.08M2164.07 1275.03v3.08M2164.07 1287.36v12.32M2164.07 1312.01v12.32M2164.07 1345.9v3.08M2167.15 1281.19v3.08M2167.15 1302.76v3.08M2167.15 1345.9v3.08M2170.24 1284.28v3.08M2170.24 1293.52v12.32M2170.24 1312.01v3.08M2170.24 1324.33v3.08M2170.24 1333.57v6.16M2173.32 1287.36v3.08M2173.32 1330.49v21.57M2176.4 1278.11v3.08M2176.4 1293.52v6.16M2176.4 1312.01v3.08M2176.4 1336.65v3.08M2176.4 1345.9v3.08M2179.48 1275.03v3.08M2179.48 1284.28v12.32M2179.48 1315.09v3.08M2182.56 1287.36v3.08M2182.56 1299.68v6.16M2182.56 1321.25v3.08" stroke="#4868ae" stroke-width="3.08" stroke-linecap="round" fill="none"/>
<path d="M2117.86 1241.14h3.08v3.08h-3.08zM2105.53 1244.22h3.08v3.08h-3.08zM2130.18 1244.22h3.08v3.08h-3.08zM2130.18 1247.3h3.08v3.08h-3.08zM2108.61 1253.46h3.08v3.08h-3.08zM2111.69 1256.55h3.08v3.08h-3.08zM2120.94 1256.55h3.08v3.08h-3.08zM2111.69 1259.63h3.08v3.08h-3.08zM2139.42 1262.71h3.08v3.08h-3.08zM2102.45 1265.79h3.08v3.08h-3.08zM2071.64 1268.87h3.08v3.08h-3.08zM2130.18 1268.87h3.08v3.08h-3.08zM2148.67 1271.95h3.08v3.08h-3.08zM2151.75 1271.95h3.08v3.08h-3.08zM2145.59 1275.03h3.08v3.08h-3.08zM2148.67 1275.03h3.08v3.08h-3.08zM2145.59 1278.11h3.08v3.08h-3.08zM2102.45 1281.19h3.08v3.08h-3.08zM2145.59 1281.19h3.08v3.08h-3.08zM2179.48 1287.36h3.08v3.08h-3.08zM2102.45 1293.52h3.08v3.08h-3.08zM2176.4 1293.52h3.08v3.08h-3.08zM2142.51 1299.68h3.08v3.08h-3.08zM2099.37 1302.76h3.08v3.08h-3.08zM2108.61 1302.76h3.08v3.08h-3.08zM2167.15 1302.76h3.08v3.08h-3.08zM2105.53 1305.84h3.08v3.08h-3.08zM2108.61 1305.84h3.08v3.08h-3.08zM2111.69 1305.84h3.08v3.08h-3.08zM2139.42 1305.84h3.08v3.08h-3.08zM2108.61 1308.92h3.08v3.08h-3.08zM2111.69 1308.92h3.08v3.08h-3.08zM2154.83 1308.92h3.08v3.08h-3.08zM2160.99 1312.01h3.08v3.08h-3.08zM2071.64 1318.17h3.08v3.08h-3.08zM2074.72 1318.17h3.08v3.08h-3.08zM2105.53 1321.25h3.08v3.08h-3.08zM2145.59 1321.25h3.08v3.08h-3.08zM2117.86 1324.33h3.08v3.08h-3.08zM2117.86 1327.41h3.08v3.08h-3.08zM2114.78 1330.49h3.08v3.08h-3.08zM2148.67 1330.49h3.08v3.08h-3.08zM2114.78 1333.57h3.08v3.08h-3.08zM2170.24 1333.57h3.08v3.08h-3.08zM2170.24 1336.65h3.08v3.08h-3.08zM2173.32 1336.65h3.08v3.08h-3.08zM2139.42 1339.74h3.08v3.08h-3.08zM2151.75 1339.74h3.08v3.08h-3.08zM2139.42 1342.82h3.08v3.08h-3.08zM2164.07 1345.9h3.08v3.08h-3.08zM2173.32 1345.9h3.08v3.08h-3.08z" fill="#4868ae"/>
<rect x="2071.72" y="1241.22" width="18.33" height="18.33" rx="6.47" fill="#fff" stroke="#000" stroke-width="3.24"/><circle cx="2080.88" cy="1250.38" r="4.78" fill="#000"/>
<rect x="2164.15" y="1241.22" width="18.33" height="18.33" rx="6.47" fill="#fff" stroke="#000" stroke-width="3.24"/><circle cx="2173.32" cy="1250.38" r="4.78" fill="#000"/>
<rect x="2071.72" y="1333.65" width="18.33" height="18.33" rx="6.47" fill="#fff" stroke="#000" stroke-width="3.24"/><circle cx="2080.88" cy="1342.82" r="4.78" fill="#000"/>
<g fill="none" stroke="#444" stroke-width="0.7" stroke-linecap="round"><ellipse cx="2127.1" cy="1297.6" rx="10.6" ry="11.66" fill="#f4f4f4"/><path d="M2127.1 1285.94 V1309.26"/><path d="M2125.51 1288.59 q-2.12 -2.12 -3.71 0.21 t-3.18 1.06"/><path d="M2125.51 1291.56 q-2.12 -2.12 -3.71 0.21 t-3.18 1.06"/><path d="M2125.51 1294.53 q-2.12 -2.12 -3.71 0.21 t-3.18 1.06"/><path d="M2125.51 1297.49 q-2.12 -2.12 -3.71 0.21 t-3.18 1.06"/><path d="M2125.51 1300.46 q-2.12 -2.12 -3.71 0.21 t-3.18 1.06"/><path d="M2125.51 1303.43 q-2.12 -2.12 -3.71 0.21 t-3.18 1.06"/><path d="M2125.51 1306.4 q-2.12 -2.12 -3.71 0.21 t-3.18 1.06"/><path d="M2128.69 1288.59 q2.12 -2.12 3.71 0.21 t3.18 1.06"/><path d="M2128.69 1291.56 q2.12 -2.12 3.71 0.21 t3.18 1.06"/><path d="M2128.69 1294.53 q2.12 -2.12 3.71 0.21 t3.18 1.06"/><path d="M2128.69 1297.49 q2.12 -2.12 3.71 0.21 t3.18 1.06"/><path d="M2128.69 1300.46 q2.12 -2.12 3.71 0.21 t3.18 1.06"/><path d="M2128.69 1303.43 q2.12 -2.12 3.71 0.21 t3.18 1.06"/><path d="M2128.69 1306.4 q2.12 -2.12 3.71 0.21 t3.18 1.06"/></g>
<g transform="translate(81.8 1313.6) scale(1.8)"><path d="M1.636 21.002h3.819V11.73L0 7.64v11.726c0 .904.732 1.636 1.636 1.636z" fill="#4f84ee"/><path d="M18.545 21.002h3.819c.904 0 1.636-.732 1.636-1.636V7.64l-5.455 4.09z" fill="#57a55a"/><path d="M18.545 4.64v7.09L24 7.64V5.457c0-2.023-2.309-3.178-3.927-1.964z" fill="#f1bd41"/><path d="M5.455 11.73V4.64L12 9.548l6.545-4.91v7.09L12 16.64z" fill="#d9503f"/><path d="M0 5.457V7.64l5.455 4.09V4.64L3.927 3.493C2.309 2.28 0 3.434 0 5.457z" fill="#b2301f"/></g>
<path transform="translate(450.2 1308.7) scale(2.133)" fill="#4a9fea" d="M23.953 4.57a10 10 0 01-2.825.775 4.958 4.958 0 002.163-2.723c-.951.555-2.005.959-3.127 1.184a4.92 4.92 0 00-8.384 4.482C7.69 8.095 4.067 6.13 1.64 3.162a4.822 4.822 0 00-.666 2.475c0 1.71.87 3.213 2.188 4.096a4.904 4.904 0 01-2.228-.616v.06a4.923 4.923 0 003.946 4.827 4.996 4.996 0 01-2.212.085 4.936 4.936 0 004.604 3.417 9.867 9.867 0 01-6.102 2.105c-.39 0-.779-.023-1.17-.067a13.995 13.995 0 007.557 2.209c9.053 0 13.998-7.496 13.998-13.985 0-.21 0-.42-.015-.63A9.935 9.935 0 0024 4.59z"/>
<path transform="translate(738.1 1307.9) scale(3.2375)" fill="#5f6cbf" d="M8 0C3.58 0 0 3.58 0 8c0 3.54 2.29 6.53 5.47 7.59.4.07.55-.17.55-.38 0-.19-.01-.82-.01-1.49-2.01.37-2.53-.49-2.69-.94-.09-.23-.48-.94-.82-1.13-.28-.15-.68-.52-.01-.53.63-.01 1.08.58 1.23.82.72 1.21 1.87.87 2.33.66.07-.52.28-.87.51-1.07-1.78-.2-3.64-.89-3.64-3.95 0-.87.31-1.59.82-2.15-.08-.2-.36-1.02.08-2.12 0 0 .67-.21 2.2.82.64-.18 1.32-.27 2-.27.68 0 1.36.09 2 .27 1.53-1.04 2.2-.82 2.2-.82.44 1.1.16 1.92.08 2.12.51.56.82 1.27.82 2.15 0 3.07-1.87 3.75-3.65 3.95.29.25.54.73.54 1.48 0 1.07-.01 1.93-.01 2.2 0 .21.15.46.55.38A8.013 8.013 0 0016 8c0-4.42-3.58-8-8-8z"/>
<rect x="132.5" y="1345.7" width="249.5" height="1" fill="#111"/>
</svg>
<div class="t hv" style="left:411px;top:15px;transform:scaleX(0.9601);font-size:49px;font-weight:700">Manipulating dropout reveals an optimal balance of efficiency and</div>
<div class="t hv" style="left:555px;top:72px;transform:scaleX(0.9605);font-size:49px;font-weight:700">robustness in biological and machine visual systems</div>
<div class="t lt2" style="left:765px;top:138px;font-size:25px;letter-spacing:-0.08px">Jacob S. Prince, Gabriel Fajardo, George A. Alvarez, and Talia Konkle</div>
<div class="t lt2" style="left:931px;top:173px;font-size:25px;letter-spacing:-0.1px">Harvard University, Dept. of Psychology</div>
<div class="t lt2" style="left:2056px;top:160px;font-size:25px;letter-spacing:-1.14px">Vision Sciences Lab</div>
<div class="t hv2" style="left:26.2px;top:237px;transform:scaleX(0.9390);font-size:28.3px;font-weight:700">1.&nbsp; How does the visual system encode sensory information?</div>
<div class="t hv2" style="left:85px;top:293px;transform:scaleX(0.9560);font-size:23.4px;font-weight:700">Sparse Coding</div>
<div class="t hv2" style="left:811.3px;top:293px;transform:scaleX(0.9549);font-size:23.4px;font-weight:700">Distributed Coding</div>
<div class="t" style="left:38.5px;top:346px;font-size:15.8px;letter-spacing:0.08px">Efficient Coding</div>
<div class="t" style="left:26.8px;top:459.4px;transform:rotate(-90deg);font-size:15.8px;letter-spacing:0.01px">Response</div>
<div class="t" style="left:44px;top:477px;font-size:15.8px;letter-spacing:0.12px">Stimulus value</div>
<div class="t" style="left:203.6px;top:347px;font-size:15.8px;letter-spacing:0.06px">Eigenspectrum</div>
<div class="t" style="left:199.47px;top:371px;font-size:11px;color:#333">1</div>
<div class="t" style="left:190.3px;top:397px;font-size:11px;color:#333">0.1</div>
<div class="t" style="left:184.18px;top:423px;font-size:11px;color:#333">0.01</div>
<div class="t" style="left:178.07px;top:448px;font-size:11px;color:#333">0.001</div>
<div class="t" style="left:204.44px;top:470px;font-size:11px;color:#333">1</div>
<div class="t" style="left:233.88px;top:470px;font-size:11px;color:#333">10</div>
<div class="t" style="left:262.12px;top:470px;font-size:11px;color:#333">100</div>
<div class="t" style="left:287.63px;top:470px;font-size:11px;color:#333">1,000</div>
<div class="t" style="left:167px;top:450.26px;transform:rotate(-90deg);font-size:15.8px;letter-spacing:-0.12px">Variance</div>
<div class="t" style="left:207.5px;top:483px;font-size:15.8px;letter-spacing:0.11px">PC dimension</div>
<div class="t" style="left:247.5px;top:392px;font-size:15.8px;letter-spacing:-0.13px;color:#e9519f;font-style:italic">high-</div>
<div class="t" style="left:224px;top:412px;font-size:15.8px;letter-spacing:-0.25px;color:#e9519f;font-style:italic">dimensional</div>
<div class="t" style="left:93.7px;top:516px;font-size:15.8px;letter-spacing:0.12px;color:#4fae32;font-style:italic">efficient, no redundancy</div>
<div class="t" style="left:55px;top:541px;font-size:15.8px;letter-spacing:0.12px;color:#d8392b;font-style:italic">not robust to noise, readout is hard</div>
<div class="t" style="left:388px;top:350px;font-size:15.8px;letter-spacing:-0.01px;color:#d8392b">Look at structure of</div>
<div class="t" style="left:413.4px;top:369px;font-size:15.8px;letter-spacing:-0.12px;color:#d8392b">latent space</div>
<div class="t" style="left:467.8px;top:399px;font-size:15.8px;letter-spacing:-0.34px;color:#d8392b;font-style:italic">Image 1</div>
<div class="t" style="left:366px;top:504px;font-size:15.8px;letter-spacing:-0.23px;font-style:italic">Neuron i</div>
<div class="t" style="left:482px;top:499px;font-size:15.8px;letter-spacing:-0.24px;font-style:italic">Neuron j</div>
<div class="t lt2" style="left:578.4px;top:352px;font-size:17.2px;letter-spacing:0.16px">Balance point?</div>
<div class="t" style="left:572.54px;top:385px;font-size:10.5px;color:#333">10<sup>−1</sup></div>
<div class="t" style="left:572.54px;top:407px;font-size:10.5px;color:#333">10<sup>−2</sup></div>
<div class="t" style="left:572.54px;top:428px;font-size:10.5px;color:#333">10<sup>−3</sup></div>
<div class="t" style="left:572.54px;top:449px;font-size:10.5px;color:#333">10<sup>−4</sup></div>
<div class="t" style="left:572.54px;top:470px;font-size:10.5px;color:#333">10<sup>−5</sup></div>
<div class="t" style="left:590.11px;top:480px;font-size:10.5px;color:#333">10<sup>0</sup></div>
<div class="t" style="left:617.11px;top:480px;font-size:10.5px;color:#333">10<sup>1</sup></div>
<div class="t" style="left:644.61px;top:480px;font-size:10.5px;color:#333">10<sup>2</sup></div>
<div class="t" style="left:672.11px;top:480px;font-size:10.5px;color:#333">10<sup>3</sup></div>
<div class="t" style="left:642.5px;top:406px;font-size:13px;letter-spacing:-0.13px;color:#1a1aee"><i style="font-family:'DejaVu Serif',serif">α</i> = 1.04</div>
<div class="t" style="left:553.5px;top:458.63px;transform:rotate(-90deg);font-size:15.8px;letter-spacing:-0.06px">Variance</div>
<div class="t" style="left:587.1px;top:492px;font-size:15.8px;letter-spacing:0.15px">PC dimension</div>
<div class="t lt2" style="left:572.8px;top:519px;font-size:15.8px;letter-spacing:-0.27px;color:#909090">Stringer et al. 2019</div>
<div class="t" style="left:795.1px;top:345px;font-size:15.8px;letter-spacing:0.09px">Low-<i>d</i> tuning</div>
<div class="t" style="left:775px;top:454.23px;transform:rotate(-90deg);font-size:15.8px;letter-spacing:-0.06px">Response</div>
<div class="t" style="left:788px;top:472px;font-size:15.8px;letter-spacing:0.12px">Stimulus value</div>
<div class="t" style="left:952.3px;top:344px;font-size:15.8px;letter-spacing:0.07px">Eigenspectrum</div>
<div class="t" style="left:950.67px;top:364px;font-size:11px;color:#333">1</div>
<div class="t" style="left:941.5px;top:389px;font-size:11px;color:#333">0.1</div>
<div class="t" style="left:935.38px;top:416px;font-size:11px;color:#333">0.01</div>
<div class="t" style="left:929.27px;top:443px;font-size:11px;color:#333">0.001</div>
<div class="t" style="left:956.04px;top:465px;font-size:11px;color:#333">1</div>
<div class="t" style="left:985.98px;top:465px;font-size:11px;color:#333">10</div>
<div class="t" style="left:1014.82px;top:465px;font-size:11px;color:#333">100</div>
<div class="t" style="left:1041.13px;top:465px;font-size:11px;color:#333">1,000</div>
<div class="t" style="left:915.8px;top:444.56px;transform:rotate(-90deg);font-size:15.8px;letter-spacing:-0.12px">Variance</div>
<div class="t" style="left:956.5px;top:477px;font-size:15.8px;letter-spacing:0.1px">PC dimension</div>
<div class="t" style="left:1017.7px;top:400px;font-size:15.8px;letter-spacing:0.08px;color:#e9519f;font-style:italic">low-</div>
<div class="t" style="left:991.8px;top:419px;font-size:15.8px;letter-spacing:-0.22px;color:#e9519f;font-style:italic">dimensional</div>
<div class="t" style="left:790.6px;top:511px;font-size:15.8px;letter-spacing:0.13px;color:#4fae32;font-style:italic">robust to perturbation, easier readout</div>
<div class="t" style="left:819.2px;top:535px;font-size:15.8px;letter-spacing:0.1px;color:#d8392b;font-style:italic">redundant, may limit capacity</div>
<div class="t hv2" style="left:23.7px;top:605px;transform:scaleX(0.9474);font-size:28.3px;font-weight:700">2.&nbsp; How to manipulate the extent of distributed information in DNNs?</div>
<div class="t" style="left:88.3px;top:673px;font-size:15.8px;letter-spacing:0.26px">“Controlled model rearing”</div>
<div class="t lt2" style="left:43.2px;top:708px;font-size:15.8px;letter-spacing:-0.61px;color:#111">ImageNet</div>
<div class="t lt2" style="left:236px;top:721px;font-size:15.8px;letter-spacing:-0.63px;color:#111">AlexNet</div>
<div class="t" style="left:368.5px;top:782.81px;transform:rotate(-90deg);font-size:15.8px;letter-spacing:-0.21px">1000</div>
<div class="t" style="left:388.3px;top:801.77px;transform:rotate(-90deg);font-size:15.8px;letter-spacing:0.06px">categories</div>
<div class="t" style="left:193.8px;top:808px;font-size:15.8px;letter-spacing:0.28px;color:#2f6db3;font-style:italic">apply dropout</div>
<div class="t" style="left:194.8px;top:827px;font-size:15.8px;letter-spacing:0.25px;color:#2f6db3;font-style:italic">at fc6 and fc7</div>
<div class="t" style="left:73.2px;top:862px;font-size:15.8px;letter-spacing:0.21px">N = 10 models, with dropout levels:</div>
<div class="t md" style="left:46.5px;top:882px;font-size:15.8px;letter-spacing:0.08px">[ <span style="color:#141480">0</span><span style="color:#000">,</span> <span style="color:#1212e0">0.1</span><span style="color:#000">,</span> <span style="color:#2255f0">0.2</span><span style="color:#000">,</span> <span style="color:#4aa8f5">0.3</span><span style="color:#4aa8f5">,</span> <span style="color:#66efd0">0.4</span><span style="color:#66efd0">,</span> <span style="color:#8ef58e">0.5</span><span style="color:#8ef58e">,</span> <span style="color:#ccf54d">0.6</span><span style="color:#ccf54d">,</span> <span style="color:#f5c242">0.7</span><span style="color:#f5c242">,</span> <span style="color:#f07830">0.8</span><span style="color:#000">,</span> <span style="color:#d8342a">0.9</span> ]</div>
<div class="t" style="left:499.7px;top:678px;font-size:15.8px;letter-spacing:0.16px">Dropout</div>
<div class="t" style="left:472.9px;top:846px;font-size:9.6px;letter-spacing:0.01px;color:#5a5a5a;font-weight:700"><span style="font-family:'Liberation Serif',serif">(b) After applying dropout.</span></div>
<div class="t lt2" style="left:456.2px;top:874px;font-size:15.8px;letter-spacing:-0.39px;color:#909090">Srivastava et al. 2014</div>
<div class="t" style="left:705.2px;top:659px;font-size:15.8px;letter-spacing:0.16px">Eigenspectrum</div>
<div class="t" style="left:723px;top:678px;font-size:12.8px;letter-spacing:0.08px">(log-log plot)</div>
<div class="t d" style="left:656.06px;top:733px;font-size:12.3px;color:#333">10<sup>2</sup></div>
<div class="t d" style="left:656.06px;top:770px;font-size:12.3px;color:#333">10<sup>1</sup></div>
<div class="t d" style="left:656.06px;top:806px;font-size:12.3px;color:#333">10<sup>0</sup></div>
<div class="t d" style="left:648.84px;top:843px;font-size:12.3px;color:#333">10<sup>−1</sup></div>
<div class="t d" style="left:676.53px;top:871px;font-size:12.3px;color:#333">10<sup>0</sup></div>
<div class="t d" style="left:731.73px;top:871px;font-size:12.3px;color:#333">10<sup>1</sup></div>
<div class="t d" style="left:786.83px;top:871px;font-size:12.3px;color:#333">10<sup>2</sup></div>
<div class="t" style="left:624.3px;top:847.49px;transform:rotate(-90deg);font-size:15.8px;letter-spacing:0.02px">log eigenvalue</div>
<div class="t" style="left:690.5px;top:887px;font-size:15.8px;letter-spacing:0.13px">log PC dimension</div>
<div class="t" style="left:800.3px;top:760px;font-size:14.6px;letter-spacing:0.03px;color:#1f4af0;font-weight:700"><i style="font-family:'Liberation Serif',serif;font-size:1.15em">α</i> = 1.01</div>
<div class="t" style="left:730.8px;top:830px;font-size:14.6px;letter-spacing:0.23px;color:#e0392d;font-weight:700"><i style="font-family:'Liberation Serif',serif;font-size:1.15em">α</i> = 1.70</div>
<div class="t" style="left:924.5px;top:674px;font-size:21px;letter-spacing:-0.02px;font-weight:700;font-style:italic">Observations</div>
<div class="t" style="left:919.1px;top:717px;font-size:16.3px;letter-spacing:-0.06px"><span class="ar">➢</span> Increasing dropout</div>
<div class="t" style="left:919.1px;top:737px;font-size:16.3px;letter-spacing:-0.05px">systematically <b>lowers</b></div>
<div class="t" style="left:919.1px;top:756px;font-size:16.3px;letter-spacing:-0.14px">the <b>dimensionality</b> of</div>
<div class="t" style="left:919.1px;top:776px;font-size:16.3px;letter-spacing:-0.13px">DNN representations</div>
<div class="t" style="left:919.1px;top:821px;font-size:16.3px;letter-spacing:-0.06px"><span class="ar">➢</span> Suggests that</div>
<div class="t" style="left:919.1px;top:841px;font-size:16.3px">dropout acts as a</div>
<div class="t" style="left:919.1px;top:861px;font-size:16.3px;letter-spacing:0.13px">“knob” to <b>increase</b></div>
<div class="t" style="left:919.1px;top:880px;font-size:16.3px;letter-spacing:-0.17px"><b>distributed coding</b></div>
<div class="t hv2" style="left:23.7px;top:941px;transform:scaleX(0.9461);font-size:28.3px;font-weight:700">3.&nbsp; How does dropout impact accuracy, geometry &amp; sparsity?</div>
<div class="t" style="left:71.2px;top:1009px;font-size:15.8px;letter-spacing:0.19px">ImageNet accuracy</div>
<div class="t d" style="left:47.52px;top:1034px;font-size:7.6px;color:#333">1.0</div>
<div class="t d" style="left:47.52px;top:1068px;font-size:7.6px;color:#333">0.8</div>
<div class="t d" style="left:47.52px;top:1101px;font-size:7.6px;color:#333">0.6</div>
<div class="t d" style="left:47.52px;top:1135px;font-size:7.6px;color:#333">0.4</div>
<div class="t d" style="left:47.52px;top:1169px;font-size:7.6px;color:#333">0.2</div>
<div class="t d" style="left:47.52px;top:1203px;font-size:7.6px;color:#333">0.0</div>
<div class="t d" style="left:68.26px;top:1222.34px;transform:rotate(-90deg);font-size:7.6px;color:#333">0.0</div>
<div class="t d" style="left:85.05px;top:1222.34px;transform:rotate(-90deg);font-size:7.6px;color:#333">0.1</div>
<div class="t d" style="left:102.09px;top:1222.34px;transform:rotate(-90deg);font-size:7.6px;color:#333">0.2</div>
<div class="t d" style="left:119.13px;top:1222.34px;transform:rotate(-90deg);font-size:7.6px;color:#333">0.3</div>
<div class="t d" style="left:135.91px;top:1222.34px;transform:rotate(-90deg);font-size:7.6px;color:#333">0.4</div>
<div class="t d" style="left:152.95px;top:1222.34px;transform:rotate(-90deg);font-size:7.6px;color:#333">0.5</div>
<div class="t d" style="left:169.74px;top:1222.34px;transform:rotate(-90deg);font-size:7.6px;color:#333">0.6</div>
<div class="t d" style="left:186.78px;top:1222.34px;transform:rotate(-90deg);font-size:7.6px;color:#333">0.7</div>
<div class="t d" style="left:203.82px;top:1222.34px;transform:rotate(-90deg);font-size:7.6px;color:#333">0.8</div>
<div class="t d" style="left:220.86px;top:1222.34px;transform:rotate(-90deg);font-size:7.6px;color:#333">0.9</div>
<div class="t" style="left:19.6px;top:1179.85px;transform:rotate(-90deg);font-size:15.8px;letter-spacing:0.31px">Top-5 accuracy</div>
<div class="t" style="left:54.2px;top:1231px;font-size:15.8px;letter-spacing:0.18px">Dropout proportion (<i>p</i>)</div>
<div class="t" style="left:262px;top:1011px;font-size:15.8px;letter-spacing:0.14px">Representational trajectories</div>
<div class="t" style="left:284.8px;top:1042px;font-size:13.4px;letter-spacing:0.08px;color:#555">output</div>
<div class="t" style="left:292px;top:1189px;font-size:13.4px;letter-spacing:-0.17px;color:#555">pixel</div>
<div class="t" style="left:258.4px;top:1186.86px;transform:rotate(-90deg);font-size:15.8px;letter-spacing:0.08px">MDS dimension 2</div>
<div class="t" style="left:298px;top:1230px;font-size:15.8px;letter-spacing:0.1px">MDS dimension 1</div>
<div class="t" style="left:495.2px;top:1229.55px;transform:rotate(-90deg);font-size:15.8px;letter-spacing:0.1px">Sparsity (prop. inactive units)</div>
<div class="t d" style="left:521.87px;top:1056px;font-size:8px;color:#444">1.0</div>
<div class="t d" style="left:521.87px;top:1084px;font-size:8px;color:#444">0.8</div>
<div class="t d" style="left:521.87px;top:1111px;font-size:8px;color:#444">0.6</div>
<div class="t d" style="left:521.87px;top:1138px;font-size:8px;color:#444">0.4</div>
<div class="t d" style="left:521.87px;top:1165px;font-size:8px;color:#444">0.2</div>
<div class="t d" style="left:521.87px;top:1192px;font-size:8px;color:#444">0.0</div>
<div class="t d" style="left:791.14px;top:1057px;font-size:4.4px;letter-spacing:0.06px;color:#555">Lifetime Sparsity</div>
<div class="t d" style="left:791.14px;top:1064px;font-size:4.4px;letter-spacing:0.08px;color:#555">Population Sparsity</div>
<div class="t md" style="left:549.5px;top:1204px;font-size:15.2px;letter-spacing:-0.55px;color:#141480">0</div>
<div class="t md" style="left:566.7px;top:1204px;font-size:15.2px;letter-spacing:-0.54px;color:#1212e0">0.1</div>
<div class="t md" style="left:597px;top:1204px;font-size:15.2px;letter-spacing:-0.21px;color:#2255f0">0.2</div>
<div class="t md" style="left:626.7px;top:1204px;font-size:15.2px;letter-spacing:0.06px;color:#4aa8f5">0.3</div>
<div class="t md" style="left:656.7px;top:1204px;font-size:15.2px;letter-spacing:0.02px;color:#66efd0">0.4</div>
<div class="t md" style="left:686.9px;top:1204px;font-size:15.2px;letter-spacing:0.03px;color:#8ef58e">0.5</div>
<div class="t md" style="left:717.1px;top:1204px;font-size:15.2px;letter-spacing:0.12px;color:#ccf54d">0.6</div>
<div class="t md" style="left:747.6px;top:1204px;font-size:15.2px;letter-spacing:-0.04px;color:#f5c242">0.7</div>
<div class="t md" style="left:777.8px;top:1204px;font-size:15.2px;letter-spacing:0.03px;color:#f07830">0.8</div>
<div class="t md" style="left:808.1px;top:1204px;font-size:15.2px;letter-spacing:0.02px;color:#d8342a">0.9</div>
<div class="t" style="left:574.3px;top:1009px;font-size:15.8px;letter-spacing:0.13px"><b style="color:#7fb5d9">Lifetime</b> and <b style="color:#8fcf8d">population</b> sparsity</div>
<div class="t" style="left:619px;top:1027px;font-size:13px;letter-spacing:0.06px">as a function of dropout <i>p</i></div>
<div class="t" style="left:611.4px;top:1230px;font-size:15.8px;letter-spacing:0.17px">Dropout proportion (<i>p</i>)</div>
<div class="t" style="left:919.1px;top:1046px;font-size:16.3px;letter-spacing:-0.07px"><span class="ar">➢</span> All models <b>learn</b></div>
<div class="t" style="left:919.1px;top:1066px;font-size:16.3px;letter-spacing:0.02px"><b>well</b>, despite dramatic</div>
<div class="t" style="left:919.1px;top:1086px;font-size:16.3px;letter-spacing:-0.13px"><b>differences</b> in internal</div>
<div class="t" style="left:919.1px;top:1105px;font-size:16.3px;letter-spacing:-0.11px">representation</div>
<div class="t" style="left:919.1px;top:1158px;font-size:16.3px;letter-spacing:-0.07px"><span class="ar">➢</span> Consistent signature:</div>
<div class="t" style="left:919.1px;top:1178px;font-size:16.3px;letter-spacing:-0.05px">increasing dropout <b>lowers</b></div>
<div class="t" style="left:919.1px;top:1198px;font-size:16.3px;letter-spacing:-0.16px"><b>activation sparsity</b></div>
<div class="t hv2" style="left:1165px;top:236px;transform:scaleX(0.9426);font-size:28.3px;font-weight:700">4.&nbsp; How does dropout affect robustness to simulated lesions?</div>
<div class="t" style="left:1342.1px;top:286px;font-size:15.8px;letter-spacing:0.19px;font-style:italic">Intuition:</div>
<div class="t" style="left:1218.2px;top:304px;font-size:15.8px;letter-spacing:-0.12px">Sparse Coding</div>
<div class="t" style="left:1412.3px;top:305px;font-size:15.8px;letter-spacing:-0.08px">Distributed Coding</div>
<div class="t" style="left:1212px;top:372px;font-size:15.8px;letter-spacing:-0.09px;color:#e9519f;font-style:italic">less distributed</div>
<div class="t" style="left:1225.9px;top:391px;font-size:15.8px;letter-spacing:-0.16px;color:#e9519f;font-style:italic">information</div>
<div class="t" style="left:1420.7px;top:371px;font-size:15.8px;letter-spacing:-0.02px;color:#e9519f;font-style:italic">more distributed</div>
<div class="t" style="left:1439px;top:390px;font-size:15.8px;letter-spacing:-0.2px;color:#e9519f;font-style:italic">information</div>
<div class="t" style="left:1284.7px;top:429px;font-size:15.8px;letter-spacing:0.15px;font-style:italic">increasing dropout,</div>
<div class="t" style="left:1272px;top:448px;font-size:15.8px;letter-spacing:0.07px;font-style:italic">increasing robustness?</div>
<div class="t lt2" style="left:1491.2px;top:463px;font-size:15.8px;letter-spacing:-0.4px;color:#e8883a">applied at</div>
<div class="t lt2" style="left:1493.3px;top:483px;font-size:15.8px;letter-spacing:-0.52px;color:#e8883a">inference</div>
<div class="t lt2" style="left:1235.2px;top:492px;font-size:15.8px;letter-spacing:-0.6px;color:#111">ImageNet</div>
<div class="t lt2" style="left:1382.8px;top:495px;font-size:15.8px;letter-spacing:-0.6px;color:#111">AlexNet</div>
<div class="t" style="left:1648px;top:291px;font-size:15.8px;letter-spacing:0.24px">Impact of lesioning fc6 on recognition accuracy</div>
<div class="t d" style="left:1641.33px;top:536px;font-size:9.6px;color:#333">0.0</div>
<div class="t d" style="left:1676.63px;top:536px;font-size:9.6px;color:#333">0.1</div>
<div class="t d" style="left:1711.94px;top:536px;font-size:9.6px;color:#333">0.2</div>
<div class="t d" style="left:1747.24px;top:536px;font-size:9.6px;color:#333">0.3</div>
<div class="t d" style="left:1782.55px;top:536px;font-size:9.6px;color:#333">0.4</div>
<div class="t d" style="left:1817.86px;top:536px;font-size:9.6px;color:#333">0.5</div>
<div class="t d" style="left:1853.16px;top:536px;font-size:9.6px;color:#333">0.6</div>
<div class="t d" style="left:1888.47px;top:536px;font-size:9.6px;color:#333">0.7</div>
<div class="t d" style="left:1923.77px;top:536px;font-size:9.6px;color:#333">0.8</div>
<div class="t d" style="left:1959.08px;top:536px;font-size:9.6px;color:#333">0.9</div>
<div class="t d" style="left:1609.29px;top:328px;font-size:9.6px;color:#333">100</div>
<div class="t d" style="left:1615.38px;top:369px;font-size:9.6px;color:#333">80</div>
<div class="t d" style="left:1615.38px;top:411px;font-size:9.6px;color:#333">60</div>
<div class="t d" style="left:1615.38px;top:452px;font-size:9.6px;color:#333">40</div>
<div class="t d" style="left:1615.38px;top:493px;font-size:9.6px;color:#333">20</div>
<div class="t" style="left:1741.4px;top:376px;font-size:12.4px;letter-spacing:0.13px;font-weight:700">mild</div>
<div class="t" style="left:1737.9px;top:392px;font-size:12.4px;letter-spacing:-0.11px;color:#222">lesion</div>
<div class="t" style="left:1831.4px;top:423px;font-size:12.4px;letter-spacing:0.3px;font-weight:700">moderate</div>
<div class="t" style="left:1845.1px;top:438px;font-size:12.4px;letter-spacing:-0.11px;color:#222">lesion</div>
<div class="t" style="left:1914.2px;top:492px;font-size:12.4px;letter-spacing:0.12px;font-weight:700">severe</div>
<div class="t" style="left:1917.8px;top:508px;font-size:12.4px;letter-spacing:-0.13px;color:#222">lesion</div>
<div class="t" style="left:1587.8px;top:502.84px;transform:rotate(-90deg);font-size:15.8px;letter-spacing:0.12px">% baseline accuracy</div>
<div class="t" style="left:1697px;top:554px;font-size:15.8px;letter-spacing:0.21px">Proportion fc6 units lesioned</div>
<div class="t" style="left:2089.6px;top:290px;font-size:21px;letter-spacing:0.02px;font-weight:700;font-style:italic">Observations</div>
<div class="t" style="left:2076.8px;top:337px;font-size:16.3px;letter-spacing:-0.16px"><span class="ar">➢</span> <b>Peak robustness</b></div>
<div class="t" style="left:2076.8px;top:357px;font-size:16.3px;letter-spacing:0.02px">occurs at high (but not</div>
<div class="t" style="left:2076.8px;top:376px;font-size:16.3px;letter-spacing:-0.08px">extreme) levels of dropout</div>
<div class="t" style="left:2076.8px;top:396px;font-size:16.3px;letter-spacing:-0.31px">(<b>p = 0.7</b>)</div>
<div class="t" style="left:2076.8px;top:440px;font-size:16.3px;letter-spacing:-0.05px"><span class="ar">➢</span> Suggests an optimal</div>
<div class="t" style="left:2076.8px;top:460px;font-size:16.3px;letter-spacing:-0.11px">balance between <b>lesion</b></div>
<div class="t" style="left:2076.8px;top:480px;font-size:16.3px;letter-spacing:-0.19px"><b>robustness</b> and</div>
<div class="t" style="left:2076.8px;top:500px;font-size:16.3px;letter-spacing:-0.14px"><b>information capacity</b>?</div>
<div class="t hv2" style="left:1164.8px;top:603px;transform:scaleX(0.9397);font-size:28.3px;font-weight:700">5.&nbsp; Can we gain insight into how the brain represents visual information?</div>
<div class="t" style="left:1198.4px;top:650px;font-size:15.6px;letter-spacing:-0.1px;color:#111">Natural Scenes Dataset (NSD); Allen et al. 2022;</div>
<div class="t" style="left:1198.4px;top:672px;font-size:15.6px;letter-spacing:0.01px;color:#111">N=8; 515 images per subject; 7T fMRI</div>
<div class="t" style="left:1220.1px;top:785px;font-size:12.4px;letter-spacing:0.11px;color:#222">Occipitotemporal cortex</div>
<div class="t" style="left:1260px;top:875px;font-size:12.4px;letter-spacing:-0.13px;color:#222">AlexNet</div>
<div class="t" style="left:1462.8px;top:707px;font-size:15.8px;letter-spacing:-0.06px">Voxels</div>
<div class="t" style="left:1435.5px;top:814px;font-size:15.8px;letter-spacing:0.06px">Layer fc6 units</div>
<div class="t" style="left:1411.3px;top:776.32px;transform:rotate(-90deg);font-size:15.8px;letter-spacing:-0.04px">Stimuli</div>
<div class="t" style="left:1411.3px;top:888.31px;transform:rotate(-90deg);font-size:15.8px;letter-spacing:-0.03px">Stimuli</div>
<div class="t" style="left:1601.8px;top:701px;font-size:15.8px;letter-spacing:-0.01px">Brain RDM</div>
<div class="t" style="left:1598.6px;top:809px;font-size:15.8px;letter-spacing:0.02px">Model RDM</div>
<div class="t" style="left:1832.1px;top:669px;font-size:15.8px;letter-spacing:0.29px">Model-brain</div>
<div class="t" style="left:1815.1px;top:688px;font-size:15.8px;letter-spacing:0.12px">RSA correlations</div>
<div class="t d" style="left:1759.6px;top:707px;font-size:8.8px;color:#333">0.5</div>
<div class="t d" style="left:1759.6px;top:745px;font-size:8.8px;color:#333">0.4</div>
<div class="t d" style="left:1759.6px;top:782px;font-size:8.8px;color:#333">0.3</div>
<div class="t d" style="left:1759.6px;top:820px;font-size:8.8px;color:#333">0.2</div>
<div class="t d" style="left:1759.6px;top:858px;font-size:8.8px;color:#333">0.1</div>
<div class="t d" style="left:1759.6px;top:896px;font-size:8.8px;color:#333">0.0</div>
<div class="t d" style="left:1790.91px;top:917.2px;transform:rotate(-90deg);font-size:8.8px;color:#333">0.0</div>
<div class="t d" style="left:1808.18px;top:917.2px;transform:rotate(-90deg);font-size:8.8px;color:#333">0.1</div>
<div class="t d" style="left:1825.45px;top:917.2px;transform:rotate(-90deg);font-size:8.8px;color:#333">0.2</div>
<div class="t d" style="left:1842.72px;top:917.2px;transform:rotate(-90deg);font-size:8.8px;color:#333">0.3</div>
<div class="t d" style="left:1859.99px;top:917.2px;transform:rotate(-90deg);font-size:8.8px;color:#333">0.4</div>
<div class="t d" style="left:1877.26px;top:917.2px;transform:rotate(-90deg);font-size:8.8px;color:#333">0.5</div>
<div class="t d" style="left:1894.53px;top:917.2px;transform:rotate(-90deg);font-size:8.8px;color:#333">0.6</div>
<div class="t d" style="left:1911.79px;top:917.2px;transform:rotate(-90deg);font-size:8.8px;color:#333">0.7</div>
<div class="t d" style="left:1929.06px;top:917.2px;transform:rotate(-90deg);font-size:8.8px;color:#333">0.8</div>
<div class="t d" style="left:1946.33px;top:917.2px;transform:rotate(-90deg);font-size:8.8px;color:#333">0.9</div>
<div class="t" style="left:1731.4px;top:838.55px;transform:rotate(-90deg);font-size:15.8px;letter-spacing:0.1px">Pearson <i>r</i></div>
<div class="t" style="left:1839.2px;top:924px;font-size:15.8px;letter-spacing:0.22px">Dropout <i>p</i></div>
<div class="t" style="left:2082.8px;top:709px;font-size:16.3px;letter-spacing:-0.14px"><span class="ar">➢</span> Natural Scenes Dataset:</div>
<div class="t" style="left:2082.8px;top:729px;font-size:16.3px;letter-spacing:-0.23px"><b>rich, highly reliable</b></div>
<div class="t" style="left:2082.8px;top:749px;font-size:16.3px;letter-spacing:-0.13px">responses to COCO</div>
<div class="t" style="left:2082.8px;top:769px;font-size:16.3px;letter-spacing:-0.09px">scene stimuli…</div>
<div class="t" style="left:2079.9px;top:813px;font-size:16.3px;letter-spacing:-0.05px"><span class="ar">➢</span> Most <b>robust</b> model</div>
<div class="t" style="left:2079.9px;top:833px;font-size:16.3px;letter-spacing:-0.1px">also has the highest</div>
<div class="t" style="left:2079.9px;top:852px;font-size:16.3px;letter-spacing:-0.05px">unweighted RSA <b>fit to</b></div>
<div class="t" style="left:2079.9px;top:873px;font-size:16.3px;letter-spacing:-0.15px"><b>human OTC</b> responses!</div>
<div class="t" style="left:1165.2px;top:947px;font-size:19px;letter-spacing:0.09px;font-weight:700">Generative Modeling of Signal and Noise (GSN, Kay et al. 2024)</div>
<div class="t" style="left:1169.5px;top:978px;font-size:15.8px;letter-spacing:0.1px">Data covariance</div>
<div class="t" style="left:1310.1px;top:978px;font-size:15.8px;letter-spacing:0.14px">Noise covariance</div>
<div class="t" style="left:1453px;top:978px;font-size:15.8px;letter-spacing:0.13px">Signal covariance</div>
<div class="t" style="left:1187px;top:1124px;font-size:15.8px;letter-spacing:0.19px">empirically</div>
<div class="t" style="left:1190.2px;top:1144px;font-size:15.8px;letter-spacing:0.03px">measured</div>
<div class="t" style="left:1335.1px;top:1124px;font-size:15.8px;letter-spacing:0.22px">estimated</div>
<div class="t" style="left:1335.1px;top:1144px;font-size:15.8px;letter-spacing:0.14px">using trial</div>
<div class="t" style="left:1332.4px;top:1163px;font-size:15.8px;letter-spacing:0.18px">repetitions</div>
<div class="t" style="left:1478px;top:1125px;font-size:15.8px;letter-spacing:0.06px;color:#111">decompose:</div>
<div class="t" style="left:1460.5px;top:1145px;font-size:15.8px;letter-spacing:-0.04px;font-weight:700">“denoised PCA”</div>
<div class="t" style="left:1645.4px;top:978px;font-size:15.8px;letter-spacing:0.16px">Brain eigenspectra</div>
<div class="t d" style="left:1646.76px;top:1007px;font-size:9.8px;color:#333">10<sup>2</sup></div>
<div class="t d" style="left:1646.76px;top:1041px;font-size:9.8px;color:#333">10<sup>1</sup></div>
<div class="t d" style="left:1646.76px;top:1074px;font-size:9.8px;color:#333">10<sup>0</sup></div>
<div class="t d" style="left:1641.01px;top:1109px;font-size:9.8px;color:#333">10<sup>−1</sup></div>
<div class="t d" style="left:1663.29px;top:1131px;font-size:9.8px;color:#333">10<sup>0</sup></div>
<div class="t d" style="left:1705.04px;top:1131px;font-size:9.8px;color:#333">10<sup>1</sup></div>
<div class="t d" style="left:1746.8px;top:1131px;font-size:9.8px;color:#333">10<sup>2</sup></div>
<div class="t" style="left:1617.4px;top:1108.56px;transform:rotate(-90deg);font-size:15.8px;letter-spacing:0.08px">log variance</div>
<div class="t" style="left:1659px;top:1151px;font-size:15.8px;letter-spacing:0.17px">log PC dimension</div>
<div class="t" style="left:1836.9px;top:978px;font-size:15.8px;letter-spacing:0.09px">Spectral decay (alpha)</div>
<div class="t" style="left:1846px;top:1006px;font-size:13px;letter-spacing:-0.18px;color:#d6a645">mean</div>
<div class="t" style="left:1826.9px;top:1022px;font-size:13px;letter-spacing:-0.02px;color:#d6a645">alpha = <b>1.13</b></div>
<div class="t" style="left:1933.4px;top:1006px;font-size:13px;letter-spacing:0.11px;color:#d6a645"><i>p</i> = 0.7</div>
<div class="t" style="left:1917.7px;top:1022px;font-size:13px;letter-spacing:-0.02px;color:#d6a645">alpha = <b>1.17</b></div>
<div class="t" style="left:1799.67px;top:1034px;font-size:10.6px;color:#111">1.6</div>
<div class="t" style="left:1808.49px;top:1081px;font-size:10.6px;color:#111">1</div>
<div class="t" style="left:1799.67px;top:1128px;font-size:10.6px;color:#111">0.4</div>
<div class="t" style="left:1828.4px;top:1146px;font-size:15.8px;letter-spacing:0.03px">Humans</div>
<div class="t" style="left:1932.2px;top:1146px;font-size:15.8px;letter-spacing:0.29px">Models</div>
<div class="t" style="left:2077.2px;top:994px;font-size:16.3px;letter-spacing:-0.11px"><span class="ar">➢</span> GSN: allows for <b>more</b></div>
<div class="t" style="left:2077.2px;top:1014px;font-size:16.3px;letter-spacing:-0.01px"><b>accurate</b> estimates of the</div>
<div class="t" style="left:2077.2px;top:1033px;font-size:16.3px;letter-spacing:-0.06px">signal eigenspectrum…</div>
<div class="t" style="left:2077.2px;top:1080px;font-size:16.3px;letter-spacing:-0.12px"><span class="ar">➢</span> Peak brain alignment is</div>
<div class="t" style="left:2077.2px;top:1100px;font-size:16.3px;letter-spacing:-0.05px">associated with <b>similar</b></div>
<div class="t" style="left:2077.2px;top:1119px;font-size:16.3px;letter-spacing:-0.08px"><b>rates of eigenspectrum</b></div>
<div class="t" style="left:2077.2px;top:1138px;font-size:16.3px;letter-spacing:-0.23px"><b>decay!</b></div>
<div class="t hv2" style="left:1164.5px;top:1207px;transform:scaleX(0.9375);font-size:28.3px;font-weight:700">6.&nbsp; Conclusions and open questions</div>
<div class="t" style="left:1193px;top:1260px;font-size:15.6px;letter-spacing:0.23px"><span class="ar">➢</span> Varying degree of <b>regularization</b> allows us to operationalize different</div>
<div class="t" style="left:1193px;top:1278px;font-size:15.6px;letter-spacing:0.27px">representational theories, holding diet, architecture, and goal constant.</div>
<div class="t" style="left:1193px;top:1318px;font-size:15.6px;letter-spacing:0.24px"><span class="ar">➢</span> Does the brain leverage dropout as a <b>mechanism</b>? What biological pressures</div>
<div class="t" style="left:1193px;top:1337px;font-size:15.6px;letter-spacing:0.27px">underlie this <b>balance</b> between sparse and distributed representation in the brain?</div>
<div class="t lt2" style="left:1888.1px;top:1210px;font-size:20.5px;letter-spacing:0.26px;font-style:italic">Dropout paper</div>
<div class="t lt2" style="left:2075.3px;top:1210px;font-size:20.5px;letter-spacing:0.15px;font-style:italic">GSN paper</div>
<div class="t lt" style="left:133px;top:1321px;font-size:27px;letter-spacing:-1.19px">jprince@g.harvard.edu</div>
<div class="t lt" style="left:505px;top:1321px;font-size:27px;letter-spacing:-1.29px">@_jacobprince_</div>
<div class="t lt" style="left:803.7px;top:1321px;font-size:27px;letter-spacing:-0.7px">jacob-prince.github.io</div>
</body></html>
